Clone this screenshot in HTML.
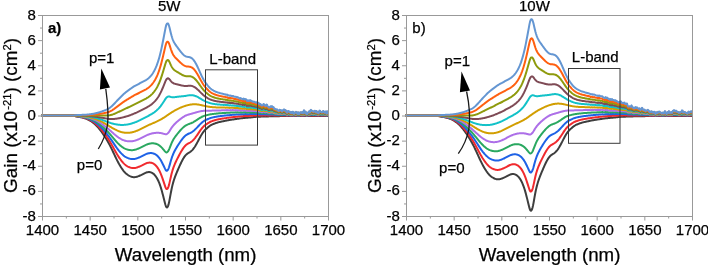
<!DOCTYPE html>
<html><head><meta charset="utf-8"><style>
html,body{margin:0;padding:0;background:#fff;overflow:hidden;}
svg{display:block;will-change:transform;}
text{font-family:"Liberation Sans",sans-serif;fill:#000;stroke:#000;stroke-width:0.25px;}
.tl{font-size:15px;}
.lb{font-size:15px;font-weight:bold;}
.at{font-size:18.7px;}
.sup{font-size:11.3px;}
</style></head><body>
<svg width="708" height="265" viewBox="0 0 708 265">
<g fill="none" stroke-width="2" stroke-linejoin="round" stroke-linecap="round">
<polyline points="42.0,115.60 42.5,115.60 43.0,115.60 43.5,115.60 44.0,115.60 44.5,115.60 45.0,115.60 45.5,115.60 46.0,115.60 46.5,115.60 47.0,115.60 47.5,115.60 48.0,115.60 48.5,115.60 49.0,115.60 49.5,115.60 50.0,115.60 50.5,115.60 51.0,115.60 51.5,115.60 52.0,115.60 52.5,115.60 53.0,115.60 53.5,115.60 54.0,115.60 54.5,115.60 55.0,115.60 55.5,115.60 56.0,115.60 56.5,115.60 57.0,115.60 57.5,115.60 58.0,115.60 58.5,115.60 59.0,115.60 59.5,115.60 60.0,115.60 60.5,115.60 61.0,115.60 61.5,115.60 62.0,115.60 62.5,115.60 63.0,115.60 63.5,115.60 64.0,115.60 64.5,115.60 65.0,115.60 65.5,115.60 66.0,115.60 66.5,115.60 67.0,115.60 67.5,115.60 68.0,115.60 68.5,115.60 69.0,115.60 69.5,115.60 70.0,115.61 70.5,115.62 71.0,115.63 71.5,115.66 72.0,115.70 72.5,115.75 73.0,115.81 73.5,115.89 74.0,115.97 74.5,116.05 75.0,116.14 75.5,116.24 76.0,116.33 76.5,116.43 77.0,116.52 77.5,116.62 78.0,116.71 78.5,116.80 79.0,116.89 79.5,116.99 80.0,117.08 80.5,117.18 81.0,117.28 81.5,117.39 82.0,117.50 82.5,117.62 83.0,117.75 83.5,117.88 84.0,118.02 84.5,118.17 85.0,118.33 85.5,118.50 86.0,118.68 86.5,118.87 87.0,119.08 87.5,119.30 88.0,119.53 88.5,119.77 89.0,120.02 89.5,120.29 90.0,120.58 90.5,120.87 91.0,121.18 91.5,121.51 92.0,121.85 92.5,122.20 93.0,122.58 93.5,122.97 94.0,123.39 94.5,123.82 95.0,124.28 95.5,124.75 96.0,125.24 96.5,125.75 97.0,126.28 97.5,126.81 98.0,127.37 98.5,127.95 99.0,128.54 99.5,129.16 100.0,129.79 100.5,130.43 101.0,131.10 101.5,131.78 102.0,132.47 102.5,133.18 103.0,133.91 103.5,134.65 104.0,135.39 104.5,136.15 105.0,136.93 105.5,137.71 106.0,138.52 106.5,139.34 107.0,140.17 107.5,141.02 108.0,141.88 108.5,142.77 109.0,143.69 109.5,144.63 110.0,145.60 110.5,146.58 111.0,147.59 111.5,148.60 112.0,149.63 112.5,150.68 113.0,151.73 113.5,152.79 114.0,153.86 114.5,154.92 115.0,155.98 115.5,157.03 116.0,158.07 116.5,159.10 117.0,160.10 117.5,161.08 118.0,162.04 118.5,162.97 119.0,163.87 119.5,164.74 120.0,165.58 120.5,166.40 121.0,167.20 121.5,167.97 122.0,168.72 122.5,169.44 123.0,170.13 123.5,170.78 124.0,171.40 124.5,171.98 125.0,172.52 125.5,173.03 126.0,173.48 126.5,173.91 127.0,174.30 127.5,174.66 128.0,175.00 128.5,175.32 129.0,175.62 129.5,175.89 130.0,176.14 130.5,176.37 131.0,176.58 131.5,176.75 132.0,176.91 132.5,177.03 133.0,177.11 133.5,177.17 134.0,177.18 134.5,177.17 135.0,177.12 135.5,177.04 136.0,176.94 136.5,176.82 137.0,176.67 137.5,176.51 138.0,176.33 138.5,176.15 139.0,175.95 139.5,175.75 140.0,175.54 140.5,175.32 141.0,175.09 141.5,174.86 142.0,174.61 142.5,174.36 143.0,174.09 143.5,173.83 144.0,173.57 144.5,173.32 145.0,173.08 145.5,172.86 146.0,172.65 146.5,172.48 147.0,172.33 147.5,172.21 148.0,172.13 148.5,172.08 149.0,172.07 149.5,172.09 150.0,172.15 150.5,172.24 151.0,172.38 151.5,172.58 152.0,172.82 152.5,173.11 153.0,173.46 153.5,173.86 154.0,174.32 154.5,174.82 155.0,175.39 155.5,176.01 156.0,176.69 156.5,177.44 157.0,178.27 157.5,179.19 158.0,180.19 158.5,181.27 159.0,182.45 159.5,183.71 160.0,185.07 160.5,186.54 161.0,188.11 161.5,189.78 162.0,191.55 162.5,193.41 163.0,195.34 163.5,197.27 164.0,199.21 164.5,201.16 165.0,203.14 165.5,205.02 166.0,206.50 166.5,207.35 167.0,207.46 167.5,207.02 168.0,206.17 168.5,204.66 169.0,202.59 169.5,200.12 170.0,197.44 170.5,194.66 171.0,191.99 171.5,189.47 172.0,187.14 172.5,185.04 173.0,183.13 173.5,181.40 174.0,179.82 174.5,178.34 175.0,176.95 175.5,175.63 176.0,174.35 176.5,173.12 177.0,171.92 177.5,170.74 178.0,169.58 178.5,168.43 179.0,167.29 179.5,166.17 180.0,165.07 180.5,163.99 181.0,162.95 181.5,161.93 182.0,160.94 182.5,159.99 183.0,159.09 183.5,158.23 184.0,157.42 184.5,156.68 185.0,156.00 185.5,155.39 186.0,154.85 186.5,154.37 187.0,153.96 187.5,153.59 188.0,153.26 188.5,152.96 189.0,152.66 189.5,152.35 190.0,152.02 190.5,151.67 191.0,151.28 191.5,150.85 192.0,150.37 192.5,149.84 193.0,149.26 193.5,148.63 194.0,147.95 194.5,147.23 195.0,146.47 195.5,145.66 196.0,144.82 196.5,143.95 197.0,143.06 197.5,142.14 198.0,141.21 198.5,140.26 199.0,139.30 199.5,138.35 200.0,137.42 200.5,136.51 201.0,135.63 201.5,134.78 202.0,133.97 202.5,133.19 203.0,132.46 203.5,131.78 204.0,131.14 204.5,130.56 205.0,130.03 205.5,129.54 206.0,129.07 206.5,128.63 207.0,128.18 207.5,127.74 208.0,127.30 208.5,126.88 209.0,126.48 209.5,126.11 210.0,125.77 210.5,125.46 211.0,125.16 211.5,124.89 212.0,124.64 212.5,124.40 213.0,124.18 213.5,123.97 214.0,123.76 214.5,123.57 215.0,123.38 215.5,123.20 216.0,123.02 216.5,122.85 217.0,122.69 217.5,122.54 218.0,122.39 218.5,122.26 219.0,122.13 219.5,122.01 220.0,121.90 220.5,121.79 221.0,121.69 221.5,121.58 222.0,121.48 222.5,121.37 223.0,121.26 223.5,121.16 224.0,121.06 224.5,120.96 225.0,120.86 225.5,120.76 226.0,120.66 226.5,120.56 227.0,120.46 227.5,120.36 228.0,120.27 228.5,120.18 229.0,120.10 229.5,120.02 230.0,119.93 230.5,119.85 231.0,119.76 231.5,119.68 232.0,119.60 232.5,119.53 233.0,119.45 233.5,119.39 234.0,119.32 234.5,119.24 235.0,119.17 235.5,119.09 236.0,119.02 236.5,118.94 237.0,118.87 237.5,118.81 238.0,118.74 238.5,118.67 239.0,118.59 239.5,118.52 240.0,118.45 240.5,118.38 241.0,118.32 241.5,118.26 242.0,118.20 242.5,118.15 243.0,118.09 243.5,118.04 244.0,117.99 244.5,117.94 245.0,117.89 245.5,117.84 246.0,117.80 246.5,117.76 247.0,117.72 247.5,117.68 248.0,117.65 248.5,117.61 249.0,117.57 249.5,117.53 250.0,117.48 250.5,117.44 251.0,117.39 251.5,117.34 252.0,117.29 252.5,117.23 253.0,117.17 253.5,117.12 254.0,117.06 254.5,117.01 255.0,116.95 255.5,116.91 256.0,116.87 256.5,116.83 257.0,116.80 257.5,116.77 258.0,116.74 258.5,116.71 259.0,116.69 259.5,116.67 260.0,116.65 260.5,116.63 261.0,116.61 261.5,116.60 262.0,116.59 262.5,116.57 263.0,116.56 263.5,116.55 264.0,116.53 264.5,116.52 265.0,116.50 265.5,116.48 266.0,116.46 266.5,116.45 267.0,116.43 267.5,116.41 268.0,116.39 268.5,116.38 269.0,116.36 269.5,116.34 270.0,116.32 270.5,116.30 271.0,116.29 271.5,116.27 272.0,116.25 272.5,116.23 273.0,116.21 273.5,116.20 274.0,116.19 274.5,116.19 275.0,116.18 275.5,116.17 276.0,116.17 276.5,116.16 277.0,116.16 277.5,116.15 278.0,116.14 278.5,116.14 279.0,116.13 279.5,116.13 280.0,116.12 280.5,116.11 281.0,116.11 281.5,116.10 282.0,116.10 282.5,116.09 283.0,116.08 283.5,116.08 284.0,116.07 284.5,116.07 285.0,116.06 285.5,116.05 286.0,116.05 286.5,116.04 287.0,116.04 287.5,116.03 288.0,116.02 288.5,116.02 289.0,116.01 289.5,116.01 290.0,116.00 290.5,116.00 291.0,116.00 291.5,116.00 292.0,115.99 292.5,115.99 293.0,115.99 293.5,115.99 294.0,115.99 294.5,115.99 295.0,115.99 295.5,115.99 296.0,115.98 296.5,115.98 297.0,115.98 297.5,115.98 298.0,115.98 298.5,115.98 299.0,115.98 299.5,115.97 300.0,115.97 300.5,115.97 301.0,115.97 301.5,115.97 302.0,115.97 302.5,115.97 303.0,115.97 303.5,115.96 304.0,115.96 304.5,115.96 305.0,115.96 305.5,115.96 306.0,115.96 306.5,115.96 307.0,115.96 307.5,115.95 308.0,115.95 308.5,115.95 309.0,115.95 309.5,115.95 310.0,115.95 310.5,115.95 311.0,115.94 311.5,115.94 312.0,115.94 312.5,115.94 313.0,115.94 313.5,115.94 314.0,115.94 314.5,115.94 315.0,115.93 315.5,115.93 316.0,115.93 316.5,115.93 317.0,115.93 317.5,115.93 318.0,115.93 318.5,115.92 319.0,115.92 319.5,115.92 320.0,115.92 320.5,115.92 321.0,115.92 321.5,115.92 322.0,115.92 322.5,115.91 323.0,115.91 323.5,115.91 324.0,115.91 324.5,115.91 325.0,115.91 325.5,115.91 326.0,115.91 326.5,115.90 327.0,115.90 327.5,115.90 328.0,115.90" stroke="#3e3e3e"/>
<polyline points="42.0,115.60 42.5,115.60 43.0,115.60 43.5,115.60 44.0,115.60 44.5,115.60 45.0,115.60 45.5,115.60 46.0,115.60 46.5,115.60 47.0,115.60 47.5,115.60 48.0,115.60 48.5,115.60 49.0,115.60 49.5,115.60 50.0,115.60 50.5,115.60 51.0,115.60 51.5,115.60 52.0,115.60 52.5,115.60 53.0,115.60 53.5,115.60 54.0,115.60 54.5,115.60 55.0,115.60 55.5,115.60 56.0,115.60 56.5,115.60 57.0,115.60 57.5,115.60 58.0,115.60 58.5,115.60 59.0,115.60 59.5,115.60 60.0,115.60 60.5,115.60 61.0,115.60 61.5,115.60 62.0,115.60 62.5,115.60 63.0,115.60 63.5,115.60 64.0,115.60 64.5,115.60 65.0,115.60 65.5,115.60 66.0,115.60 66.5,115.60 67.0,115.60 67.5,115.60 68.0,115.60 68.5,115.60 69.0,115.60 69.5,115.60 70.0,115.61 70.5,115.62 71.0,115.63 71.5,115.65 72.0,115.69 72.5,115.73 73.0,115.78 73.5,115.84 74.0,115.91 74.5,115.98 75.0,116.06 75.5,116.14 76.0,116.22 76.5,116.30 77.0,116.38 77.5,116.46 78.0,116.54 78.5,116.62 79.0,116.70 79.5,116.78 80.0,116.87 80.5,116.96 81.0,117.05 81.5,117.14 82.0,117.24 82.5,117.34 83.0,117.45 83.5,117.57 84.0,117.70 84.5,117.83 85.0,117.97 85.5,118.12 86.0,118.28 86.5,118.45 87.0,118.63 87.5,118.82 88.0,119.02 88.5,119.24 89.0,119.46 89.5,119.70 90.0,119.95 90.5,120.21 91.0,120.48 91.5,120.76 92.0,121.06 92.5,121.37 93.0,121.70 93.5,122.05 94.0,122.41 94.5,122.79 95.0,123.19 95.5,123.61 96.0,124.04 96.5,124.48 97.0,124.94 97.5,125.41 98.0,125.90 98.5,126.41 99.0,126.93 99.5,127.46 100.0,128.02 100.5,128.58 101.0,129.16 101.5,129.76 102.0,130.37 102.5,130.99 103.0,131.62 103.5,132.27 104.0,132.92 104.5,133.59 105.0,134.26 105.5,134.95 106.0,135.65 106.5,136.37 107.0,137.09 107.5,137.83 108.0,138.58 108.5,139.36 109.0,140.15 109.5,140.96 110.0,141.80 110.5,142.65 111.0,143.51 111.5,144.38 112.0,145.27 112.5,146.16 113.0,147.06 113.5,147.97 114.0,148.87 114.5,149.78 115.0,150.68 115.5,151.57 116.0,152.45 116.5,153.32 117.0,154.17 117.5,155.00 118.0,155.81 118.5,156.60 119.0,157.36 119.5,158.09 120.0,158.79 120.5,159.48 121.0,160.15 121.5,160.79 122.0,161.42 122.5,162.02 123.0,162.59 123.5,163.13 124.0,163.64 124.5,164.12 125.0,164.57 125.5,164.98 126.0,165.35 126.5,165.69 127.0,166.01 127.5,166.30 128.0,166.57 128.5,166.82 129.0,167.05 129.5,167.25 130.0,167.44 130.5,167.61 131.0,167.76 131.5,167.89 132.0,167.99 132.5,168.06 133.0,168.11 133.5,168.12 134.0,168.11 134.5,168.06 135.0,167.99 135.5,167.90 136.0,167.78 136.5,167.64 137.0,167.48 137.5,167.31 138.0,167.13 138.5,166.94 139.0,166.74 139.5,166.53 140.0,166.31 140.5,166.09 141.0,165.85 141.5,165.61 142.0,165.37 142.5,165.11 143.0,164.85 143.5,164.59 144.0,164.33 144.5,164.08 145.0,163.84 145.5,163.61 146.0,163.39 146.5,163.20 147.0,163.03 147.5,162.89 148.0,162.78 148.5,162.70 149.0,162.64 149.5,162.61 150.0,162.61 150.5,162.65 151.0,162.72 151.5,162.83 152.0,162.98 152.5,163.17 153.0,163.41 153.5,163.69 154.0,164.01 154.5,164.37 155.0,164.78 155.5,165.23 156.0,165.73 156.5,166.29 157.0,166.91 157.5,167.59 158.0,168.34 158.5,169.16 159.0,170.05 159.5,171.01 160.0,172.04 160.5,173.16 161.0,174.36 161.5,175.64 162.0,177.00 162.5,178.43 163.0,179.91 163.5,181.39 164.0,182.88 164.5,184.37 165.0,185.89 165.5,187.32 166.0,188.44 166.5,189.05 167.0,189.08 167.5,188.65 168.0,187.90 168.5,186.63 169.0,184.90 169.5,182.87 170.0,180.65 170.5,178.37 171.0,176.16 171.5,174.08 172.0,172.16 172.5,170.41 173.0,168.83 173.5,167.38 174.0,166.06 174.5,164.82 175.0,163.65 175.5,162.53 176.0,161.46 176.5,160.42 177.0,159.41 177.5,158.41 178.0,157.43 178.5,156.46 179.0,155.51 179.5,154.56 180.0,153.64 180.5,152.74 181.0,151.86 181.5,151.00 182.0,150.17 182.5,149.37 183.0,148.61 183.5,147.88 184.0,147.20 184.5,146.57 185.0,145.99 185.5,145.47 186.0,145.01 186.5,144.60 187.0,144.24 187.5,143.92 188.0,143.63 188.5,143.36 189.0,143.10 189.5,142.83 190.0,142.55 190.5,142.25 191.0,141.92 191.5,141.57 192.0,141.17 192.5,140.74 193.0,140.27 193.5,139.76 194.0,139.22 194.5,138.64 195.0,138.03 195.5,137.39 196.0,136.72 196.5,136.03 197.0,135.33 197.5,134.60 198.0,133.87 198.5,133.13 199.0,132.38 199.5,131.64 200.0,130.91 200.5,130.20 201.0,129.52 201.5,128.86 202.0,128.23 202.5,127.64 203.0,127.07 203.5,126.55 204.0,126.07 204.5,125.63 205.0,125.22 205.5,124.85 206.0,124.50 206.5,124.16 207.0,123.83 207.5,123.49 208.0,123.16 208.5,122.84 209.0,122.53 209.5,122.25 210.0,121.99 210.5,121.75 211.0,121.53 211.5,121.33 212.0,121.14 212.5,120.95 213.0,120.78 213.5,120.62 214.0,120.47 214.5,120.31 215.0,120.17 215.5,120.03 216.0,119.89 216.5,119.76 217.0,119.64 217.5,119.52 218.0,119.41 218.5,119.30 219.0,119.20 219.5,119.11 220.0,119.02 220.5,118.94 221.0,118.86 221.5,118.77 222.0,118.69 222.5,118.60 223.0,118.52 223.5,118.45 224.0,118.37 224.5,118.28 225.0,118.20 225.5,118.14 226.0,118.07 226.5,117.96 227.0,117.87 227.5,117.82 228.0,117.79 228.5,117.68 229.0,117.63 229.5,117.60 230.0,117.51 230.5,117.41 231.0,117.37 231.5,117.31 232.0,117.24 232.5,117.16 233.0,117.11 233.5,117.07 234.0,117.04 234.5,117.01 235.0,116.94 235.5,116.85 236.0,116.78 236.5,116.77 237.0,116.72 237.5,116.64 238.0,116.60 238.5,116.58 239.0,116.53 239.5,116.51 240.0,116.45 240.5,116.36 241.0,116.34 241.5,116.28 242.0,116.26 242.5,116.26 243.0,116.20 243.5,116.09 244.0,116.09 244.5,116.10 245.0,116.00 245.5,115.97 246.0,115.94 246.5,115.96 247.0,116.05 247.5,115.97 248.0,115.91 248.5,115.93 249.0,115.91 249.5,115.84 250.0,115.74 250.5,115.78 251.0,115.75 251.5,115.68 252.0,115.69 252.5,115.66 253.0,115.63 253.5,115.57 254.0,115.52 254.5,115.52 255.0,115.46 255.5,115.45 256.0,115.46 256.5,115.40 257.0,115.34 257.5,115.37 258.0,115.35 258.5,115.31 259.0,115.39 259.5,115.43 260.0,115.39 260.5,115.36 261.0,115.44 261.5,115.50 262.0,115.48 262.5,115.46 263.0,115.39 263.5,115.29 264.0,115.30 264.5,115.35 265.0,115.42 265.5,115.43 266.0,115.37 266.5,115.26 267.0,115.25 267.5,115.38 268.0,115.42 268.5,115.44 269.0,115.48 269.5,115.47 270.0,115.41 270.5,115.30 271.0,115.31 271.5,115.34 272.0,115.24 272.5,115.31 273.0,115.32 273.5,115.29 274.0,115.42 274.5,115.46 275.0,115.44 275.5,115.48 276.0,115.51 276.5,115.50 277.0,115.47 277.5,115.54 278.0,115.57 278.5,115.62 279.0,115.61 279.5,115.49 280.0,115.50 280.5,115.53 281.0,115.51 281.5,115.57 282.0,115.62 282.5,115.56 283.0,115.49 283.5,115.50 284.0,115.40 284.5,115.44 285.0,115.53 285.5,115.45 286.0,115.52 286.5,115.65 287.0,115.71 287.5,115.65 288.0,115.52 288.5,115.51 289.0,115.57 289.5,115.61 290.0,115.58 290.5,115.70 291.0,115.72 291.5,115.60 292.0,115.70 292.5,115.57 293.0,115.58 293.5,115.78 294.0,115.77 294.5,115.65 295.0,115.63 295.5,115.66 296.0,115.58 296.5,115.60 297.0,115.72 297.5,115.77 298.0,115.60 298.5,115.64 299.0,115.79 299.5,115.72 300.0,115.62 300.5,115.59 301.0,115.59 301.5,115.67 302.0,115.65 302.5,115.55 303.0,115.70 303.5,115.63 304.0,115.39 304.5,115.53 305.0,115.65 305.5,115.51 306.0,115.60 306.5,115.79 307.0,115.77 307.5,115.68 308.0,115.63 308.5,115.55 309.0,115.49 309.5,115.60 310.0,115.57 310.5,115.38 311.0,115.34 311.5,115.39 312.0,115.45 312.5,115.45 313.0,115.51 313.5,115.52 314.0,115.47 314.5,115.44 315.0,115.41 315.5,115.55 316.0,115.57 316.5,115.43 317.0,115.51 317.5,115.62 318.0,115.60 318.5,115.66 319.0,115.56 319.5,115.39 320.0,115.40 320.5,115.47 321.0,115.52 321.5,115.53 322.0,115.57 322.5,115.53 323.0,115.43 323.5,115.43 324.0,115.53 324.5,115.59 325.0,115.57 325.5,115.47 326.0,115.45 326.5,115.68 327.0,115.67 327.5,115.45 328.0,115.44" stroke="#f02a2e"/>
<polyline points="42.0,115.60 42.5,115.60 43.0,115.60 43.5,115.60 44.0,115.60 44.5,115.60 45.0,115.60 45.5,115.60 46.0,115.60 46.5,115.60 47.0,115.60 47.5,115.60 48.0,115.60 48.5,115.60 49.0,115.60 49.5,115.60 50.0,115.60 50.5,115.60 51.0,115.60 51.5,115.60 52.0,115.60 52.5,115.60 53.0,115.60 53.5,115.60 54.0,115.60 54.5,115.60 55.0,115.60 55.5,115.60 56.0,115.60 56.5,115.60 57.0,115.60 57.5,115.60 58.0,115.60 58.5,115.60 59.0,115.60 59.5,115.60 60.0,115.60 60.5,115.60 61.0,115.60 61.5,115.60 62.0,115.60 62.5,115.60 63.0,115.60 63.5,115.60 64.0,115.60 64.5,115.60 65.0,115.60 65.5,115.60 66.0,115.60 66.5,115.60 67.0,115.60 67.5,115.60 68.0,115.60 68.5,115.60 69.0,115.60 69.5,115.60 70.0,115.61 70.5,115.61 71.0,115.63 71.5,115.64 72.0,115.67 72.5,115.71 73.0,115.75 73.5,115.80 74.0,115.85 74.5,115.91 75.0,115.98 75.5,116.04 76.0,116.11 76.5,116.18 77.0,116.24 77.5,116.31 78.0,116.38 78.5,116.44 79.0,116.51 79.5,116.58 80.0,116.65 80.5,116.73 81.0,116.81 81.5,116.89 82.0,116.98 82.5,117.07 83.0,117.16 83.5,117.26 84.0,117.37 84.5,117.49 85.0,117.61 85.5,117.74 86.0,117.88 86.5,118.03 87.0,118.18 87.5,118.35 88.0,118.52 88.5,118.71 89.0,118.90 89.5,119.10 90.0,119.32 90.5,119.54 91.0,119.78 91.5,120.02 92.0,120.28 92.5,120.55 93.0,120.83 93.5,121.13 94.0,121.44 94.5,121.77 95.0,122.11 95.5,122.46 96.0,122.83 96.5,123.21 97.0,123.61 97.5,124.01 98.0,124.43 98.5,124.86 99.0,125.31 99.5,125.77 100.0,126.25 100.5,126.73 101.0,127.23 101.5,127.74 102.0,128.26 102.5,128.79 103.0,129.34 103.5,129.89 104.0,130.45 104.5,131.02 105.0,131.60 105.5,132.19 106.0,132.79 106.5,133.40 107.0,134.02 107.5,134.65 108.0,135.29 108.5,135.94 109.0,136.61 109.5,137.30 110.0,138.00 110.5,138.71 111.0,139.43 111.5,140.16 112.0,140.90 112.5,141.64 113.0,142.39 113.5,143.14 114.0,143.89 114.5,144.63 115.0,145.37 115.5,146.11 116.0,146.83 116.5,147.54 117.0,148.24 117.5,148.92 118.0,149.58 118.5,150.22 119.0,150.84 119.5,151.43 120.0,152.01 120.5,152.56 121.0,153.10 121.5,153.62 122.0,154.12 122.5,154.60 123.0,155.05 123.5,155.48 124.0,155.89 124.5,156.26 125.0,156.61 125.5,156.93 126.0,157.22 126.5,157.48 127.0,157.71 127.5,157.93 128.0,158.13 128.5,158.31 129.0,158.47 129.5,158.62 130.0,158.75 130.5,158.86 131.0,158.95 131.5,159.02 132.0,159.07 132.5,159.10 133.0,159.10 133.5,159.08 134.0,159.03 134.5,158.96 135.0,158.87 135.5,158.75 136.0,158.62 136.5,158.46 137.0,158.30 137.5,158.12 138.0,157.93 138.5,157.73 139.0,157.52 139.5,157.30 140.0,157.08 140.5,156.85 141.0,156.61 141.5,156.37 142.0,156.12 142.5,155.86 143.0,155.60 143.5,155.34 144.0,155.09 144.5,154.83 145.0,154.59 145.5,154.35 146.0,154.13 146.5,153.92 147.0,153.74 147.5,153.57 148.0,153.43 148.5,153.31 149.0,153.21 149.5,153.14 150.0,153.08 150.5,153.05 151.0,153.05 151.5,153.08 152.0,153.14 152.5,153.23 153.0,153.35 153.5,153.51 154.0,153.70 154.5,153.92 155.0,154.17 155.5,154.45 156.0,154.77 156.5,155.13 157.0,155.54 157.5,155.99 158.0,156.49 158.5,157.05 159.0,157.65 159.5,158.30 160.0,159.01 160.5,159.78 161.0,160.61 161.5,161.50 162.0,162.44 162.5,163.44 163.0,164.47 163.5,165.51 164.0,166.54 164.5,167.58 165.0,168.64 165.5,169.63 166.0,170.39 166.5,170.76 167.0,170.69 167.5,170.29 168.0,169.64 168.5,168.60 169.0,167.22 169.5,165.61 170.0,163.87 170.5,162.07 171.0,160.33 171.5,158.69 172.0,157.17 172.5,155.78 173.0,154.52 173.5,153.36 174.0,152.29 174.5,151.29 175.0,150.34 175.5,149.43 176.0,148.56 176.5,147.72 177.0,146.89 177.5,146.08 178.0,145.29 178.5,144.50 179.0,143.72 179.5,142.96 180.0,142.21 180.5,141.48 181.0,140.76 181.5,140.07 182.0,139.40 182.5,138.75 183.0,138.13 183.5,137.54 184.0,136.98 184.5,136.47 185.0,135.99 185.5,135.56 186.0,135.17 186.5,134.82 187.0,134.52 187.5,134.24 188.0,134.00 188.5,133.76 189.0,133.54 189.5,133.31 190.0,133.08 190.5,132.84 191.0,132.57 191.5,132.29 192.0,131.98 192.5,131.64 193.0,131.28 193.5,130.89 194.0,130.48 194.5,130.05 195.0,129.59 195.5,129.11 196.0,128.62 196.5,128.11 197.0,127.60 197.5,127.07 198.0,126.53 198.5,125.99 199.0,125.45 199.5,124.92 200.0,124.39 200.5,123.89 201.0,123.40 201.5,122.94 202.0,122.50 202.5,122.08 203.0,121.69 203.5,121.32 204.0,120.99 204.5,120.69 205.0,120.41 205.5,120.16 206.0,119.92 206.5,119.70 207.0,119.47 207.5,119.24 208.0,119.02 208.5,118.80 209.0,118.59 209.5,118.39 210.0,118.22 210.5,118.05 211.0,117.90 211.5,117.76 212.0,117.63 212.5,117.51 213.0,117.39 213.5,117.28 214.0,117.17 214.5,117.06 215.0,116.96 215.5,116.86 216.0,116.77 216.5,116.67 217.0,116.58 217.5,116.51 218.0,116.42 218.5,116.33 219.0,116.26 219.5,116.20 220.0,116.14 220.5,116.09 221.0,116.03 221.5,115.97 222.0,115.90 222.5,115.82 223.0,115.78 223.5,115.75 224.0,115.68 224.5,115.60 225.0,115.53 225.5,115.52 226.0,115.47 226.5,115.37 227.0,115.28 227.5,115.28 228.0,115.30 228.5,115.18 229.0,115.16 229.5,115.19 230.0,115.09 230.5,114.98 231.0,114.97 231.5,114.94 232.0,114.87 232.5,114.80 233.0,114.77 233.5,114.76 234.0,114.76 234.5,114.77 235.0,114.70 235.5,114.61 236.0,114.55 236.5,114.60 237.0,114.56 237.5,114.46 238.0,114.47 238.5,114.49 239.0,114.46 239.5,114.50 240.0,114.45 240.5,114.33 241.0,114.36 241.5,114.31 242.0,114.32 242.5,114.37 243.0,114.31 243.5,114.15 244.0,114.20 244.5,114.27 245.0,114.10 245.5,114.10 246.0,114.08 246.5,114.16 247.0,114.37 247.5,114.26 248.0,114.18 248.5,114.25 249.0,114.25 249.5,114.15 250.0,114.00 250.5,114.11 251.0,114.10 251.5,114.03 252.0,114.09 252.5,114.09 253.0,114.08 253.5,114.02 254.0,113.97 254.5,114.04 255.0,113.97 255.5,113.99 256.0,114.05 256.5,113.97 257.0,113.88 257.5,113.97 258.0,113.95 258.5,113.91 259.0,114.09 259.5,114.18 260.0,114.13 260.5,114.09 261.0,114.27 261.5,114.40 262.0,114.37 262.5,114.35 263.0,114.21 263.5,114.03 264.0,114.07 264.5,114.19 265.0,114.34 265.5,114.38 266.0,114.27 266.5,114.07 267.0,114.08 267.5,114.35 268.0,114.46 268.5,114.50 269.0,114.60 269.5,114.59 270.0,114.50 270.5,114.30 271.0,114.33 271.5,114.40 272.0,114.23 272.5,114.39 273.0,114.43 273.5,114.37 274.0,114.64 274.5,114.73 275.0,114.70 275.5,114.79 276.0,114.85 276.5,114.83 277.0,114.78 277.5,114.93 278.0,115.01 278.5,115.10 279.0,115.09 279.5,114.86 280.0,114.89 280.5,114.94 281.0,114.91 281.5,115.04 282.0,115.15 282.5,115.03 283.0,114.89 283.5,114.91 284.0,114.74 284.5,114.81 285.0,115.00 285.5,114.85 286.0,114.99 286.5,115.25 287.0,115.38 287.5,115.27 288.0,115.01 288.5,115.00 289.0,115.12 289.5,115.21 290.0,115.17 290.5,115.39 291.0,115.44 291.5,115.20 292.0,115.40 292.5,115.15 293.0,115.17 293.5,115.57 294.0,115.56 294.5,115.30 295.0,115.28 295.5,115.34 296.0,115.17 296.5,115.22 297.0,115.46 297.5,115.57 298.0,115.21 298.5,115.30 299.0,115.60 299.5,115.46 300.0,115.27 300.5,115.21 301.0,115.22 301.5,115.37 302.0,115.34 302.5,115.13 303.0,115.43 303.5,115.30 304.0,114.82 304.5,115.09 305.0,115.34 305.5,115.07 306.0,115.24 306.5,115.63 307.0,115.59 307.5,115.41 308.0,115.31 308.5,115.15 309.0,115.04 309.5,115.25 310.0,115.20 310.5,114.82 311.0,114.73 311.5,114.83 312.0,114.97 312.5,114.96 313.0,115.08 313.5,115.10 314.0,115.00 314.5,114.95 315.0,114.89 315.5,115.16 316.0,115.20 316.5,114.93 317.0,115.09 317.5,115.31 318.0,115.27 318.5,115.39 319.0,115.19 319.5,114.86 320.0,114.89 320.5,115.02 321.0,115.13 321.5,115.14 322.0,115.23 322.5,115.16 323.0,114.95 323.5,114.95 324.0,115.15 324.5,115.26 325.0,115.23 325.5,115.03 326.0,115.00 326.5,115.45 327.0,115.44 327.5,115.00 328.0,114.97" stroke="#1e62e6"/>
<polyline points="42.0,115.60 42.5,115.60 43.0,115.60 43.5,115.60 44.0,115.60 44.5,115.60 45.0,115.60 45.5,115.60 46.0,115.60 46.5,115.60 47.0,115.60 47.5,115.60 48.0,115.60 48.5,115.60 49.0,115.60 49.5,115.60 50.0,115.60 50.5,115.60 51.0,115.60 51.5,115.60 52.0,115.60 52.5,115.60 53.0,115.60 53.5,115.60 54.0,115.60 54.5,115.60 55.0,115.60 55.5,115.60 56.0,115.60 56.5,115.60 57.0,115.60 57.5,115.60 58.0,115.60 58.5,115.60 59.0,115.60 59.5,115.60 60.0,115.60 60.5,115.60 61.0,115.60 61.5,115.60 62.0,115.60 62.5,115.60 63.0,115.60 63.5,115.60 64.0,115.60 64.5,115.60 65.0,115.60 65.5,115.60 66.0,115.60 66.5,115.60 67.0,115.60 67.5,115.60 68.0,115.60 68.5,115.60 69.0,115.60 69.5,115.60 70.0,115.61 70.5,115.61 71.0,115.62 71.5,115.64 72.0,115.66 72.5,115.69 73.0,115.72 73.5,115.76 74.0,115.80 74.5,115.84 75.0,115.89 75.5,115.94 76.0,116.00 76.5,116.05 77.0,116.10 77.5,116.16 78.0,116.21 78.5,116.27 79.0,116.32 79.5,116.38 80.0,116.44 80.5,116.50 81.0,116.57 81.5,116.64 82.0,116.71 82.5,116.79 83.0,116.87 83.5,116.96 84.0,117.05 84.5,117.15 85.0,117.25 85.5,117.36 86.0,117.48 86.5,117.60 87.0,117.74 87.5,117.87 88.0,118.02 88.5,118.18 89.0,118.34 89.5,118.51 90.0,118.69 90.5,118.88 91.0,119.07 91.5,119.28 92.0,119.49 92.5,119.72 93.0,119.96 93.5,120.20 94.0,120.46 94.5,120.74 95.0,121.02 95.5,121.32 96.0,121.63 96.5,121.95 97.0,122.27 97.5,122.61 98.0,122.96 98.5,123.32 99.0,123.70 99.5,124.08 100.0,124.47 100.5,124.88 101.0,125.29 101.5,125.72 102.0,126.15 102.5,126.60 103.0,127.05 103.5,127.51 104.0,127.98 104.5,128.45 105.0,128.93 105.5,129.42 106.0,129.92 106.5,130.43 107.0,130.94 107.5,131.46 108.0,131.99 108.5,132.53 109.0,133.07 109.5,133.63 110.0,134.20 110.5,134.77 111.0,135.35 111.5,135.94 112.0,136.53 112.5,137.12 113.0,137.72 113.5,138.31 114.0,138.90 114.5,139.49 115.0,140.07 115.5,140.65 116.0,141.21 116.5,141.77 117.0,142.31 117.5,142.84 118.0,143.35 118.5,143.84 119.0,144.32 119.5,144.78 120.0,145.22 120.5,145.64 121.0,146.05 121.5,146.44 122.0,146.82 122.5,147.18 123.0,147.51 123.5,147.83 124.0,148.13 124.5,148.40 125.0,148.65 125.5,148.88 126.0,149.08 126.5,149.26 127.0,149.42 127.5,149.57 128.0,149.69 128.5,149.81 129.0,149.90 129.5,149.98 130.0,150.05 130.5,150.10 131.0,150.13 131.5,150.15 132.0,150.15 132.5,150.13 133.0,150.09 133.5,150.03 134.0,149.95 134.5,149.85 135.0,149.74 135.5,149.60 136.0,149.45 136.5,149.29 137.0,149.11 137.5,148.92 138.0,148.72 138.5,148.51 139.0,148.30 139.5,148.08 140.0,147.85 140.5,147.61 141.0,147.37 141.5,147.13 142.0,146.88 142.5,146.62 143.0,146.36 143.5,146.10 144.0,145.84 144.5,145.59 145.0,145.34 145.5,145.10 146.0,144.87 146.5,144.65 147.0,144.44 147.5,144.26 148.0,144.08 148.5,143.93 149.0,143.78 149.5,143.66 150.0,143.55 150.5,143.45 151.0,143.38 151.5,143.33 152.0,143.30 152.5,143.29 153.0,143.30 153.5,143.33 154.0,143.39 154.5,143.46 155.0,143.56 155.5,143.67 156.0,143.81 156.5,143.98 157.0,144.17 157.5,144.39 158.0,144.65 158.5,144.93 159.0,145.25 159.5,145.60 160.0,145.98 160.5,146.40 161.0,146.86 161.5,147.36 162.0,147.89 162.5,148.45 163.0,149.04 163.5,149.62 164.0,150.21 164.5,150.79 165.0,151.39 165.5,151.94 166.0,152.33 166.5,152.47 167.0,152.31 167.5,151.92 168.0,151.38 168.5,150.57 169.0,149.54 169.5,148.35 170.0,147.08 170.5,145.77 171.0,144.51 171.5,143.30 172.0,142.19 172.5,141.16 173.0,140.21 173.5,139.34 174.0,138.53 174.5,137.76 175.0,137.04 175.5,136.34 176.0,135.67 176.5,135.01 177.0,134.38 177.5,133.75 178.0,133.14 178.5,132.53 179.0,131.94 179.5,131.35 180.0,130.78 180.5,130.22 181.0,129.67 181.5,129.14 182.0,128.62 182.5,128.13 183.0,127.65 183.5,127.19 184.0,126.76 184.5,126.36 185.0,125.98 185.5,125.64 186.0,125.33 186.5,125.05 187.0,124.80 187.5,124.57 188.0,124.36 188.5,124.17 189.0,123.98 189.5,123.80 190.0,123.61 190.5,123.42 191.0,123.22 191.5,123.01 192.0,122.78 192.5,122.54 193.0,122.29 193.5,122.02 194.0,121.74 194.5,121.45 195.0,121.15 195.5,120.84 196.0,120.52 196.5,120.20 197.0,119.87 197.5,119.53 198.0,119.20 198.5,118.86 199.0,118.53 199.5,118.20 200.0,117.88 200.5,117.58 201.0,117.29 201.5,117.02 202.0,116.76 202.5,116.52 203.0,116.30 203.5,116.09 204.0,115.91 204.5,115.75 205.0,115.60 205.5,115.47 206.0,115.35 206.5,115.23 207.0,115.12 207.5,115.00 208.0,114.87 208.5,114.75 209.0,114.64 209.5,114.53 210.0,114.44 210.5,114.35 211.0,114.27 211.5,114.19 212.0,114.12 212.5,114.06 213.0,113.99 213.5,113.93 214.0,113.87 214.5,113.81 215.0,113.75 215.5,113.70 216.0,113.64 216.5,113.58 217.0,113.53 217.5,113.49 218.0,113.44 218.5,113.37 219.0,113.33 219.5,113.30 220.0,113.26 220.5,113.24 221.0,113.20 221.5,113.16 222.0,113.12 222.5,113.05 223.0,113.05 223.5,113.04 224.0,112.99 224.5,112.92 225.0,112.86 225.5,112.90 226.0,112.88 226.5,112.78 227.0,112.69 227.5,112.74 228.0,112.82 228.5,112.68 229.0,112.69 229.5,112.77 230.0,112.67 230.5,112.54 231.0,112.57 231.5,112.57 232.0,112.51 232.5,112.44 233.0,112.43 233.5,112.44 234.0,112.48 234.5,112.53 235.0,112.47 235.5,112.37 236.0,112.32 236.5,112.42 237.0,112.41 237.5,112.29 238.0,112.34 238.5,112.40 239.0,112.39 239.5,112.49 240.0,112.46 240.5,112.30 241.0,112.38 241.5,112.34 242.0,112.38 242.5,112.49 243.0,112.42 243.5,112.20 244.0,112.30 244.5,112.43 245.0,112.21 245.5,112.23 246.0,112.22 246.5,112.35 247.0,112.70 247.5,112.54 248.0,112.45 248.5,112.57 249.0,112.58 249.5,112.46 250.0,112.25 250.5,112.45 251.0,112.46 251.5,112.37 252.0,112.50 252.5,112.51 253.0,112.53 253.5,112.48 254.0,112.43 254.5,112.55 255.0,112.48 255.5,112.53 256.0,112.64 256.5,112.54 257.0,112.42 257.5,112.56 258.0,112.56 258.5,112.51 259.0,112.79 259.5,112.94 260.0,112.88 260.5,112.82 261.0,113.09 261.5,113.30 262.0,113.26 262.5,113.24 263.0,113.04 263.5,112.78 264.0,112.84 264.5,113.03 265.0,113.25 265.5,113.33 266.0,113.17 266.5,112.88 267.0,112.91 267.5,113.32 268.0,113.49 268.5,113.56 269.0,113.73 269.5,113.72 270.0,113.59 270.5,113.29 271.0,113.35 271.5,113.47 272.0,113.21 272.5,113.47 273.0,113.54 273.5,113.46 274.0,113.87 274.5,114.00 275.0,113.96 275.5,114.10 276.0,114.19 276.5,114.16 277.0,114.09 277.5,114.32 278.0,114.44 278.5,114.59 279.0,114.57 279.5,114.22 280.0,114.27 280.5,114.36 281.0,114.31 281.5,114.51 282.0,114.68 282.5,114.49 283.0,114.29 283.5,114.33 284.0,114.07 284.5,114.18 285.0,114.47 285.5,114.24 286.0,114.46 286.5,114.85 287.0,115.06 287.5,114.90 288.0,114.50 288.5,114.49 289.0,114.68 289.5,114.81 290.0,114.75 290.5,115.09 291.0,115.17 291.5,114.79 292.0,115.10 292.5,114.73 293.0,114.75 293.5,115.36 294.0,115.34 294.5,114.96 295.0,114.92 295.5,115.01 296.0,114.76 296.5,114.85 297.0,115.20 297.5,115.36 298.0,114.83 298.5,114.96 299.0,115.41 299.5,115.21 300.0,114.91 300.5,114.83 301.0,114.84 301.5,115.07 302.0,115.02 302.5,114.72 303.0,115.16 303.5,114.97 304.0,114.25 304.5,114.65 305.0,115.03 305.5,114.62 306.0,114.88 306.5,115.47 307.0,115.41 307.5,115.14 308.0,114.99 308.5,114.75 309.0,114.58 309.5,114.90 310.0,114.83 310.5,114.25 311.0,114.13 311.5,114.27 312.0,114.48 312.5,114.47 313.0,114.64 313.5,114.68 314.0,114.53 314.5,114.46 315.0,114.36 315.5,114.77 316.0,114.84 316.5,114.43 317.0,114.67 317.5,115.00 318.0,114.94 318.5,115.12 319.0,114.82 319.5,114.33 320.0,114.37 320.5,114.57 321.0,114.74 321.5,114.75 322.0,114.88 322.5,114.78 323.0,114.47 323.5,114.47 324.0,114.77 324.5,114.94 325.0,114.89 325.5,114.60 326.0,114.55 326.5,115.23 327.0,115.20 327.5,114.54 328.0,114.51" stroke="#2aa860"/>
<polyline points="42.0,115.60 42.5,115.60 43.0,115.60 43.5,115.60 44.0,115.60 44.5,115.60 45.0,115.60 45.5,115.60 46.0,115.60 46.5,115.60 47.0,115.60 47.5,115.60 48.0,115.60 48.5,115.60 49.0,115.60 49.5,115.60 50.0,115.60 50.5,115.60 51.0,115.60 51.5,115.60 52.0,115.60 52.5,115.60 53.0,115.60 53.5,115.60 54.0,115.60 54.5,115.60 55.0,115.60 55.5,115.60 56.0,115.60 56.5,115.60 57.0,115.60 57.5,115.60 58.0,115.60 58.5,115.60 59.0,115.60 59.5,115.60 60.0,115.60 60.5,115.60 61.0,115.60 61.5,115.60 62.0,115.60 62.5,115.60 63.0,115.60 63.5,115.60 64.0,115.60 64.5,115.60 65.0,115.60 65.5,115.60 66.0,115.60 66.5,115.60 67.0,115.60 67.5,115.60 68.0,115.60 68.5,115.60 69.0,115.60 69.5,115.60 70.0,115.60 70.5,115.61 71.0,115.62 71.5,115.63 72.0,115.64 72.5,115.66 73.0,115.69 73.5,115.71 74.0,115.74 74.5,115.77 75.0,115.81 75.5,115.85 76.0,115.88 76.5,115.92 77.0,115.96 77.5,116.00 78.0,116.04 78.5,116.09 79.0,116.13 79.5,116.18 80.0,116.23 80.5,116.28 81.0,116.33 81.5,116.39 82.0,116.45 82.5,116.51 83.0,116.58 83.5,116.65 84.0,116.73 84.5,116.81 85.0,116.89 85.5,116.98 86.0,117.08 86.5,117.18 87.0,117.29 87.5,117.40 88.0,117.52 88.5,117.65 89.0,117.78 89.5,117.92 90.0,118.06 90.5,118.21 91.0,118.37 91.5,118.54 92.0,118.71 92.5,118.89 93.0,119.08 93.5,119.28 94.0,119.49 94.5,119.71 95.0,119.94 95.5,120.18 96.0,120.42 96.5,120.68 97.0,120.94 97.5,121.21 98.0,121.49 98.5,121.78 99.0,122.08 99.5,122.39 100.0,122.70 100.5,123.03 101.0,123.36 101.5,123.70 102.0,124.05 102.5,124.40 103.0,124.76 103.5,125.13 104.0,125.50 104.5,125.88 105.0,126.27 105.5,126.66 106.0,127.06 106.5,127.46 107.0,127.86 107.5,128.27 108.0,128.69 108.5,129.11 109.0,129.54 109.5,129.97 110.0,130.40 110.5,130.84 111.0,131.28 111.5,131.72 112.0,132.16 112.5,132.60 113.0,133.04 113.5,133.48 114.0,133.92 114.5,134.34 115.0,134.77 115.5,135.18 116.0,135.59 116.5,135.99 117.0,136.38 117.5,136.75 118.0,137.12 118.5,137.47 119.0,137.80 119.5,138.12 120.0,138.43 120.5,138.72 121.0,139.00 121.5,139.27 122.0,139.52 122.5,139.76 123.0,139.98 123.5,140.18 124.0,140.37 124.5,140.54 125.0,140.70 125.5,140.83 126.0,140.95 126.5,141.05 127.0,141.13 127.5,141.20 128.0,141.26 128.5,141.30 129.0,141.33 129.5,141.35 130.0,141.35 130.5,141.34 131.0,141.32 131.5,141.28 132.0,141.23 132.5,141.16 133.0,141.08 133.5,140.99 134.0,140.88 134.5,140.75 135.0,140.61 135.5,140.46 136.0,140.29 136.5,140.11 137.0,139.92 137.5,139.73 138.0,139.52 138.5,139.30 139.0,139.08 139.5,138.85 140.0,138.62 140.5,138.38 141.0,138.13 141.5,137.88 142.0,137.63 142.5,137.37 143.0,137.11 143.5,136.85 144.0,136.60 144.5,136.34 145.0,136.09 145.5,135.85 146.0,135.61 146.5,135.37 147.0,135.15 147.5,134.94 148.0,134.73 148.5,134.54 149.0,134.35 149.5,134.18 150.0,134.01 150.5,133.86 151.0,133.71 151.5,133.58 152.0,133.46 152.5,133.35 153.0,133.25 153.5,133.16 154.0,133.08 154.5,133.01 155.0,132.95 155.5,132.89 156.0,132.85 156.5,132.82 157.0,132.80 157.5,132.80 158.0,132.80 158.5,132.82 159.0,132.85 159.5,132.90 160.0,132.95 160.5,133.03 161.0,133.11 161.5,133.22 162.0,133.34 162.5,133.47 163.0,133.61 163.5,133.74 164.0,133.87 164.5,134.00 165.0,134.14 165.5,134.25 166.0,134.27 166.5,134.17 167.0,133.92 167.5,133.56 168.0,133.12 168.5,132.54 169.0,131.86 169.5,131.10 170.0,130.29 170.5,129.47 171.0,128.68 171.5,127.92 172.0,127.20 172.5,126.53 173.0,125.90 173.5,125.32 174.0,124.76 174.5,124.24 175.0,123.73 175.5,123.24 176.0,122.77 176.5,122.31 177.0,121.86 177.5,121.42 178.0,120.99 178.5,120.57 179.0,120.15 179.5,119.75 180.0,119.35 180.5,118.96 181.0,118.58 181.5,118.21 182.0,117.85 182.5,117.50 183.0,117.17 183.5,116.85 184.0,116.54 184.5,116.25 185.0,115.98 185.5,115.73 186.0,115.49 186.5,115.28 187.0,115.08 187.5,114.90 188.0,114.73 188.5,114.57 189.0,114.42 189.5,114.28 190.0,114.14 190.5,114.00 191.0,113.86 191.5,113.73 192.0,113.58 192.5,113.44 193.0,113.30 193.5,113.15 194.0,113.01 194.5,112.86 195.0,112.71 195.5,112.57 196.0,112.42 196.5,112.28 197.0,112.14 197.5,112.00 198.0,111.86 198.5,111.73 199.0,111.61 199.5,111.49 200.0,111.37 200.5,111.27 201.0,111.18 201.5,111.10 202.0,111.03 202.5,110.96 203.0,110.91 203.5,110.87 204.0,110.83 204.5,110.81 205.0,110.79 205.5,110.78 206.0,110.78 206.5,110.77 207.0,110.76 207.5,110.75 208.0,110.73 208.5,110.71 209.0,110.69 209.5,110.68 210.0,110.66 210.5,110.65 211.0,110.64 211.5,110.63 212.0,110.62 212.5,110.61 213.0,110.60 213.5,110.58 214.0,110.57 214.5,110.56 215.0,110.54 215.5,110.53 216.0,110.52 216.5,110.49 217.0,110.47 217.5,110.48 218.0,110.46 218.5,110.41 219.0,110.39 219.5,110.39 220.0,110.38 220.5,110.38 221.0,110.38 221.5,110.35 222.0,110.33 222.5,110.28 223.0,110.31 223.5,110.33 224.0,110.29 224.5,110.24 225.0,110.20 225.5,110.29 226.0,110.29 226.5,110.19 227.0,110.10 227.5,110.21 228.0,110.34 228.5,110.17 229.0,110.21 229.5,110.36 230.0,110.24 230.5,110.10 231.0,110.17 231.5,110.20 232.0,110.15 232.5,110.08 233.0,110.09 233.5,110.13 234.0,110.20 234.5,110.29 235.0,110.24 235.5,110.14 236.0,110.08 236.5,110.25 237.0,110.25 237.5,110.12 238.0,110.20 238.5,110.31 239.0,110.33 239.5,110.48 240.0,110.46 240.5,110.28 241.0,110.40 241.5,110.36 242.0,110.44 242.5,110.60 243.0,110.52 243.5,110.26 244.0,110.40 244.5,110.59 245.0,110.32 245.5,110.36 246.0,110.35 246.5,110.55 247.0,111.02 247.5,110.83 248.0,110.72 248.5,110.89 249.0,110.92 249.5,110.77 250.0,110.51 250.5,110.79 251.0,110.81 251.5,110.72 252.0,110.90 252.5,110.94 253.0,110.98 253.5,110.93 254.0,110.88 254.5,111.06 255.0,110.99 255.5,111.07 256.0,111.23 256.5,111.11 257.0,110.96 257.5,111.16 258.0,111.17 258.5,111.10 259.0,111.50 259.5,111.70 260.0,111.62 260.5,111.55 261.0,111.92 261.5,112.20 262.0,112.15 262.5,112.13 263.0,111.87 263.5,111.52 264.0,111.61 264.5,111.86 265.0,112.17 265.5,112.28 266.0,112.07 266.5,111.69 267.0,111.73 267.5,112.28 268.0,112.52 268.5,112.62 269.0,112.85 269.5,112.84 270.0,112.68 270.5,112.29 271.0,112.38 271.5,112.54 272.0,112.20 272.5,112.55 273.0,112.64 273.5,112.55 274.0,113.09 274.5,113.26 275.0,113.23 275.5,113.41 276.0,113.53 276.5,113.50 277.0,113.40 277.5,113.71 278.0,113.87 278.5,114.07 279.0,114.05 279.5,113.59 280.0,113.65 280.5,113.78 281.0,113.71 281.5,113.98 282.0,114.21 282.5,113.96 283.0,113.69 283.5,113.75 284.0,113.40 284.5,113.54 285.0,113.94 285.5,113.64 286.0,113.93 286.5,114.46 287.0,114.73 287.5,114.52 288.0,113.99 288.5,113.98 289.0,114.23 289.5,114.41 290.0,114.34 290.5,114.78 291.0,114.89 291.5,114.39 292.0,114.80 292.5,114.31 293.0,114.34 293.5,115.15 294.0,115.12 294.5,114.62 295.0,114.57 295.5,114.69 296.0,114.35 296.5,114.47 297.0,114.94 297.5,115.16 298.0,114.45 298.5,114.62 299.0,115.22 299.5,114.95 300.0,114.56 300.5,114.45 301.0,114.46 301.5,114.77 302.0,114.71 302.5,114.30 303.0,114.89 303.5,114.64 304.0,113.69 304.5,114.21 305.0,114.73 305.5,114.18 306.0,114.52 306.5,115.30 307.0,115.23 307.5,114.86 308.0,114.66 308.5,114.36 309.0,114.13 309.5,114.55 310.0,114.46 310.5,113.69 311.0,113.52 311.5,113.72 312.0,113.99 312.5,113.98 313.0,114.21 313.5,114.27 314.0,114.06 314.5,113.97 315.0,113.84 315.5,114.38 316.0,114.47 316.5,113.93 317.0,114.25 317.5,114.69 318.0,114.61 318.5,114.85 319.0,114.45 319.5,113.80 320.0,113.85 320.5,114.12 321.0,114.34 321.5,114.36 322.0,114.54 322.5,114.40 323.0,113.99 323.5,114.00 324.0,114.39 324.5,114.62 325.0,114.55 325.5,114.16 326.0,114.10 326.5,115.00 327.0,114.97 327.5,114.09 328.0,114.04" stroke="#ad6fe8"/>
<polyline points="42.0,115.60 42.5,115.60 43.0,115.60 43.5,115.60 44.0,115.60 44.5,115.60 45.0,115.60 45.5,115.60 46.0,115.60 46.5,115.60 47.0,115.60 47.5,115.60 48.0,115.60 48.5,115.60 49.0,115.60 49.5,115.60 50.0,115.60 50.5,115.60 51.0,115.60 51.5,115.60 52.0,115.60 52.5,115.60 53.0,115.60 53.5,115.60 54.0,115.60 54.5,115.60 55.0,115.60 55.5,115.60 56.0,115.60 56.5,115.60 57.0,115.60 57.5,115.60 58.0,115.60 58.5,115.60 59.0,115.60 59.5,115.60 60.0,115.60 60.5,115.60 61.0,115.60 61.5,115.60 62.0,115.60 62.5,115.60 63.0,115.60 63.5,115.60 64.0,115.60 64.5,115.60 65.0,115.60 65.5,115.60 66.0,115.60 66.5,115.60 67.0,115.60 67.5,115.60 68.0,115.60 68.5,115.60 69.0,115.60 69.5,115.60 70.0,115.60 70.5,115.61 71.0,115.61 71.5,115.62 72.0,115.63 72.5,115.64 73.0,115.65 73.5,115.67 74.0,115.69 74.5,115.71 75.0,115.73 75.5,115.75 76.0,115.77 76.5,115.80 77.0,115.82 77.5,115.85 78.0,115.88 78.5,115.91 79.0,115.94 79.5,115.98 80.0,116.01 80.5,116.05 81.0,116.10 81.5,116.14 82.0,116.19 82.5,116.24 83.0,116.29 83.5,116.35 84.0,116.40 84.5,116.47 85.0,116.53 85.5,116.60 86.0,116.68 86.5,116.76 87.0,116.84 87.5,116.93 88.0,117.02 88.5,117.11 89.0,117.22 89.5,117.32 90.0,117.43 90.5,117.55 91.0,117.67 91.5,117.79 92.0,117.93 92.5,118.07 93.0,118.21 93.5,118.36 94.0,118.52 94.5,118.68 95.0,118.85 95.5,119.03 96.0,119.22 96.5,119.41 97.0,119.60 97.5,119.81 98.0,120.02 98.5,120.24 99.0,120.46 99.5,120.70 100.0,120.93 100.5,121.18 101.0,121.43 101.5,121.68 102.0,121.94 102.5,122.21 103.0,122.48 103.5,122.75 104.0,123.03 104.5,123.32 105.0,123.61 105.5,123.90 106.0,124.19 106.5,124.49 107.0,124.79 107.5,125.09 108.0,125.39 108.5,125.69 109.0,126.00 109.5,126.30 110.0,126.60 110.5,126.90 111.0,127.20 111.5,127.50 112.0,127.79 112.5,128.08 113.0,128.37 113.5,128.65 114.0,128.93 114.5,129.20 115.0,129.47 115.5,129.72 116.0,129.97 116.5,130.21 117.0,130.45 117.5,130.67 118.0,130.88 118.5,131.09 119.0,131.28 119.5,131.47 120.0,131.64 120.5,131.80 121.0,131.95 121.5,132.09 122.0,132.22 122.5,132.34 123.0,132.44 123.5,132.53 124.0,132.61 124.5,132.68 125.0,132.74 125.5,132.78 126.0,132.81 126.5,132.83 127.0,132.84 127.5,132.84 128.0,132.82 128.5,132.80 129.0,132.76 129.5,132.71 130.0,132.65 130.5,132.58 131.0,132.50 131.5,132.41 132.0,132.31 132.5,132.20 133.0,132.07 133.5,131.94 134.0,131.80 134.5,131.64 135.0,131.48 135.5,131.31 136.0,131.13 136.5,130.94 137.0,130.74 137.5,130.53 138.0,130.31 138.5,130.09 139.0,129.86 139.5,129.63 140.0,129.39 140.5,129.14 141.0,128.89 141.5,128.64 142.0,128.38 142.5,128.13 143.0,127.87 143.5,127.61 144.0,127.35 144.5,127.10 145.0,126.84 145.5,126.59 146.0,126.34 146.5,126.10 147.0,125.86 147.5,125.62 148.0,125.38 148.5,125.15 149.0,124.93 149.5,124.70 150.0,124.48 150.5,124.26 151.0,124.05 151.5,123.83 152.0,123.62 152.5,123.41 153.0,123.19 153.5,122.98 154.0,122.77 154.5,122.55 155.0,122.33 155.5,122.11 156.0,121.89 156.5,121.67 157.0,121.43 157.5,121.20 158.0,120.96 158.5,120.71 159.0,120.45 159.5,120.19 160.0,119.92 160.5,119.65 161.0,119.37 161.5,119.08 162.0,118.78 162.5,118.48 163.0,118.17 163.5,117.86 164.0,117.54 164.5,117.21 165.0,116.89 165.5,116.55 166.0,116.22 166.5,115.88 167.0,115.54 167.5,115.20 168.0,114.86 168.5,114.52 169.0,114.18 169.5,113.84 170.0,113.51 170.5,113.18 171.0,112.85 171.5,112.53 172.0,112.21 172.5,111.90 173.0,111.60 173.5,111.30 174.0,111.00 174.5,110.71 175.0,110.43 175.5,110.15 176.0,109.88 176.5,109.61 177.0,109.35 177.5,109.09 178.0,108.85 178.5,108.61 179.0,108.37 179.5,108.14 180.0,107.92 180.5,107.70 181.0,107.49 181.5,107.28 182.0,107.08 182.5,106.88 183.0,106.69 183.5,106.50 184.0,106.32 184.5,106.14 185.0,105.97 185.5,105.81 186.0,105.65 186.5,105.50 187.0,105.36 187.5,105.22 188.0,105.10 188.5,104.98 189.0,104.87 189.5,104.76 190.0,104.67 190.5,104.59 191.0,104.51 191.5,104.45 192.0,104.39 192.5,104.34 193.0,104.31 193.5,104.28 194.0,104.27 194.5,104.27 195.0,104.27 195.5,104.29 196.0,104.32 196.5,104.36 197.0,104.41 197.5,104.46 198.0,104.53 198.5,104.60 199.0,104.68 199.5,104.77 200.0,104.86 200.5,104.96 201.0,105.07 201.5,105.18 202.0,105.29 202.5,105.41 203.0,105.52 203.5,105.64 204.0,105.76 204.5,105.87 205.0,105.98 205.5,106.09 206.0,106.20 206.5,106.30 207.0,106.40 207.5,106.50 208.0,106.59 208.5,106.67 209.0,106.75 209.5,106.82 210.0,106.89 210.5,106.95 211.0,107.01 211.5,107.06 212.0,107.11 212.5,107.16 213.0,107.20 213.5,107.24 214.0,107.27 214.5,107.31 215.0,107.33 215.5,107.36 216.0,107.39 216.5,107.40 217.0,107.42 217.5,107.46 218.0,107.47 218.5,107.45 219.0,107.46 219.5,107.49 220.0,107.50 220.5,107.53 221.0,107.55 221.5,107.54 222.0,107.55 222.5,107.50 223.0,107.57 223.5,107.62 224.0,107.60 224.5,107.56 225.0,107.53 225.5,107.67 226.0,107.70 226.5,107.60 227.0,107.51 227.5,107.67 228.0,107.86 228.5,107.67 229.0,107.74 229.5,107.94 230.0,107.82 230.5,107.67 231.0,107.78 231.5,107.83 232.0,107.79 232.5,107.72 233.0,107.75 233.5,107.81 234.0,107.92 234.5,108.06 235.0,108.01 235.5,107.90 236.0,107.85 236.5,108.08 237.0,108.09 237.5,107.95 238.0,108.07 238.5,108.22 239.0,108.26 239.5,108.47 240.0,108.46 240.5,108.25 241.0,108.42 241.5,108.39 242.0,108.49 242.5,108.71 243.0,108.63 243.5,108.31 244.0,108.51 244.5,108.76 245.0,108.42 245.5,108.49 246.0,108.49 246.5,108.75 247.0,109.35 247.5,109.11 248.0,108.98 248.5,109.22 249.0,109.26 249.5,109.08 250.0,108.77 250.5,109.13 251.0,109.17 251.5,109.06 252.0,109.31 252.5,109.37 253.0,109.43 253.5,109.38 254.0,109.33 254.5,109.58 255.0,109.50 255.5,109.61 256.0,109.82 256.5,109.68 257.0,109.50 257.5,109.76 258.0,109.78 258.5,109.70 259.0,110.20 259.5,110.46 260.0,110.37 260.5,110.28 261.0,110.74 261.5,111.09 262.0,111.05 262.5,111.02 263.0,110.69 263.5,110.27 264.0,110.39 264.5,110.70 265.0,111.09 265.5,111.24 266.0,110.97 266.5,110.50 267.0,110.56 267.5,111.25 268.0,111.55 268.5,111.68 269.0,111.97 269.5,111.97 270.0,111.77 270.5,111.29 271.0,111.40 271.5,111.61 272.0,111.19 272.5,111.63 273.0,111.75 273.5,111.64 274.0,112.32 274.5,112.53 275.0,112.49 275.5,112.72 276.0,112.87 276.5,112.83 277.0,112.71 277.5,113.10 278.0,113.30 278.5,113.55 279.0,113.53 279.5,112.95 280.0,113.04 280.5,113.19 281.0,113.11 281.5,113.45 282.0,113.74 282.5,113.43 283.0,113.09 283.5,113.17 284.0,112.74 284.5,112.91 285.0,113.41 285.5,113.04 286.0,113.41 286.5,114.06 287.0,114.40 287.5,114.14 288.0,113.48 288.5,113.48 289.0,113.79 289.5,114.01 290.0,113.92 290.5,114.48 291.0,114.61 291.5,113.99 292.0,114.51 292.5,113.89 293.0,113.93 293.5,114.93 294.0,114.91 294.5,114.28 295.0,114.21 295.5,114.37 296.0,113.95 296.5,114.09 297.0,114.67 297.5,114.95 298.0,114.07 298.5,114.28 299.0,115.03 299.5,114.70 300.0,114.20 300.5,114.08 301.0,114.09 301.5,114.47 302.0,114.40 302.5,113.89 303.0,114.63 303.5,114.31 304.0,113.12 304.5,113.78 305.0,114.42 305.5,113.73 306.0,114.16 306.5,115.14 307.0,115.05 307.5,114.59 308.0,114.34 308.5,113.96 309.0,113.67 309.5,114.20 310.0,114.08 310.5,113.12 311.0,112.92 311.5,113.16 312.0,113.50 312.5,113.49 313.0,113.78 313.5,113.85 314.0,113.59 314.5,113.48 315.0,113.32 315.5,113.99 316.0,114.11 316.5,113.43 317.0,113.83 317.5,114.38 318.0,114.29 318.5,114.59 319.0,114.09 319.5,113.26 320.0,113.33 320.5,113.67 321.0,113.95 321.5,113.97 322.0,114.19 322.5,114.02 323.0,113.51 323.5,113.52 324.0,114.01 324.5,114.29 325.0,114.21 325.5,113.72 326.0,113.65 326.5,114.78 327.0,114.74 327.5,113.64 328.0,113.58" stroke="#d29e00"/>
<polyline points="42.0,115.60 42.5,115.60 43.0,115.60 43.5,115.60 44.0,115.60 44.5,115.60 45.0,115.60 45.5,115.60 46.0,115.60 46.5,115.60 47.0,115.60 47.5,115.60 48.0,115.60 48.5,115.60 49.0,115.60 49.5,115.60 50.0,115.60 50.5,115.60 51.0,115.60 51.5,115.60 52.0,115.60 52.5,115.60 53.0,115.60 53.5,115.60 54.0,115.60 54.5,115.60 55.0,115.60 55.5,115.60 56.0,115.60 56.5,115.60 57.0,115.60 57.5,115.60 58.0,115.60 58.5,115.60 59.0,115.60 59.5,115.60 60.0,115.60 60.5,115.60 61.0,115.60 61.5,115.60 62.0,115.60 62.5,115.60 63.0,115.60 63.5,115.60 64.0,115.60 64.5,115.60 65.0,115.60 65.5,115.60 66.0,115.60 66.5,115.60 67.0,115.60 67.5,115.60 68.0,115.60 68.5,115.60 69.0,115.60 69.5,115.60 70.0,115.60 70.5,115.61 71.0,115.61 71.5,115.61 72.0,115.62 72.5,115.62 73.0,115.62 73.5,115.63 74.0,115.63 74.5,115.64 75.0,115.64 75.5,115.65 76.0,115.66 76.5,115.67 77.0,115.68 77.5,115.70 78.0,115.71 78.5,115.73 79.0,115.75 79.5,115.78 80.0,115.80 80.5,115.83 81.0,115.86 81.5,115.89 82.0,115.92 82.5,115.96 83.0,116.00 83.5,116.04 84.0,116.08 84.5,116.13 85.0,116.18 85.5,116.23 86.0,116.28 86.5,116.33 87.0,116.39 87.5,116.45 88.0,116.52 88.5,116.58 89.0,116.65 89.5,116.73 90.0,116.80 90.5,116.88 91.0,116.97 91.5,117.05 92.0,117.14 92.5,117.24 93.0,117.34 93.5,117.44 94.0,117.54 94.5,117.65 95.0,117.77 95.5,117.89 96.0,118.01 96.5,118.14 97.0,118.27 97.5,118.41 98.0,118.55 98.5,118.70 99.0,118.85 99.5,119.00 100.0,119.16 100.5,119.32 101.0,119.49 101.5,119.66 102.0,119.83 102.5,120.01 103.0,120.19 103.5,120.37 104.0,120.56 104.5,120.75 105.0,120.94 105.5,121.13 106.0,121.33 106.5,121.52 107.0,121.71 107.5,121.90 108.0,122.09 108.5,122.28 109.0,122.46 109.5,122.63 110.0,122.80 110.5,122.97 111.0,123.12 111.5,123.28 112.0,123.42 112.5,123.56 113.0,123.70 113.5,123.82 114.0,123.94 114.5,124.06 115.0,124.16 115.5,124.26 116.0,124.35 116.5,124.44 117.0,124.52 117.5,124.59 118.0,124.65 118.5,124.71 119.0,124.76 119.5,124.81 120.0,124.85 120.5,124.88 121.0,124.90 121.5,124.91 122.0,124.92 122.5,124.92 123.0,124.90 123.5,124.88 124.0,124.86 124.5,124.82 125.0,124.78 125.5,124.73 126.0,124.68 126.5,124.62 127.0,124.55 127.5,124.47 128.0,124.39 128.5,124.29 129.0,124.19 129.5,124.08 130.0,123.95 130.5,123.83 131.0,123.69 131.5,123.54 132.0,123.39 132.5,123.23 133.0,123.07 133.5,122.90 134.0,122.72 134.5,122.54 135.0,122.35 135.5,122.16 136.0,121.97 136.5,121.76 137.0,121.55 137.5,121.33 138.0,121.11 138.5,120.88 139.0,120.64 139.5,120.40 140.0,120.16 140.5,119.90 141.0,119.65 141.5,119.39 142.0,119.14 142.5,118.88 143.0,118.62 143.5,118.37 144.0,118.11 144.5,117.85 145.0,117.59 145.5,117.34 146.0,117.08 146.5,116.82 147.0,116.56 147.5,116.30 148.0,116.04 148.5,115.77 149.0,115.50 149.5,115.22 150.0,114.95 150.5,114.67 151.0,114.38 151.5,114.08 152.0,113.78 152.5,113.46 153.0,113.14 153.5,112.80 154.0,112.46 154.5,112.10 155.0,111.72 155.5,111.34 156.0,110.93 156.5,110.51 157.0,110.07 157.5,109.60 158.0,109.11 158.5,108.60 159.0,108.05 159.5,107.49 160.0,106.89 160.5,106.27 161.0,105.62 161.5,104.94 162.0,104.23 162.5,103.50 163.0,102.74 163.5,101.98 164.0,101.20 164.5,100.42 165.0,99.63 165.5,98.86 166.0,98.16 166.5,97.58 167.0,97.15 167.5,96.83 168.0,96.59 168.5,96.49 169.0,96.50 169.5,96.58 170.0,96.72 170.5,96.88 171.0,97.02 171.5,97.14 172.0,97.23 172.5,97.28 173.0,97.29 173.5,97.27 174.0,97.24 174.5,97.19 175.0,97.12 175.5,97.05 176.0,96.98 176.5,96.91 177.0,96.83 177.5,96.76 178.0,96.70 178.5,96.64 179.0,96.59 179.5,96.54 180.0,96.49 180.5,96.44 181.0,96.40 181.5,96.35 182.0,96.31 182.5,96.26 183.0,96.21 183.5,96.16 184.0,96.10 184.5,96.04 185.0,95.97 185.5,95.89 186.0,95.81 186.5,95.73 187.0,95.64 187.5,95.55 188.0,95.46 188.5,95.38 189.0,95.31 189.5,95.25 190.0,95.20 190.5,95.17 191.0,95.16 191.5,95.16 192.0,95.19 192.5,95.25 193.0,95.32 193.5,95.42 194.0,95.53 194.5,95.67 195.0,95.84 195.5,96.02 196.0,96.22 196.5,96.44 197.0,96.68 197.5,96.93 198.0,97.19 198.5,97.47 199.0,97.76 199.5,98.05 200.0,98.35 200.5,98.66 201.0,98.96 201.5,99.26 202.0,99.56 202.5,99.85 203.0,100.14 203.5,100.41 204.0,100.68 204.5,100.93 205.0,101.17 205.5,101.40 206.0,101.63 206.5,101.84 207.0,102.05 207.5,102.25 208.0,102.44 208.5,102.63 209.0,102.80 209.5,102.96 210.0,103.11 210.5,103.25 211.0,103.38 211.5,103.49 212.0,103.61 212.5,103.71 213.0,103.80 213.5,103.89 214.0,103.98 214.5,104.05 215.0,104.13 215.5,104.20 216.0,104.27 216.5,104.31 217.0,104.36 217.5,104.45 218.0,104.49 218.5,104.49 219.0,104.53 219.5,104.58 220.0,104.62 220.5,104.68 221.0,104.72 221.5,104.73 222.0,104.76 222.5,104.73 223.0,104.83 223.5,104.92 224.0,104.91 224.5,104.87 225.0,104.87 225.5,105.05 226.0,105.10 226.5,105.01 227.0,104.92 227.5,105.13 228.0,105.37 228.5,105.17 229.0,105.27 229.5,105.53 230.0,105.40 230.5,105.23 231.0,105.38 231.5,105.46 232.0,105.42 232.5,105.36 233.0,105.40 233.5,105.50 234.0,105.64 234.5,105.82 235.0,105.77 235.5,105.66 236.0,105.62 236.5,105.90 237.0,105.94 237.5,105.78 238.0,105.94 238.5,106.13 239.0,106.19 239.5,106.46 240.0,106.46 240.5,106.22 241.0,106.44 241.5,106.42 242.0,106.55 242.5,106.82 243.0,106.74 243.5,106.36 244.0,106.61 244.5,106.92 245.0,106.53 245.5,106.62 246.0,106.63 246.5,106.95 247.0,107.67 247.5,107.40 248.0,107.25 248.5,107.54 249.0,107.60 249.5,107.39 250.0,107.02 250.5,107.46 251.0,107.52 251.5,107.41 252.0,107.71 252.5,107.80 253.0,107.89 253.5,107.83 254.0,107.79 254.5,108.09 255.0,108.01 255.5,108.15 256.0,108.41 256.5,108.25 257.0,108.04 257.5,108.36 258.0,108.38 258.5,108.30 259.0,108.90 259.5,109.22 260.0,109.11 260.5,109.01 261.0,109.57 261.5,109.99 262.0,109.94 262.5,109.90 263.0,109.52 263.5,109.01 264.0,109.16 264.5,109.54 265.0,110.01 265.5,110.19 266.0,109.87 266.5,109.31 267.0,109.38 267.5,110.22 268.0,110.58 268.5,110.74 269.0,111.10 269.5,111.09 270.0,110.87 270.5,110.29 271.0,110.42 271.5,110.67 272.0,110.18 272.5,110.71 273.0,110.86 273.5,110.73 274.0,111.54 274.5,111.80 275.0,111.75 275.5,112.03 276.0,112.20 276.5,112.16 277.0,112.03 277.5,112.48 278.0,112.73 278.5,113.04 279.0,113.02 279.5,112.32 280.0,112.42 280.5,112.61 281.0,112.51 281.5,112.91 282.0,113.27 282.5,112.89 283.0,112.50 283.5,112.58 284.0,112.07 284.5,112.28 285.0,112.88 285.5,112.43 286.0,112.88 286.5,113.66 287.0,114.08 287.5,113.76 288.0,112.97 288.5,112.97 289.0,113.34 289.5,113.61 290.0,113.51 290.5,114.18 291.0,114.33 291.5,113.59 292.0,114.21 292.5,113.47 293.0,113.52 293.5,114.72 294.0,114.69 294.5,113.94 295.0,113.85 295.5,114.04 296.0,113.54 296.5,113.71 297.0,114.41 297.5,114.74 298.0,113.68 298.5,113.94 299.0,114.85 299.5,114.44 300.0,113.85 300.5,113.70 301.0,113.71 301.5,114.17 302.0,114.08 302.5,113.47 303.0,114.36 303.5,113.98 304.0,112.55 304.5,113.34 305.0,114.11 305.5,113.29 306.0,113.80 306.5,114.98 307.0,114.87 307.5,114.32 308.0,114.02 308.5,113.56 309.0,113.22 309.5,113.85 310.0,113.71 310.5,112.56 311.0,112.31 311.5,112.61 312.0,113.01 312.5,113.00 313.0,113.35 313.5,113.43 314.0,113.11 314.5,112.98 315.0,112.79 315.5,113.61 316.0,113.74 316.5,112.93 317.0,113.40 317.5,114.07 318.0,113.96 318.5,114.32 319.0,113.72 319.5,112.73 320.0,112.81 320.5,113.22 321.0,113.55 321.5,113.58 322.0,113.85 322.5,113.64 323.0,113.02 323.5,113.04 324.0,113.63 324.5,113.97 325.0,113.87 325.5,113.29 326.0,113.20 326.5,114.55 327.0,114.51 327.5,113.18 328.0,113.12" stroke="#12c2c8"/>
<polyline points="42.0,115.60 42.5,115.60 43.0,115.60 43.5,115.60 44.0,115.60 44.5,115.60 45.0,115.60 45.5,115.60 46.0,115.60 46.5,115.60 47.0,115.60 47.5,115.60 48.0,115.60 48.5,115.60 49.0,115.60 49.5,115.60 50.0,115.60 50.5,115.60 51.0,115.60 51.5,115.60 52.0,115.60 52.5,115.60 53.0,115.60 53.5,115.60 54.0,115.60 54.5,115.60 55.0,115.60 55.5,115.60 56.0,115.60 56.5,115.60 57.0,115.60 57.5,115.60 58.0,115.60 58.5,115.60 59.0,115.60 59.5,115.60 60.0,115.60 60.5,115.60 61.0,115.60 61.5,115.60 62.0,115.60 62.5,115.60 63.0,115.60 63.5,115.60 64.0,115.60 64.5,115.60 65.0,115.60 65.5,115.60 66.0,115.60 66.5,115.60 67.0,115.60 67.5,115.60 68.0,115.60 68.5,115.60 69.0,115.60 69.5,115.60 70.0,115.60 70.5,115.60 71.0,115.60 71.5,115.60 72.0,115.60 72.5,115.60 73.0,115.59 73.5,115.58 74.0,115.58 74.5,115.57 75.0,115.56 75.5,115.55 76.0,115.55 76.5,115.54 77.0,115.54 77.5,115.54 78.0,115.55 78.5,115.55 79.0,115.56 79.5,115.57 80.0,115.59 80.5,115.60 81.0,115.62 81.5,115.64 82.0,115.66 82.5,115.68 83.0,115.71 83.5,115.73 84.0,115.76 84.5,115.79 85.0,115.82 85.5,115.85 86.0,115.88 86.5,115.91 87.0,115.94 87.5,115.98 88.0,116.02 88.5,116.05 89.0,116.09 89.5,116.13 90.0,116.17 90.5,116.22 91.0,116.26 91.5,116.31 92.0,116.36 92.5,116.41 93.0,116.46 93.5,116.52 94.0,116.57 94.5,116.63 95.0,116.68 95.5,116.74 96.0,116.80 96.5,116.87 97.0,116.94 97.5,117.01 98.0,117.08 98.5,117.16 99.0,117.23 99.5,117.31 100.0,117.39 100.5,117.47 101.0,117.56 101.5,117.64 102.0,117.73 102.5,117.81 103.0,117.90 103.5,118.00 104.0,118.09 104.5,118.18 105.0,118.28 105.5,118.37 106.0,118.46 106.5,118.55 107.0,118.64 107.5,118.72 108.0,118.80 108.5,118.86 109.0,118.92 109.5,118.97 110.0,119.00 110.5,119.03 111.0,119.05 111.5,119.06 112.0,119.06 112.5,119.05 113.0,119.03 113.5,119.00 114.0,118.96 114.5,118.91 115.0,118.86 115.5,118.80 116.0,118.73 116.5,118.66 117.0,118.59 117.5,118.51 118.0,118.42 118.5,118.34 119.0,118.25 119.5,118.16 120.0,118.06 120.5,117.96 121.0,117.85 121.5,117.74 122.0,117.62 122.5,117.50 123.0,117.37 123.5,117.23 124.0,117.10 124.5,116.96 125.0,116.82 125.5,116.68 126.0,116.54 126.5,116.40 127.0,116.26 127.5,116.11 128.0,115.95 128.5,115.79 129.0,115.62 129.5,115.44 130.0,115.26 130.5,115.07 131.0,114.87 131.5,114.67 132.0,114.47 132.5,114.27 133.0,114.06 133.5,113.85 134.0,113.64 134.5,113.43 135.0,113.23 135.5,113.02 136.0,112.80 136.5,112.59 137.0,112.36 137.5,112.14 138.0,111.91 138.5,111.67 139.0,111.43 139.5,111.18 140.0,110.92 140.5,110.67 141.0,110.41 141.5,110.15 142.0,109.89 142.5,109.63 143.0,109.38 143.5,109.12 144.0,108.87 144.5,108.61 145.0,108.35 145.5,108.08 146.0,107.82 146.5,107.55 147.0,107.27 147.5,106.98 148.0,106.69 148.5,106.38 149.0,106.07 149.5,105.75 150.0,105.41 150.5,105.07 151.0,104.71 151.5,104.33 152.0,103.94 152.5,103.52 153.0,103.09 153.5,102.63 154.0,102.15 154.5,101.64 155.0,101.11 155.5,100.56 156.0,99.97 156.5,99.35 157.0,98.70 157.5,98.00 158.0,97.26 158.5,96.48 159.0,95.66 159.5,94.78 160.0,93.86 160.5,92.89 161.0,91.87 161.5,90.80 162.0,89.68 162.5,88.51 163.0,87.31 163.5,86.09 164.0,84.87 164.5,83.64 165.0,82.38 165.5,81.17 166.0,80.10 166.5,79.29 167.0,78.77 167.5,78.47 168.0,78.33 168.5,78.46 169.0,78.81 169.5,79.33 170.0,79.93 170.5,80.58 171.0,81.20 171.5,81.76 172.0,82.24 172.5,82.65 173.0,82.98 173.5,83.25 174.0,83.47 174.5,83.66 175.0,83.82 175.5,83.96 176.0,84.09 176.5,84.20 177.0,84.32 177.5,84.43 178.0,84.55 178.5,84.68 179.0,84.80 179.5,84.93 180.0,85.06 180.5,85.18 181.0,85.31 181.5,85.42 182.0,85.53 182.5,85.64 183.0,85.73 183.5,85.81 184.0,85.88 184.5,85.93 185.0,85.96 185.5,85.98 186.0,85.97 186.5,85.95 187.0,85.92 187.5,85.88 188.0,85.83 188.5,85.79 189.0,85.75 189.5,85.73 190.0,85.73 190.5,85.75 191.0,85.80 191.5,85.88 192.0,86.00 192.5,86.15 193.0,86.33 193.5,86.55 194.0,86.80 194.5,87.08 195.0,87.40 195.5,87.75 196.0,88.12 196.5,88.52 197.0,88.94 197.5,89.39 198.0,89.86 198.5,90.34 199.0,90.83 199.5,91.34 200.0,91.84 200.5,92.35 201.0,92.85 201.5,93.34 202.0,93.82 202.5,94.29 203.0,94.75 203.5,95.18 204.0,95.60 204.5,95.99 205.0,96.36 205.5,96.71 206.0,97.05 206.5,97.38 207.0,97.69 207.5,98.00 208.0,98.30 208.5,98.58 209.0,98.85 209.5,99.10 210.0,99.33 210.5,99.55 211.0,99.74 211.5,99.93 212.0,100.10 212.5,100.26 213.0,100.41 213.5,100.55 214.0,100.68 214.5,100.80 215.0,100.92 215.5,101.03 216.0,101.14 216.5,101.22 217.0,101.31 217.5,101.43 218.0,101.50 218.5,101.53 219.0,101.59 219.5,101.68 220.0,101.74 220.5,101.82 221.0,101.89 221.5,101.93 222.0,101.98 222.5,101.96 223.0,102.09 223.5,102.21 224.0,102.22 224.5,102.19 225.0,102.20 225.5,102.43 226.0,102.51 226.5,102.42 227.0,102.33 227.5,102.59 228.0,102.89 228.5,102.67 229.0,102.80 229.5,103.11 230.0,102.98 230.5,102.80 231.0,102.98 231.5,103.09 232.0,103.06 232.5,102.99 233.0,103.06 233.5,103.18 234.0,103.36 234.5,103.58 235.0,103.54 235.5,103.42 236.0,103.38 236.5,103.73 237.0,103.78 237.5,103.61 238.0,103.80 238.5,104.04 239.0,104.13 239.5,104.45 240.0,104.46 240.5,104.20 241.0,104.46 241.5,104.44 242.0,104.61 242.5,104.94 243.0,104.84 243.5,104.42 244.0,104.72 244.5,105.09 245.0,104.64 245.5,104.75 246.0,104.77 246.5,105.15 247.0,106.00 247.5,105.69 248.0,105.52 248.5,105.86 249.0,105.94 249.5,105.70 250.0,105.28 250.5,105.80 251.0,105.88 251.5,105.75 252.0,106.11 252.5,106.22 253.0,106.34 253.5,106.29 254.0,106.24 254.5,106.61 255.0,106.51 255.5,106.69 256.0,107.00 256.5,106.82 257.0,106.57 257.5,106.96 258.0,106.99 258.5,106.90 259.0,107.60 259.5,107.98 260.0,107.86 260.5,107.74 261.0,108.40 261.5,108.89 262.0,108.83 262.5,108.79 263.0,108.35 263.5,107.76 264.0,107.93 264.5,108.37 265.0,108.93 265.5,109.14 266.0,108.77 266.5,108.12 267.0,108.21 267.5,109.19 268.0,109.62 268.5,109.80 269.0,110.22 269.5,110.22 270.0,109.96 270.5,109.28 271.0,109.44 271.5,109.74 272.0,109.17 272.5,109.79 273.0,109.96 273.5,109.82 274.0,110.77 274.5,111.07 275.0,111.01 275.5,111.34 276.0,111.54 276.5,111.50 277.0,111.34 277.5,111.87 278.0,112.16 278.5,112.52 279.0,112.50 279.5,111.68 280.0,111.80 280.5,112.02 281.0,111.92 281.5,112.38 282.0,112.80 282.5,112.36 283.0,111.90 283.5,112.00 284.0,111.40 284.5,111.65 285.0,112.35 285.5,111.83 286.0,112.35 286.5,113.27 287.0,113.75 287.5,113.38 288.0,112.46 288.5,112.46 289.0,112.89 289.5,113.21 290.0,113.09 290.5,113.87 291.0,114.06 291.5,113.19 292.0,113.91 292.5,113.05 293.0,113.10 293.5,114.51 294.0,114.47 294.5,113.59 295.0,113.50 295.5,113.72 296.0,113.13 296.5,113.33 297.0,114.15 297.5,114.54 298.0,113.30 298.5,113.60 299.0,114.66 299.5,114.19 300.0,113.50 300.5,113.32 301.0,113.33 301.5,113.87 302.0,113.77 302.5,113.05 303.0,114.09 303.5,113.65 304.0,111.98 304.5,112.90 305.0,113.80 305.5,112.84 306.0,113.44 306.5,114.82 307.0,114.69 307.5,114.04 308.0,113.70 308.5,113.16 309.0,112.76 309.5,113.50 310.0,113.34 310.5,112.00 311.0,111.70 311.5,112.05 312.0,112.52 312.5,112.51 313.0,112.92 313.5,113.01 314.0,112.64 314.5,112.49 315.0,112.27 315.5,113.22 316.0,113.38 316.5,112.43 317.0,112.98 317.5,113.76 318.0,113.63 318.5,114.05 319.0,113.35 319.5,112.20 320.0,112.30 320.5,112.77 321.0,113.16 321.5,113.19 322.0,113.50 322.5,113.26 323.0,112.54 323.5,112.56 324.0,113.25 324.5,113.65 325.0,113.53 325.5,112.85 326.0,112.74 326.5,114.32 327.0,114.27 327.5,112.73 328.0,112.65" stroke="#7e4a55"/>
<polyline points="42.0,115.60 42.5,115.60 43.0,115.60 43.5,115.60 44.0,115.60 44.5,115.60 45.0,115.60 45.5,115.60 46.0,115.60 46.5,115.60 47.0,115.60 47.5,115.60 48.0,115.60 48.5,115.60 49.0,115.60 49.5,115.60 50.0,115.60 50.5,115.60 51.0,115.60 51.5,115.60 52.0,115.60 52.5,115.60 53.0,115.60 53.5,115.60 54.0,115.60 54.5,115.60 55.0,115.60 55.5,115.60 56.0,115.60 56.5,115.60 57.0,115.60 57.5,115.60 58.0,115.60 58.5,115.60 59.0,115.60 59.5,115.60 60.0,115.60 60.5,115.60 61.0,115.60 61.5,115.60 62.0,115.60 62.5,115.60 63.0,115.60 63.5,115.60 64.0,115.60 64.5,115.60 65.0,115.60 65.5,115.60 66.0,115.60 66.5,115.60 67.0,115.60 67.5,115.60 68.0,115.60 68.5,115.60 69.0,115.60 69.5,115.60 70.0,115.60 70.5,115.60 71.0,115.60 71.5,115.60 72.0,115.59 72.5,115.58 73.0,115.56 73.5,115.54 74.0,115.52 74.5,115.50 75.0,115.48 75.5,115.45 76.0,115.43 76.5,115.42 77.0,115.40 77.5,115.39 78.0,115.38 78.5,115.38 79.0,115.37 79.5,115.37 80.0,115.37 80.5,115.38 81.0,115.38 81.5,115.39 82.0,115.40 82.5,115.41 83.0,115.42 83.5,115.43 84.0,115.44 84.5,115.45 85.0,115.46 85.5,115.47 86.0,115.48 86.5,115.49 87.0,115.50 87.5,115.51 88.0,115.51 88.5,115.52 89.0,115.53 89.5,115.54 90.0,115.54 90.5,115.55 91.0,115.56 91.5,115.57 92.0,115.58 92.5,115.58 93.0,115.59 93.5,115.59 94.0,115.60 94.5,115.60 95.0,115.60 95.5,115.60 96.0,115.60 96.5,115.60 97.0,115.60 97.5,115.61 98.0,115.61 98.5,115.62 99.0,115.62 99.5,115.62 100.0,115.62 100.5,115.62 101.0,115.62 101.5,115.62 102.0,115.62 102.5,115.62 103.0,115.62 103.5,115.62 104.0,115.62 104.5,115.62 105.0,115.61 105.5,115.61 106.0,115.60 106.5,115.58 107.0,115.56 107.5,115.53 108.0,115.50 108.5,115.45 109.0,115.38 109.5,115.30 110.0,115.20 110.5,115.09 111.0,114.97 111.5,114.83 112.0,114.69 112.5,114.53 113.0,114.35 113.5,114.17 114.0,113.97 114.5,113.77 115.0,113.56 115.5,113.34 116.0,113.11 116.5,112.88 117.0,112.65 117.5,112.42 118.0,112.19 118.5,111.96 119.0,111.73 119.5,111.50 120.0,111.27 120.5,111.04 121.0,110.80 121.5,110.56 122.0,110.32 122.5,110.08 123.0,109.83 123.5,109.58 124.0,109.34 124.5,109.10 125.0,108.87 125.5,108.64 126.0,108.41 126.5,108.19 127.0,107.97 127.5,107.74 128.0,107.51 128.5,107.28 129.0,107.05 129.5,106.80 130.0,106.56 130.5,106.31 131.0,106.06 131.5,105.81 132.0,105.55 132.5,105.30 133.0,105.05 133.5,104.81 134.0,104.57 134.5,104.33 135.0,104.10 135.5,103.87 136.0,103.64 136.5,103.41 137.0,103.18 137.5,102.94 138.0,102.70 138.5,102.46 139.0,102.21 139.5,101.95 140.0,101.69 140.5,101.43 141.0,101.17 141.5,100.91 142.0,100.65 142.5,100.39 143.0,100.13 143.5,99.88 144.0,99.62 144.5,99.36 145.0,99.10 145.5,98.83 146.0,98.56 146.5,98.27 147.0,97.97 147.5,97.66 148.0,97.34 148.5,97.00 149.0,96.64 149.5,96.27 150.0,95.88 150.5,95.47 151.0,95.04 151.5,94.58 152.0,94.10 152.5,93.58 153.0,93.03 153.5,92.45 154.0,91.84 154.5,91.19 155.0,90.50 155.5,89.78 156.0,89.01 156.5,88.20 157.0,87.33 157.5,86.41 158.0,85.42 158.5,84.37 159.0,83.26 159.5,82.08 160.0,80.83 160.5,79.52 161.0,78.12 161.5,76.66 162.0,75.12 162.5,73.52 163.0,71.87 163.5,70.21 164.0,68.53 164.5,66.85 165.0,65.13 165.5,63.47 166.0,62.05 166.5,61.00 167.0,60.38 167.5,60.11 168.0,60.07 168.5,60.43 169.0,61.13 169.5,62.07 170.0,63.15 170.5,64.29 171.0,65.37 171.5,66.37 172.0,67.26 172.5,68.02 173.0,68.68 173.5,69.23 174.0,69.71 174.5,70.13 175.0,70.51 175.5,70.86 176.0,71.19 176.5,71.50 177.0,71.80 177.5,72.10 178.0,72.41 178.5,72.71 179.0,73.02 179.5,73.33 180.0,73.63 180.5,73.93 181.0,74.21 181.5,74.49 182.0,74.76 182.5,75.02 183.0,75.25 183.5,75.47 184.0,75.66 184.5,75.82 185.0,75.96 185.5,76.06 186.0,76.14 186.5,76.18 187.0,76.20 187.5,76.20 188.0,76.20 188.5,76.19 189.0,76.19 189.5,76.21 190.0,76.26 190.5,76.34 191.0,76.45 191.5,76.60 192.0,76.80 192.5,77.05 193.0,77.34 193.5,77.68 194.0,78.06 194.5,78.49 195.0,78.96 195.5,79.47 196.0,80.02 196.5,80.60 197.0,81.21 197.5,81.86 198.0,82.52 198.5,83.21 199.0,83.91 199.5,84.62 200.0,85.33 200.5,86.04 201.0,86.74 201.5,87.42 202.0,88.09 202.5,88.74 203.0,89.36 203.5,89.96 204.0,90.52 204.5,91.05 205.0,91.55 205.5,92.03 206.0,92.48 206.5,92.91 207.0,93.33 207.5,93.75 208.0,94.15 208.5,94.54 209.0,94.91 209.5,95.24 210.0,95.56 210.5,95.84 211.0,96.11 211.5,96.36 212.0,96.59 212.5,96.81 213.0,97.01 213.5,97.20 214.0,97.38 214.5,97.55 215.0,97.71 215.5,97.86 216.0,98.01 216.5,98.13 217.0,98.25 217.5,98.42 218.0,98.52 218.5,98.57 219.0,98.66 219.5,98.77 220.0,98.86 220.5,98.97 221.0,99.06 221.5,99.12 222.0,99.19 222.5,99.18 223.0,99.35 223.5,99.50 224.0,99.53 224.5,99.51 225.0,99.53 225.5,99.81 226.0,99.92 226.5,99.82 227.0,99.74 227.5,100.05 228.0,100.41 228.5,100.17 229.0,100.33 229.5,100.69 230.0,100.56 230.5,100.36 231.0,100.58 231.5,100.73 232.0,100.70 232.5,100.63 233.0,100.72 233.5,100.87 234.0,101.08 234.5,101.35 235.0,101.31 235.5,101.18 236.0,101.15 236.5,101.56 237.0,101.63 237.5,101.44 238.0,101.67 238.5,101.95 239.0,102.06 239.5,102.44 240.0,102.46 240.5,102.17 241.0,102.48 241.5,102.47 242.0,102.67 242.5,103.05 243.0,102.95 243.5,102.47 244.0,102.82 244.5,103.25 245.0,102.74 245.5,102.88 246.0,102.91 246.5,103.34 247.0,104.32 247.5,103.97 248.0,103.79 248.5,104.18 249.0,104.28 249.5,104.01 250.0,103.54 250.5,104.14 251.0,104.23 251.5,104.10 252.0,104.52 252.5,104.65 253.0,104.79 253.5,104.74 254.0,104.70 254.5,105.12 255.0,105.02 255.5,105.23 256.0,105.60 256.5,105.38 257.0,105.11 257.5,105.56 258.0,105.60 258.5,105.49 259.0,106.31 259.5,106.74 260.0,106.60 260.5,106.47 261.0,107.22 261.5,107.79 262.0,107.72 262.5,107.68 263.0,107.18 263.5,106.50 264.0,106.70 264.5,107.21 265.0,107.85 265.5,108.09 266.0,107.67 266.5,106.94 267.0,107.03 267.5,108.16 268.0,108.65 268.5,108.86 269.0,109.34 269.5,109.35 270.0,109.05 270.5,108.28 271.0,108.47 271.5,108.81 272.0,108.16 272.5,108.87 273.0,109.07 273.5,108.90 274.0,109.99 274.5,110.34 275.0,110.27 275.5,110.64 276.0,110.88 276.5,110.83 277.0,110.65 277.5,111.26 278.0,111.59 278.5,112.00 279.0,111.98 279.5,111.04 280.0,111.19 280.5,111.44 281.0,111.32 281.5,111.85 282.0,112.32 282.5,111.83 283.0,111.30 283.5,111.42 284.0,110.73 284.5,111.02 285.0,111.82 285.5,111.22 286.0,111.82 286.5,112.87 287.0,113.43 287.5,113.00 288.0,111.95 288.5,111.95 289.0,112.45 289.5,112.81 290.0,112.68 290.5,113.57 291.0,113.78 291.5,112.79 292.0,113.61 292.5,112.63 293.0,112.69 293.5,114.30 294.0,114.26 294.5,113.25 295.0,113.14 295.5,113.39 296.0,112.72 296.5,112.95 297.0,113.89 297.5,114.33 298.0,112.92 298.5,113.26 299.0,114.47 299.5,113.93 300.0,113.14 300.5,112.94 301.0,112.96 301.5,113.57 302.0,113.45 302.5,112.64 303.0,113.82 303.5,113.32 304.0,111.41 304.5,112.47 305.0,113.49 305.5,112.40 306.0,113.08 306.5,114.65 307.0,114.51 307.5,113.77 308.0,113.37 308.5,112.76 309.0,112.31 309.5,113.15 310.0,112.97 310.5,111.43 311.0,111.10 311.5,111.49 312.0,112.04 312.5,112.02 313.0,112.49 313.5,112.59 314.0,112.17 314.5,112.00 315.0,111.75 315.5,112.83 316.0,113.02 316.5,111.93 317.0,112.56 317.5,113.45 318.0,113.30 318.5,113.78 319.0,112.99 319.5,111.67 320.0,111.78 320.5,112.32 321.0,112.76 321.5,112.80 322.0,113.16 322.5,112.88 323.0,112.06 323.5,112.08 324.0,112.87 324.5,113.33 325.0,113.19 325.5,112.41 326.0,112.29 326.5,114.10 327.0,114.04 327.5,112.28 328.0,112.19" stroke="#8e9a0c"/>
<polyline points="42.0,115.60 42.5,115.60 43.0,115.60 43.5,115.60 44.0,115.60 44.5,115.60 45.0,115.60 45.5,115.60 46.0,115.60 46.5,115.60 47.0,115.60 47.5,115.60 48.0,115.60 48.5,115.60 49.0,115.60 49.5,115.60 50.0,115.60 50.5,115.60 51.0,115.60 51.5,115.60 52.0,115.60 52.5,115.60 53.0,115.60 53.5,115.60 54.0,115.60 54.5,115.60 55.0,115.60 55.5,115.60 56.0,115.60 56.5,115.60 57.0,115.60 57.5,115.60 58.0,115.60 58.5,115.60 59.0,115.60 59.5,115.60 60.0,115.60 60.5,115.60 61.0,115.60 61.5,115.60 62.0,115.60 62.5,115.60 63.0,115.60 63.5,115.60 64.0,115.60 64.5,115.60 65.0,115.60 65.5,115.60 66.0,115.60 66.5,115.60 67.0,115.60 67.5,115.60 68.0,115.60 68.5,115.60 69.0,115.60 69.5,115.60 70.0,115.60 70.5,115.60 71.0,115.60 71.5,115.59 72.0,115.57 72.5,115.55 73.0,115.53 73.5,115.50 74.0,115.46 74.5,115.43 75.0,115.39 75.5,115.36 76.0,115.32 76.5,115.29 77.0,115.26 77.5,115.24 78.0,115.22 78.5,115.20 79.0,115.18 79.5,115.17 80.0,115.16 80.5,115.15 81.0,115.15 81.5,115.14 82.0,115.13 82.5,115.13 83.0,115.12 83.5,115.12 84.0,115.11 84.5,115.11 85.0,115.10 85.5,115.09 86.0,115.08 86.5,115.07 87.0,115.05 87.5,115.03 88.0,115.01 88.5,114.99 89.0,114.97 89.5,114.94 90.0,114.92 90.5,114.89 91.0,114.86 91.5,114.83 92.0,114.79 92.5,114.76 93.0,114.72 93.5,114.67 94.0,114.62 94.5,114.57 95.0,114.51 95.5,114.45 96.0,114.39 96.5,114.33 97.0,114.27 97.5,114.21 98.0,114.14 98.5,114.07 99.0,114.00 99.5,113.93 100.0,113.85 100.5,113.77 101.0,113.69 101.5,113.60 102.0,113.51 102.5,113.42 103.0,113.33 103.5,113.24 104.0,113.14 104.5,113.05 105.0,112.95 105.5,112.84 106.0,112.73 106.5,112.61 107.0,112.48 107.5,112.35 108.0,112.20 108.5,112.03 109.0,111.84 109.5,111.63 110.0,111.40 110.5,111.16 111.0,110.89 111.5,110.61 112.0,110.32 112.5,110.01 113.0,109.68 113.5,109.34 114.0,108.99 114.5,108.62 115.0,108.25 115.5,107.87 116.0,107.49 116.5,107.11 117.0,106.72 117.5,106.34 118.0,105.96 118.5,105.58 119.0,105.21 119.5,104.84 120.0,104.48 120.5,104.12 121.0,103.75 121.5,103.39 122.0,103.02 122.5,102.66 123.0,102.29 123.5,101.93 124.0,101.58 124.5,101.24 125.0,100.91 125.5,100.59 126.0,100.28 126.5,99.97 127.0,99.68 127.5,99.38 128.0,99.08 128.5,98.78 129.0,98.47 129.5,98.17 130.0,97.86 130.5,97.55 131.0,97.24 131.5,96.94 132.0,96.63 132.5,96.33 133.0,96.04 133.5,95.76 134.0,95.49 134.5,95.23 135.0,94.97 135.5,94.72 136.0,94.48 136.5,94.23 137.0,93.99 137.5,93.75 138.0,93.50 138.5,93.25 139.0,92.99 139.5,92.73 140.0,92.46 140.5,92.20 141.0,91.93 141.5,91.66 142.0,91.40 142.5,91.14 143.0,90.89 143.5,90.63 144.0,90.38 144.5,90.12 145.0,89.85 145.5,89.58 146.0,89.30 146.5,89.00 147.0,88.68 147.5,88.34 148.0,87.99 148.5,87.61 149.0,87.21 149.5,86.79 150.0,86.35 150.5,85.88 151.0,85.37 151.5,84.84 152.0,84.26 152.5,83.64 153.0,82.98 153.5,82.28 154.0,81.53 154.5,80.73 155.0,79.89 155.5,79.00 156.0,78.05 156.5,77.04 157.0,75.96 157.5,74.81 158.0,73.57 158.5,72.26 159.0,70.86 159.5,69.38 160.0,67.80 160.5,66.14 161.0,64.38 161.5,62.52 162.0,60.57 162.5,58.54 163.0,56.44 163.5,54.33 164.0,52.20 164.5,50.06 165.0,47.88 165.5,45.78 166.0,43.99 166.5,42.70 167.0,42.00 167.5,41.74 168.0,41.81 168.5,42.40 169.0,43.45 169.5,44.81 170.0,46.36 170.5,47.99 171.0,49.54 171.5,50.98 172.0,52.27 172.5,53.40 173.0,54.37 173.5,55.21 174.0,55.95 174.5,56.61 175.0,57.21 175.5,57.77 176.0,58.29 176.5,58.80 177.0,59.29 177.5,59.77 178.0,60.26 178.5,60.75 179.0,61.24 179.5,61.72 180.0,62.20 180.5,62.67 181.0,63.12 181.5,63.56 182.0,63.99 182.5,64.39 183.0,64.77 183.5,65.12 184.0,65.44 184.5,65.72 185.0,65.96 185.5,66.15 186.0,66.30 186.5,66.41 187.0,66.48 187.5,66.53 188.0,66.56 188.5,66.59 189.0,66.63 189.5,66.70 190.0,66.79 190.5,66.92 191.0,67.10 191.5,67.32 192.0,67.61 192.5,67.95 193.0,68.35 193.5,68.81 194.0,69.32 194.5,69.90 195.0,70.52 195.5,71.20 196.0,71.92 196.5,72.68 197.0,73.48 197.5,74.32 198.0,75.19 198.5,76.08 199.0,76.98 199.5,77.90 200.0,78.82 200.5,79.73 201.0,80.62 201.5,81.50 202.0,82.35 202.5,83.18 203.0,83.97 203.5,84.73 204.0,85.44 204.5,86.11 205.0,86.74 205.5,87.34 206.0,87.90 206.5,88.45 207.0,88.98 207.5,89.50 208.0,90.01 208.5,90.50 209.0,90.96 209.5,91.39 210.0,91.78 210.5,92.14 211.0,92.48 211.5,92.79 212.0,93.09 212.5,93.36 213.0,93.61 213.5,93.85 214.0,94.08 214.5,94.30 215.0,94.50 215.5,94.70 216.0,94.89 216.5,95.04 217.0,95.20 217.5,95.40 218.0,95.53 218.5,95.61 219.0,95.72 219.5,95.87 220.0,95.98 220.5,96.12 221.0,96.24 221.5,96.31 222.0,96.41 222.5,96.41 223.0,96.61 223.5,96.79 224.0,96.84 224.5,96.83 225.0,96.87 225.5,97.19 226.0,97.33 226.5,97.23 227.0,97.15 227.5,97.52 228.0,97.92 228.5,97.66 229.0,97.86 229.5,98.28 230.0,98.13 230.5,97.92 231.0,98.19 231.5,98.36 232.0,98.33 232.5,98.27 233.0,98.38 233.5,98.55 234.0,98.80 234.5,99.11 235.0,99.08 235.5,98.94 236.0,98.92 236.5,99.38 237.0,99.47 237.5,99.27 238.0,99.54 238.5,99.86 239.0,100.00 239.5,100.43 240.0,100.47 240.5,100.14 241.0,100.50 241.5,100.49 242.0,100.73 242.5,101.16 243.0,101.06 243.5,100.52 244.0,100.92 244.5,101.41 245.0,100.85 245.5,101.01 246.0,101.05 246.5,101.54 247.0,102.65 247.5,102.26 248.0,102.06 248.5,102.50 249.0,102.62 249.5,102.32 250.0,101.79 250.5,102.48 251.0,102.59 251.5,102.44 252.0,102.92 252.5,103.08 253.0,103.24 253.5,103.19 254.0,103.15 254.5,103.64 255.0,103.53 255.5,103.77 256.0,104.19 256.5,103.95 257.0,103.65 257.5,104.16 258.0,104.21 258.5,104.09 259.0,105.01 259.5,105.50 260.0,105.35 260.5,105.20 261.0,106.05 261.5,106.69 262.0,106.61 262.5,106.57 263.0,106.00 263.5,105.24 264.0,105.47 264.5,106.05 265.0,106.76 265.5,107.04 266.0,106.57 266.5,105.75 267.0,105.86 267.5,107.12 268.0,107.68 268.5,107.92 269.0,108.47 269.5,108.47 270.0,108.14 270.5,107.28 271.0,107.49 271.5,107.88 272.0,107.14 272.5,107.95 273.0,108.18 273.5,107.99 274.0,109.22 274.5,109.61 275.0,109.53 275.5,109.95 276.0,110.22 276.5,110.16 277.0,109.96 277.5,110.65 278.0,111.02 278.5,111.49 279.0,111.46 279.5,110.41 280.0,110.57 280.5,110.85 281.0,110.72 281.5,111.32 282.0,111.85 282.5,111.30 283.0,110.70 283.5,110.84 284.0,110.07 284.5,110.39 285.0,111.29 285.5,110.62 286.0,111.29 286.5,112.48 287.0,113.10 287.5,112.62 288.0,111.44 288.5,111.44 289.0,112.00 289.5,112.41 290.0,112.26 290.5,113.27 291.0,113.50 291.5,112.39 292.0,113.31 292.5,112.21 293.0,112.28 293.5,114.09 294.0,114.04 294.5,112.91 295.0,112.79 295.5,113.07 296.0,112.31 296.5,112.57 297.0,113.63 297.5,114.12 298.0,112.54 298.5,112.92 299.0,114.28 299.5,113.68 300.0,112.79 300.5,112.56 301.0,112.58 301.5,113.27 302.0,113.14 302.5,112.22 303.0,113.55 303.5,112.99 304.0,110.84 304.5,112.03 305.0,113.18 305.5,111.95 306.0,112.72 306.5,114.49 307.0,114.33 307.5,113.50 308.0,113.05 308.5,112.36 309.0,111.85 309.5,112.80 310.0,112.59 310.5,110.87 311.0,110.49 311.5,110.94 312.0,111.55 312.5,111.53 313.0,112.05 313.5,112.18 314.0,111.70 314.5,111.51 315.0,111.22 315.5,112.44 316.0,112.65 316.5,111.43 317.0,112.14 317.5,113.14 318.0,112.98 318.5,113.52 319.0,112.62 319.5,111.14 320.0,111.26 320.5,111.87 321.0,112.37 321.5,112.41 322.0,112.81 322.5,112.50 323.0,111.58 323.5,111.60 324.0,112.50 324.5,113.00 325.0,112.85 325.5,111.98 326.0,111.84 326.5,113.87 327.0,113.81 327.5,111.83 328.0,111.72" stroke="#ff6010"/>
<polyline points="42.0,115.60 42.5,115.60 43.0,115.60 43.5,115.60 44.0,115.60 44.5,115.60 45.0,115.60 45.5,115.60 46.0,115.60 46.5,115.60 47.0,115.60 47.5,115.60 48.0,115.60 48.5,115.60 49.0,115.60 49.5,115.60 50.0,115.60 50.5,115.60 51.0,115.60 51.5,115.60 52.0,115.60 52.5,115.60 53.0,115.60 53.5,115.60 54.0,115.60 54.5,115.60 55.0,115.60 55.5,115.60 56.0,115.60 56.5,115.60 57.0,115.60 57.5,115.60 58.0,115.60 58.5,115.60 59.0,115.60 59.5,115.60 60.0,115.60 60.5,115.60 61.0,115.60 61.5,115.60 62.0,115.60 62.5,115.60 63.0,115.60 63.5,115.60 64.0,115.60 64.5,115.60 65.0,115.60 65.5,115.60 66.0,115.60 66.5,115.60 67.0,115.60 67.5,115.60 68.0,115.60 68.5,115.60 69.0,115.60 69.5,115.60 70.0,115.60 70.5,115.60 71.0,115.59 71.5,115.58 72.0,115.56 72.5,115.53 73.0,115.50 73.5,115.45 74.0,115.41 74.5,115.36 75.0,115.31 75.5,115.26 76.0,115.21 76.5,115.16 77.0,115.12 77.5,115.08 78.0,115.05 78.5,115.02 79.0,114.99 79.5,114.97 80.0,114.95 80.5,114.93 81.0,114.91 81.5,114.89 82.0,114.87 82.5,114.85 83.0,114.83 83.5,114.81 84.0,114.79 84.5,114.77 85.0,114.74 85.5,114.71 86.0,114.68 86.5,114.64 87.0,114.60 87.5,114.56 88.0,114.51 88.5,114.46 89.0,114.41 89.5,114.35 90.0,114.29 90.5,114.22 91.0,114.16 91.5,114.08 92.0,114.01 92.5,113.93 93.0,113.84 93.5,113.75 94.0,113.65 94.5,113.54 95.0,113.43 95.5,113.31 96.0,113.19 96.5,113.06 97.0,112.93 97.5,112.80 98.0,112.67 98.5,112.53 99.0,112.39 99.5,112.24 100.0,112.08 100.5,111.92 101.0,111.75 101.5,111.58 102.0,111.41 102.5,111.23 103.0,111.04 103.5,110.86 104.0,110.67 104.5,110.48 105.0,110.29 105.5,110.08 106.0,109.87 106.5,109.64 107.0,109.41 107.5,109.16 108.0,108.90 108.5,108.61 109.0,108.30 109.5,107.97 110.0,107.60 110.5,107.22 111.0,106.82 111.5,106.39 112.0,105.95 112.5,105.49 113.0,105.01 113.5,104.51 114.0,104.00 114.5,103.48 115.0,102.95 115.5,102.41 116.0,101.87 116.5,101.33 117.0,100.79 117.5,100.26 118.0,99.73 118.5,99.20 119.0,98.69 119.5,98.19 120.0,97.69 120.5,97.20 121.0,96.70 121.5,96.21 122.0,95.72 122.5,95.24 123.0,94.75 123.5,94.28 124.0,93.83 124.5,93.38 125.0,92.95 125.5,92.54 126.0,92.14 126.5,91.76 127.0,91.38 127.5,91.01 128.0,90.64 128.5,90.27 129.0,89.90 129.5,89.53 130.0,89.16 130.5,88.80 131.0,88.43 131.5,88.07 132.0,87.71 132.5,87.37 133.0,87.03 133.5,86.72 134.0,86.41 134.5,86.12 135.0,85.84 135.5,85.57 136.0,85.31 136.5,85.06 137.0,84.80 137.5,84.55 138.0,84.29 138.5,84.03 139.0,83.77 139.5,83.50 140.0,83.23 140.5,82.96 141.0,82.69 141.5,82.42 142.0,82.15 142.5,81.90 143.0,81.64 143.5,81.39 144.0,81.13 144.5,80.87 145.0,80.60 145.5,80.32 146.0,80.03 146.5,79.72 147.0,79.39 147.5,79.03 148.0,78.64 148.5,78.22 149.0,77.78 149.5,77.31 150.0,76.81 150.5,76.28 151.0,75.71 151.5,75.09 152.0,74.42 152.5,73.70 153.0,72.93 153.5,72.10 154.0,71.22 154.5,70.28 155.0,69.28 155.5,68.22 156.0,67.09 156.5,65.89 157.0,64.59 157.5,63.21 158.0,61.73 158.5,60.14 159.0,58.46 159.5,56.67 160.0,54.77 160.5,52.76 161.0,50.63 161.5,48.38 162.0,46.01 162.5,43.55 163.0,41.01 163.5,38.44 164.0,35.86 164.5,33.27 165.0,30.63 165.5,28.09 166.0,25.93 166.5,24.41 167.0,23.61 167.5,23.38 168.0,23.55 168.5,24.37 169.0,25.77 169.5,27.56 170.0,29.58 170.5,31.69 171.0,33.72 171.5,35.59 172.0,37.28 172.5,38.77 173.0,40.06 173.5,41.19 174.0,42.18 174.5,43.08 175.0,43.90 175.5,44.67 176.0,45.40 176.5,46.10 177.0,46.77 177.5,47.44 178.0,48.11 178.5,48.78 179.0,49.45 179.5,50.12 180.0,50.77 180.5,51.41 181.0,52.03 181.5,52.63 182.0,53.22 182.5,53.77 183.0,54.29 183.5,54.78 184.0,55.22 184.5,55.61 185.0,55.95 185.5,56.23 186.0,56.46 186.5,56.63 187.0,56.76 187.5,56.86 188.0,56.93 188.5,57.00 189.0,57.08 189.5,57.18 190.0,57.32 190.5,57.50 191.0,57.74 191.5,58.04 192.0,58.41 192.5,58.85 193.0,59.36 193.5,59.94 194.0,60.59 194.5,61.30 195.0,62.08 195.5,62.93 196.0,63.82 196.5,64.77 197.0,65.75 197.5,66.78 198.0,67.85 198.5,68.94 199.0,70.06 199.5,71.19 200.0,72.31 200.5,73.42 201.0,74.51 201.5,75.58 202.0,76.62 202.5,77.62 203.0,78.58 203.5,79.50 204.0,80.37 204.5,81.18 205.0,81.93 205.5,82.65 206.0,83.33 206.5,83.98 207.0,84.62 207.5,85.25 208.0,85.87 208.5,86.46 209.0,87.01 209.5,87.53 210.0,88.00 210.5,88.44 211.0,88.85 211.5,89.23 212.0,89.58 212.5,89.91 213.0,90.22 213.5,90.51 214.0,90.78 214.5,91.04 215.0,91.29 215.5,91.53 216.0,91.76 216.5,91.95 217.0,92.14 217.5,92.39 218.0,92.55 218.5,92.64 219.0,92.79 219.5,92.96 220.0,93.10 220.5,93.26 221.0,93.41 221.5,93.50 222.0,93.62 222.5,93.64 223.0,93.87 223.5,94.09 224.0,94.14 224.5,94.15 225.0,94.20 225.5,94.57 226.0,94.73 226.5,94.64 227.0,94.56 227.5,94.98 228.0,95.44 228.5,95.16 229.0,95.38 229.5,95.86 230.0,95.71 230.5,95.49 231.0,95.79 231.5,95.99 232.0,95.97 232.5,95.91 233.0,96.04 233.5,96.24 234.0,96.52 234.5,96.87 235.0,96.84 235.5,96.70 236.0,96.68 236.5,97.21 237.0,97.32 237.5,97.10 238.0,97.40 238.5,97.77 239.0,97.93 239.5,98.42 240.0,98.47 240.5,98.12 241.0,98.52 241.5,98.52 242.0,98.79 242.5,99.27 243.0,99.16 243.5,98.58 244.0,99.03 244.5,99.58 245.0,98.95 245.5,99.14 246.0,99.18 246.5,99.74 247.0,100.97 247.5,100.54 248.0,100.32 248.5,100.82 249.0,100.96 249.5,100.63 250.0,100.05 250.5,100.81 251.0,100.95 251.5,100.79 252.0,101.32 252.5,101.51 253.0,101.69 253.5,101.64 254.0,101.61 254.5,102.15 255.0,102.04 255.5,102.31 256.0,102.78 256.5,102.52 257.0,102.19 257.5,102.75 258.0,102.81 258.5,102.69 259.0,103.71 259.5,104.26 260.0,104.09 260.5,103.93 261.0,104.87 261.5,105.59 262.0,105.51 262.5,105.46 263.0,104.83 263.5,103.99 264.0,104.24 264.5,104.89 265.0,105.68 265.5,105.99 266.0,105.48 266.5,104.56 267.0,104.68 267.5,106.09 268.0,106.71 268.5,106.98 269.0,107.59 269.5,107.60 270.0,107.23 270.5,106.27 271.0,106.51 271.5,106.94 272.0,106.13 272.5,107.03 273.0,107.28 273.5,107.08 274.0,108.44 274.5,108.88 275.0,108.79 275.5,109.26 276.0,109.56 276.5,109.50 277.0,109.27 277.5,110.04 278.0,110.45 278.5,110.97 279.0,110.94 279.5,109.77 280.0,109.95 280.5,110.27 281.0,110.12 281.5,110.79 282.0,111.38 282.5,110.76 283.0,110.10 283.5,110.25 284.0,109.40 284.5,109.76 285.0,110.76 285.5,110.02 286.0,110.76 286.5,112.08 287.0,112.77 287.5,112.25 288.0,110.93 288.5,110.93 289.0,111.56 289.5,112.01 290.0,111.84 290.5,112.96 291.0,113.23 291.5,111.99 292.0,113.02 292.5,111.79 293.0,111.86 293.5,113.88 294.0,113.82 294.5,112.57 295.0,112.43 295.5,112.75 296.0,111.91 296.5,112.19 297.0,113.37 297.5,113.92 298.0,112.15 298.5,112.58 299.0,114.09 299.5,113.42 300.0,112.43 300.5,112.18 301.0,112.20 301.5,112.97 302.0,112.82 302.5,111.81 303.0,113.29 303.5,112.66 304.0,110.27 304.5,111.59 305.0,112.87 305.5,111.51 306.0,112.36 306.5,114.33 307.0,114.15 307.5,113.23 308.0,112.73 308.5,111.96 309.0,111.39 309.5,112.45 310.0,112.22 310.5,110.30 311.0,109.89 311.5,110.38 312.0,111.06 312.5,111.04 313.0,111.62 313.5,111.76 314.0,111.23 314.5,111.02 315.0,110.70 315.5,112.06 316.0,112.29 316.5,110.93 317.0,111.72 317.5,112.83 318.0,112.65 318.5,113.25 319.0,112.25 319.5,110.61 320.0,110.74 320.5,111.42 321.0,111.97 321.5,112.02 322.0,112.47 322.5,112.12 323.0,111.10 323.5,111.12 324.0,112.12 324.5,112.68 325.0,112.51 325.5,111.54 326.0,111.39 326.5,113.65 327.0,113.57 327.5,111.37 328.0,111.26" stroke="#6496d2"/>
</g>
<rect x="42.5" y="15.5" width="286" height="201" fill="none" stroke="#999999" stroke-width="1"/>
<path d="M38.0 216.50H42.0M40.0 203.94H42.0M38.0 191.38H42.0M40.0 178.81H42.0M38.0 166.25H42.0M40.0 153.69H42.0M38.0 141.12H42.0M40.0 128.56H42.0M38.0 116.00H42.0M40.0 103.44H42.0M38.0 90.88H42.0M40.0 78.31H42.0M38.0 65.75H42.0M40.0 53.19H42.0M38.0 40.62H42.0M40.0 28.06H42.0M38.0 15.50H42.0M42.50 216.5V220.5M66.33 216.5V218.5M90.17 216.5V220.5M114.00 216.5V218.5M137.83 216.5V220.5M161.67 216.5V218.5M185.50 216.5V220.5M209.33 216.5V218.5M233.17 216.5V220.5M257.00 216.5V218.5M280.83 216.5V220.5M304.67 216.5V218.5M328.50 216.5V220.5" stroke="#999999" stroke-width="1" fill="none"/>
<text x="35.8" y="220.60" text-anchor="end" class="tl">-8</text>
<text x="35.8" y="195.47" text-anchor="end" class="tl">-6</text>
<text x="35.8" y="170.35" text-anchor="end" class="tl">-4</text>
<text x="35.8" y="145.22" text-anchor="end" class="tl">-2</text>
<text x="35.8" y="120.10" text-anchor="end" class="tl">0</text>
<text x="35.8" y="94.97" text-anchor="end" class="tl">2</text>
<text x="35.8" y="69.85" text-anchor="end" class="tl">4</text>
<text x="35.8" y="44.73" text-anchor="end" class="tl">6</text>
<text x="35.8" y="19.60" text-anchor="end" class="tl">8</text>
<text x="42.50" y="234.8" text-anchor="middle" class="tl">1400</text>
<text x="90.17" y="234.8" text-anchor="middle" class="tl">1450</text>
<text x="137.83" y="234.8" text-anchor="middle" class="tl">1500</text>
<text x="185.50" y="234.8" text-anchor="middle" class="tl">1550</text>
<text x="233.17" y="234.8" text-anchor="middle" class="tl">1600</text>
<text x="280.83" y="234.8" text-anchor="middle" class="tl">1650</text>
<text x="328.50" y="234.8" text-anchor="middle" class="tl">1700</text>
<text x="158.0" y="10.5" class="tl">5W</text>
<text x="48.0" y="32.6" class="lb">a)</text>
<text x="89.0" y="62.7" class="tl">p=1</text>
<text x="76.8" y="169.7" class="tl">p=0</text>
<text x="209.3" y="63.7" class="tl">L-band</text>
<rect x="205.5" y="69.8" width="52.0" height="75.3" fill="none" stroke="#3a3a3a" stroke-width="1"/>
<path d="M98.3 149 C102 143 106 134 107.5 125 C108.5 117 108 105 105.8 89" fill="none" stroke="#1a1a1a" stroke-width="1.3"/><path d="M101.3 68.4 L99.9 89.4 L110 87.5 Z" fill="#000"/>
<text x="185.6" y="261.2" text-anchor="middle" class="at">Wavelength (nm)</text>
<text transform="translate(17.3,193.0) rotate(-90)" class="at" style="font-size:18.9px">Gain (x10<tspan class="sup" dx="1.3" dy="-6.3">-21</tspan><tspan dy="6.3">) (cm</tspan><tspan class="sup" dy="-6.5">2</tspan><tspan dy="6.5">)</tspan></text>
<g fill="none" stroke-width="2" stroke-linejoin="round" stroke-linecap="round">
<polyline points="406.0,115.60 406.5,115.60 407.0,115.60 407.5,115.60 408.0,115.60 408.5,115.60 409.0,115.60 409.5,115.60 410.0,115.60 410.5,115.60 411.0,115.60 411.5,115.60 412.0,115.60 412.5,115.60 413.0,115.60 413.5,115.60 414.0,115.60 414.5,115.60 415.0,115.60 415.5,115.60 416.0,115.60 416.5,115.60 417.0,115.60 417.5,115.60 418.0,115.60 418.5,115.60 419.0,115.60 419.5,115.60 420.0,115.60 420.5,115.60 421.0,115.60 421.5,115.60 422.0,115.60 422.5,115.60 423.0,115.60 423.5,115.60 424.0,115.60 424.5,115.60 425.0,115.60 425.5,115.60 426.0,115.60 426.5,115.60 427.0,115.60 427.5,115.60 428.0,115.60 428.5,115.60 429.0,115.60 429.5,115.60 430.0,115.60 430.5,115.60 431.0,115.60 431.5,115.60 432.0,115.60 432.5,115.60 433.0,115.60 433.5,115.60 434.0,115.61 434.5,115.62 435.0,115.63 435.5,115.66 436.0,115.70 436.5,115.76 437.0,115.82 437.5,115.90 438.0,115.98 438.5,116.07 439.0,116.16 439.5,116.26 440.0,116.36 440.5,116.46 441.0,116.55 441.5,116.65 442.0,116.75 442.5,116.84 443.0,116.94 443.5,117.03 444.0,117.13 444.5,117.24 445.0,117.34 445.5,117.45 446.0,117.57 446.5,117.69 447.0,117.82 447.5,117.96 448.0,118.10 448.5,118.26 449.0,118.42 449.5,118.60 450.0,118.79 450.5,118.99 451.0,119.20 451.5,119.42 452.0,119.66 452.5,119.91 453.0,120.18 453.5,120.46 454.0,120.75 454.5,121.06 455.0,121.38 455.5,121.71 456.0,122.06 456.5,122.43 457.0,122.82 457.5,123.23 458.0,123.66 458.5,124.11 459.0,124.58 459.5,125.07 460.0,125.58 460.5,126.11 461.0,126.65 461.5,127.21 462.0,127.78 462.5,128.38 463.0,128.99 463.5,129.63 464.0,130.28 464.5,130.95 465.0,131.64 465.5,132.34 466.0,133.06 466.5,133.80 467.0,134.55 467.5,135.31 468.0,136.09 468.5,136.87 469.0,137.67 469.5,138.49 470.0,139.32 470.5,140.17 471.0,141.03 471.5,141.91 472.0,142.80 472.5,143.72 473.0,144.67 473.5,145.65 474.0,146.65 474.5,147.67 475.0,148.70 475.5,149.76 476.0,150.83 476.5,151.91 477.0,153.00 477.5,154.10 478.0,155.20 478.5,156.30 479.0,157.39 479.5,158.48 480.0,159.56 480.5,160.62 481.0,161.66 481.5,162.68 482.0,163.67 482.5,164.63 483.0,165.56 483.5,166.46 484.0,167.33 484.5,168.18 485.0,169.00 485.5,169.80 486.0,170.57 486.5,171.32 487.0,172.03 487.5,172.71 488.0,173.36 488.5,173.95 489.0,174.52 489.5,175.04 490.0,175.51 490.5,175.95 491.0,176.35 491.5,176.73 492.0,177.08 492.5,177.41 493.0,177.72 493.5,178.00 494.0,178.26 494.5,178.50 495.0,178.71 495.5,178.90 496.0,179.05 496.5,179.18 497.0,179.27 497.5,179.32 498.0,179.34 498.5,179.32 499.0,179.28 499.5,179.20 500.0,179.09 500.5,178.96 501.0,178.81 501.5,178.64 502.0,178.46 502.5,178.27 503.0,178.07 503.5,177.86 504.0,177.64 504.5,177.41 505.0,177.18 505.5,176.93 506.0,176.68 506.5,176.41 507.0,176.14 507.5,175.87 508.0,175.60 508.5,175.34 509.0,175.10 509.5,174.86 510.0,174.65 510.5,174.47 511.0,174.31 511.5,174.19 512.0,174.11 512.5,174.06 513.0,174.05 513.5,174.07 514.0,174.13 514.5,174.22 515.0,174.37 515.5,174.57 516.0,174.82 516.5,175.13 517.0,175.49 517.5,175.90 518.0,176.37 518.5,176.90 519.0,177.48 519.5,178.12 520.0,178.83 520.5,179.61 521.0,180.47 521.5,181.41 522.0,182.45 522.5,183.57 523.0,184.79 523.5,186.10 524.0,187.50 524.5,189.02 525.0,190.64 525.5,192.38 526.0,194.21 526.5,196.14 527.0,198.13 527.5,200.13 528.0,202.14 528.5,204.16 529.0,206.20 529.5,208.15 530.0,209.68 530.5,210.56 531.0,210.68 531.5,210.22 532.0,209.34 532.5,207.78 533.0,205.63 533.5,203.08 534.0,200.30 534.5,197.43 535.0,194.66 535.5,192.05 536.0,189.65 536.5,187.47 537.0,185.50 537.5,183.71 538.0,182.07 538.5,180.54 539.0,179.10 539.5,177.73 540.0,176.41 540.5,175.14 541.0,173.89 541.5,172.67 542.0,171.47 542.5,170.28 543.0,169.10 543.5,167.94 544.0,166.80 544.5,165.69 545.0,164.61 545.5,163.55 546.0,162.53 546.5,161.55 547.0,160.61 547.5,159.72 548.0,158.89 548.5,158.12 549.0,157.41 549.5,156.78 550.0,156.22 550.5,155.73 551.0,155.30 551.5,154.92 552.0,154.58 552.5,154.26 553.0,153.95 553.5,153.64 554.0,153.30 554.5,152.93 555.0,152.53 555.5,152.08 556.0,151.58 556.5,151.03 557.0,150.44 557.5,149.79 558.0,149.09 558.5,148.34 559.0,147.55 559.5,146.71 560.0,145.84 560.5,144.94 561.0,144.02 561.5,143.07 562.0,142.10 562.5,141.12 563.0,140.13 563.5,139.15 564.0,138.18 564.5,137.24 565.0,136.33 565.5,135.45 566.0,134.61 566.5,133.81 567.0,133.05 567.5,132.34 568.0,131.69 568.5,131.09 569.0,130.54 569.5,130.03 570.0,129.55 570.5,129.08 571.0,128.62 571.5,128.17 572.0,127.71 572.5,127.27 573.0,126.86 573.5,126.48 574.0,126.13 574.5,125.80 575.0,125.50 575.5,125.22 576.0,124.96 576.5,124.71 577.0,124.48 577.5,124.26 578.0,124.05 578.5,123.85 579.0,123.65 579.5,123.46 580.0,123.28 580.5,123.11 581.0,122.94 581.5,122.78 582.0,122.63 582.5,122.49 583.0,122.36 583.5,122.24 584.0,122.12 584.5,122.01 585.0,121.90 585.5,121.79 586.0,121.68 586.5,121.57 587.0,121.46 587.5,121.36 588.0,121.25 588.5,121.15 589.0,121.05 589.5,120.94 590.0,120.84 590.5,120.73 591.0,120.63 591.5,120.53 592.0,120.43 592.5,120.34 593.0,120.26 593.5,120.17 594.0,120.09 594.5,120.00 595.0,119.91 595.5,119.82 596.0,119.74 596.5,119.66 597.0,119.59 597.5,119.52 598.0,119.45 598.5,119.37 599.0,119.29 599.5,119.21 600.0,119.14 600.5,119.06 601.0,118.99 601.5,118.92 602.0,118.85 602.5,118.77 603.0,118.70 603.5,118.62 604.0,118.55 604.5,118.48 605.0,118.41 605.5,118.35 606.0,118.29 606.5,118.24 607.0,118.18 607.5,118.13 608.0,118.07 608.5,118.02 609.0,117.97 609.5,117.92 610.0,117.88 610.5,117.84 611.0,117.80 611.5,117.76 612.0,117.72 612.5,117.68 613.0,117.64 613.5,117.59 614.0,117.55 614.5,117.50 615.0,117.45 615.5,117.40 616.0,117.34 616.5,117.29 617.0,117.23 617.5,117.17 618.0,117.11 618.5,117.06 619.0,117.00 619.5,116.95 620.0,116.91 620.5,116.88 621.0,116.84 621.5,116.81 622.0,116.78 622.5,116.75 623.0,116.73 623.5,116.70 624.0,116.68 624.5,116.66 625.0,116.65 625.5,116.63 626.0,116.62 626.5,116.61 627.0,116.59 627.5,116.58 628.0,116.56 628.5,116.55 629.0,116.53 629.5,116.51 630.0,116.49 630.5,116.48 631.0,116.46 631.5,116.44 632.0,116.42 632.5,116.40 633.0,116.38 633.5,116.37 634.0,116.35 634.5,116.33 635.0,116.31 635.5,116.29 636.0,116.27 636.5,116.25 637.0,116.24 637.5,116.22 638.0,116.21 638.5,116.21 639.0,116.20 639.5,116.19 640.0,116.19 640.5,116.18 641.0,116.18 641.5,116.17 642.0,116.16 642.5,116.16 643.0,116.15 643.5,116.14 644.0,116.14 644.5,116.13 645.0,116.13 645.5,116.12 646.0,116.11 646.5,116.11 647.0,116.10 647.5,116.10 648.0,116.09 648.5,116.08 649.0,116.08 649.5,116.07 650.0,116.06 650.5,116.06 651.0,116.05 651.5,116.05 652.0,116.04 652.5,116.03 653.0,116.03 653.5,116.02 654.0,116.01 654.5,116.01 655.0,116.01 655.5,116.01 656.0,116.01 656.5,116.01 657.0,116.01 657.5,116.00 658.0,116.00 658.5,116.00 659.0,116.00 659.5,116.00 660.0,116.00 660.5,116.00 661.0,115.99 661.5,115.99 662.0,115.99 662.5,115.99 663.0,115.99 663.5,115.99 664.0,115.99 664.5,115.99 665.0,115.98 665.5,115.98 666.0,115.98 666.5,115.98 667.0,115.98 667.5,115.98 668.0,115.98 668.5,115.97 669.0,115.97 669.5,115.97 670.0,115.97 670.5,115.97 671.0,115.97 671.5,115.97 672.0,115.96 672.5,115.96 673.0,115.96 673.5,115.96 674.0,115.96 674.5,115.96 675.0,115.96 675.5,115.96 676.0,115.95 676.5,115.95 677.0,115.95 677.5,115.95 678.0,115.95 678.5,115.95 679.0,115.95 679.5,115.94 680.0,115.94 680.5,115.94 681.0,115.94 681.5,115.94 682.0,115.94 682.5,115.94 683.0,115.94 683.5,115.93 684.0,115.93 684.5,115.93 685.0,115.93 685.5,115.93 686.0,115.93 686.5,115.93 687.0,115.92 687.5,115.92 688.0,115.92 688.5,115.92 689.0,115.92 689.5,115.92 690.0,115.92 690.5,115.91 691.0,115.91 691.5,115.91 692.0,115.91" stroke="#3e3e3e"/>
<polyline points="406.0,115.60 406.5,115.60 407.0,115.60 407.5,115.60 408.0,115.60 408.5,115.60 409.0,115.60 409.5,115.60 410.0,115.60 410.5,115.60 411.0,115.60 411.5,115.60 412.0,115.60 412.5,115.60 413.0,115.60 413.5,115.60 414.0,115.60 414.5,115.60 415.0,115.60 415.5,115.60 416.0,115.60 416.5,115.60 417.0,115.60 417.5,115.60 418.0,115.60 418.5,115.60 419.0,115.60 419.5,115.60 420.0,115.60 420.5,115.60 421.0,115.60 421.5,115.60 422.0,115.60 422.5,115.60 423.0,115.60 423.5,115.60 424.0,115.60 424.5,115.60 425.0,115.60 425.5,115.60 426.0,115.60 426.5,115.60 427.0,115.60 427.5,115.60 428.0,115.60 428.5,115.60 429.0,115.60 429.5,115.60 430.0,115.60 430.5,115.60 431.0,115.60 431.5,115.60 432.0,115.60 432.5,115.60 433.0,115.60 433.5,115.60 434.0,115.61 434.5,115.62 435.0,115.63 435.5,115.65 436.0,115.69 436.5,115.73 437.0,115.79 437.5,115.85 438.0,115.92 438.5,116.00 439.0,116.07 439.5,116.16 440.0,116.24 440.5,116.33 441.0,116.41 441.5,116.49 442.0,116.57 442.5,116.66 443.0,116.74 443.5,116.82 444.0,116.91 444.5,117.00 445.0,117.10 445.5,117.19 446.0,117.30 446.5,117.40 447.0,117.52 447.5,117.64 448.0,117.77 448.5,117.91 449.0,118.05 449.5,118.21 450.0,118.37 450.5,118.55 451.0,118.74 451.5,118.93 452.0,119.14 452.5,119.36 453.0,119.60 453.5,119.84 454.0,120.10 454.5,120.37 455.0,120.65 455.5,120.94 456.0,121.25 456.5,121.57 457.0,121.91 457.5,122.27 458.0,122.65 458.5,123.04 459.0,123.46 459.5,123.89 460.0,124.33 460.5,124.79 461.0,125.27 461.5,125.75 462.0,126.26 462.5,126.78 463.0,127.32 463.5,127.88 464.0,128.45 464.5,129.03 465.0,129.64 465.5,130.25 466.0,130.88 466.5,131.52 467.0,132.18 467.5,132.85 468.0,133.52 468.5,134.21 469.0,134.91 469.5,135.62 470.0,136.35 470.5,137.09 471.0,137.84 471.5,138.60 472.0,139.38 472.5,140.18 473.0,141.00 473.5,141.84 474.0,142.71 474.5,143.58 475.0,144.48 475.5,145.38 476.0,146.30 476.5,147.22 477.0,148.15 477.5,149.09 478.0,150.03 478.5,150.96 479.0,151.89 479.5,152.82 480.0,153.73 480.5,154.63 481.0,155.50 481.5,156.36 482.0,157.20 482.5,158.02 483.0,158.80 483.5,159.56 484.0,160.29 484.5,161.00 485.0,161.69 485.5,162.36 486.0,163.00 486.5,163.62 487.0,164.21 487.5,164.78 488.0,165.30 488.5,165.80 489.0,166.26 489.5,166.68 490.0,167.07 490.5,167.42 491.0,167.75 491.5,168.05 492.0,168.33 492.5,168.58 493.0,168.82 493.5,169.04 494.0,169.23 494.5,169.41 495.0,169.56 495.5,169.69 496.0,169.79 496.5,169.87 497.0,169.91 497.5,169.93 498.0,169.92 498.5,169.87 499.0,169.80 499.5,169.70 500.0,169.57 500.5,169.43 501.0,169.27 501.5,169.09 502.0,168.90 502.5,168.70 503.0,168.49 503.5,168.28 504.0,168.05 504.5,167.82 505.0,167.58 505.5,167.33 506.0,167.08 506.5,166.81 507.0,166.54 507.5,166.27 508.0,166.00 508.5,165.74 509.0,165.49 509.5,165.25 510.0,165.03 510.5,164.83 511.0,164.66 511.5,164.51 512.0,164.39 512.5,164.31 513.0,164.25 513.5,164.22 514.0,164.22 514.5,164.25 515.0,164.33 515.5,164.44 516.0,164.60 516.5,164.79 517.0,165.04 517.5,165.32 518.0,165.66 518.5,166.03 519.0,166.45 519.5,166.92 520.0,167.44 520.5,168.01 521.0,168.65 521.5,169.36 522.0,170.13 522.5,170.98 523.0,171.90 523.5,172.89 524.0,173.96 524.5,175.11 525.0,176.35 525.5,177.67 526.0,179.08 526.5,180.55 527.0,182.08 527.5,183.62 528.0,185.15 528.5,186.70 529.0,188.26 529.5,189.75 530.0,190.90 530.5,191.53 531.0,191.56 531.5,191.12 532.0,190.34 532.5,189.03 533.0,187.24 533.5,185.13 534.0,182.84 534.5,180.48 535.0,178.20 535.5,176.05 536.0,174.06 536.5,172.25 537.0,170.61 537.5,169.12 538.0,167.75 538.5,166.47 539.0,165.26 539.5,164.10 540.0,162.99 540.5,161.92 541.0,160.87 541.5,159.84 542.0,158.83 542.5,157.83 543.0,156.84 543.5,155.86 544.0,154.91 544.5,153.97 545.0,153.06 545.5,152.18 546.0,151.32 546.5,150.49 547.0,149.70 547.5,148.95 548.0,148.25 548.5,147.60 549.0,147.00 549.5,146.46 550.0,145.98 550.5,145.55 551.0,145.18 551.5,144.85 552.0,144.55 552.5,144.27 553.0,144.00 553.5,143.73 554.0,143.44 554.5,143.13 555.0,142.79 555.5,142.42 556.0,142.01 556.5,141.56 557.0,141.08 557.5,140.55 558.0,139.99 558.5,139.39 559.0,138.76 559.5,138.10 560.0,137.41 560.5,136.70 561.0,135.97 561.5,135.22 562.0,134.46 562.5,133.69 563.0,132.92 563.5,132.15 564.0,131.40 564.5,130.67 565.0,129.96 565.5,129.28 566.0,128.63 566.5,128.02 567.0,127.44 567.5,126.90 568.0,126.40 568.5,125.94 569.0,125.53 569.5,125.14 570.0,124.78 570.5,124.43 571.0,124.09 571.5,123.74 572.0,123.40 572.5,123.06 573.0,122.75 573.5,122.46 574.0,122.19 574.5,121.94 575.0,121.71 575.5,121.50 576.0,121.30 576.5,121.12 577.0,120.94 577.5,120.77 578.0,120.61 578.5,120.46 579.0,120.30 579.5,120.16 580.0,120.02 580.5,119.88 581.0,119.75 581.5,119.63 582.0,119.51 582.5,119.41 583.0,119.30 583.5,119.20 584.0,119.11 584.5,119.03 585.0,118.95 585.5,118.87 586.0,118.78 586.5,118.70 587.0,118.61 587.5,118.53 588.0,118.45 588.5,118.35 589.0,118.29 589.5,118.21 590.0,118.13 590.5,118.09 591.0,117.99 591.5,117.89 592.0,117.81 592.5,117.76 593.0,117.70 593.5,117.61 594.0,117.53 594.5,117.46 595.0,117.41 595.5,117.36 596.0,117.31 596.5,117.24 597.0,117.17 597.5,117.13 598.0,117.10 598.5,117.02 599.0,116.91 599.5,116.86 600.0,116.83 600.5,116.79 601.0,116.72 601.5,116.65 602.0,116.58 602.5,116.54 603.0,116.55 603.5,116.51 604.0,116.46 604.5,116.43 605.0,116.33 605.5,116.23 606.0,116.26 606.5,116.20 607.0,116.12 607.5,116.16 608.0,116.12 608.5,116.06 609.0,116.07 609.5,116.09 610.0,116.04 610.5,115.95 611.0,116.01 611.5,115.98 612.0,115.86 612.5,115.87 613.0,115.86 613.5,115.83 614.0,115.84 614.5,115.81 615.0,115.71 615.5,115.71 616.0,115.72 616.5,115.63 617.0,115.63 617.5,115.62 618.0,115.61 618.5,115.59 619.0,115.50 619.5,115.43 620.0,115.45 620.5,115.32 621.0,115.30 621.5,115.41 622.0,115.38 622.5,115.40 623.0,115.33 623.5,115.33 624.0,115.33 624.5,115.26 625.0,115.37 625.5,115.38 626.0,115.36 626.5,115.29 627.0,115.28 627.5,115.46 628.0,115.54 628.5,115.56 629.0,115.49 629.5,115.48 630.0,115.51 630.5,115.50 631.0,115.44 631.5,115.33 632.0,115.41 632.5,115.52 633.0,115.48 633.5,115.53 634.0,115.55 634.5,115.52 635.0,115.41 635.5,115.37 636.0,115.44 636.5,115.40 637.0,115.35 637.5,115.41 638.0,115.41 638.5,115.46 639.0,115.46 639.5,115.39 640.0,115.47 640.5,115.58 641.0,115.48 641.5,115.41 642.0,115.32 642.5,115.38 643.0,115.52 643.5,115.51 644.0,115.55 644.5,115.48 645.0,115.55 645.5,115.61 646.0,115.56 646.5,115.55 647.0,115.53 647.5,115.48 648.0,115.47 648.5,115.51 649.0,115.59 649.5,115.67 650.0,115.69 650.5,115.66 651.0,115.58 651.5,115.57 652.0,115.68 652.5,115.63 653.0,115.60 653.5,115.68 654.0,115.65 654.5,115.58 655.0,115.72 655.5,115.82 656.0,115.67 656.5,115.63 657.0,115.70 657.5,115.71 658.0,115.58 658.5,115.58 659.0,115.63 659.5,115.56 660.0,115.63 660.5,115.65 661.0,115.66 661.5,115.72 662.0,115.76 662.5,115.68 663.0,115.63 663.5,115.72 664.0,115.76 664.5,115.61 665.0,115.50 665.5,115.61 666.0,115.69 666.5,115.77 667.0,115.71 667.5,115.59 668.0,115.69 668.5,115.63 669.0,115.49 669.5,115.61 670.0,115.68 670.5,115.64 671.0,115.59 671.5,115.56 672.0,115.66 672.5,115.56 673.0,115.43 673.5,115.44 674.0,115.38 674.5,115.46 675.0,115.51 675.5,115.45 676.0,115.42 676.5,115.47 677.0,115.55 677.5,115.53 678.0,115.55 678.5,115.58 679.0,115.65 679.5,115.62 680.0,115.56 680.5,115.60 681.0,115.54 681.5,115.49 682.0,115.38 682.5,115.39 683.0,115.59 683.5,115.60 684.0,115.55 684.5,115.54 685.0,115.55 685.5,115.62 686.0,115.61 686.5,115.61 687.0,115.69 687.5,115.70 688.0,115.59 688.5,115.48 689.0,115.50 689.5,115.60 690.0,115.56 690.5,115.51 691.0,115.45 691.5,115.45 692.0,115.55" stroke="#f02a2e"/>
<polyline points="406.0,115.60 406.5,115.60 407.0,115.60 407.5,115.60 408.0,115.60 408.5,115.60 409.0,115.60 409.5,115.60 410.0,115.60 410.5,115.60 411.0,115.60 411.5,115.60 412.0,115.60 412.5,115.60 413.0,115.60 413.5,115.60 414.0,115.60 414.5,115.60 415.0,115.60 415.5,115.60 416.0,115.60 416.5,115.60 417.0,115.60 417.5,115.60 418.0,115.60 418.5,115.60 419.0,115.60 419.5,115.60 420.0,115.60 420.5,115.60 421.0,115.60 421.5,115.60 422.0,115.60 422.5,115.60 423.0,115.60 423.5,115.60 424.0,115.60 424.5,115.60 425.0,115.60 425.5,115.60 426.0,115.60 426.5,115.60 427.0,115.60 427.5,115.60 428.0,115.60 428.5,115.60 429.0,115.60 429.5,115.60 430.0,115.60 430.5,115.60 431.0,115.60 431.5,115.60 432.0,115.60 432.5,115.60 433.0,115.60 433.5,115.60 434.0,115.61 434.5,115.61 435.0,115.63 435.5,115.65 436.0,115.67 436.5,115.71 437.0,115.76 437.5,115.81 438.0,115.86 438.5,115.92 439.0,115.99 439.5,116.06 440.0,116.12 440.5,116.19 441.0,116.26 441.5,116.33 442.0,116.40 442.5,116.47 443.0,116.54 443.5,116.62 444.0,116.69 444.5,116.77 445.0,116.85 445.5,116.93 446.0,117.02 446.5,117.12 447.0,117.22 447.5,117.32 448.0,117.43 448.5,117.55 449.0,117.68 449.5,117.81 450.0,117.96 450.5,118.11 451.0,118.27 451.5,118.44 452.0,118.62 452.5,118.81 453.0,119.01 453.5,119.22 454.0,119.45 454.5,119.68 455.0,119.92 455.5,120.17 456.0,120.44 456.5,120.72 457.0,121.01 457.5,121.32 458.0,121.64 458.5,121.98 459.0,122.33 459.5,122.70 460.0,123.08 460.5,123.48 461.0,123.88 461.5,124.30 462.0,124.73 462.5,125.18 463.0,125.64 463.5,126.12 464.0,126.61 464.5,127.11 465.0,127.63 465.5,128.16 466.0,128.70 466.5,129.25 467.0,129.81 467.5,130.38 468.0,130.96 468.5,131.55 469.0,132.15 469.5,132.76 470.0,133.38 470.5,134.01 471.0,134.65 471.5,135.30 472.0,135.96 472.5,136.64 473.0,137.33 473.5,138.04 474.0,138.77 474.5,139.50 475.0,140.25 475.5,141.00 476.0,141.76 476.5,142.53 477.0,143.30 477.5,144.08 478.0,144.85 478.5,145.62 479.0,146.39 479.5,147.15 480.0,147.90 480.5,148.63 481.0,149.35 481.5,150.05 482.0,150.74 482.5,151.40 483.0,152.04 483.5,152.65 484.0,153.24 484.5,153.82 485.0,154.37 485.5,154.91 486.0,155.43 486.5,155.92 487.0,156.39 487.5,156.84 488.0,157.25 488.5,157.64 489.0,158.00 489.5,158.33 490.0,158.63 490.5,158.90 491.0,159.14 491.5,159.37 492.0,159.57 492.5,159.76 493.0,159.92 493.5,160.07 494.0,160.20 494.5,160.32 495.0,160.41 495.5,160.48 496.0,160.53 496.5,160.56 497.0,160.56 497.5,160.54 498.0,160.49 498.5,160.42 499.0,160.32 499.5,160.20 500.0,160.06 500.5,159.90 501.0,159.73 501.5,159.54 502.0,159.34 502.5,159.14 503.0,158.92 503.5,158.70 504.0,158.47 504.5,158.23 505.0,157.98 505.5,157.73 506.0,157.47 506.5,157.21 507.0,156.94 507.5,156.67 508.0,156.40 508.5,156.14 509.0,155.88 509.5,155.64 510.0,155.41 510.5,155.19 511.0,155.00 511.5,154.83 512.0,154.68 512.5,154.56 513.0,154.45 513.5,154.37 514.0,154.31 514.5,154.28 515.0,154.28 515.5,154.31 516.0,154.37 516.5,154.46 517.0,154.59 517.5,154.75 518.0,154.94 518.5,155.17 519.0,155.42 519.5,155.71 520.0,156.04 520.5,156.42 521.0,156.83 521.5,157.30 522.0,157.82 522.5,158.39 523.0,159.01 523.5,159.68 524.0,160.41 524.5,161.20 525.0,162.06 525.5,162.97 526.0,163.94 526.5,164.97 527.0,166.03 527.5,167.10 528.0,168.17 528.5,169.24 529.0,170.32 529.5,171.35 530.0,172.12 530.5,172.51 531.0,172.44 531.5,172.02 532.0,171.35 532.5,170.28 533.0,168.85 533.5,167.19 534.0,165.38 534.5,163.53 535.0,161.73 535.5,160.04 536.0,158.47 536.5,157.04 537.0,155.73 537.5,154.53 538.0,153.43 538.5,152.39 539.0,151.42 539.5,150.48 540.0,149.58 540.5,148.70 541.0,147.85 541.5,147.01 542.0,146.19 542.5,145.38 543.0,144.57 543.5,143.78 544.0,143.01 544.5,142.25 545.0,141.52 545.5,140.80 546.0,140.11 546.5,139.44 547.0,138.79 547.5,138.18 548.0,137.61 548.5,137.08 549.0,136.58 549.5,136.14 550.0,135.74 550.5,135.38 551.0,135.06 551.5,134.78 552.0,134.52 552.5,134.28 553.0,134.05 553.5,133.82 554.0,133.58 554.5,133.32 555.0,133.05 555.5,132.75 556.0,132.43 556.5,132.09 557.0,131.71 557.5,131.32 558.0,130.89 558.5,130.44 559.0,129.97 559.5,129.48 560.0,128.97 560.5,128.45 561.0,127.92 561.5,127.37 562.0,126.82 562.5,126.27 563.0,125.71 563.5,125.16 564.0,124.62 564.5,124.10 565.0,123.59 565.5,123.12 566.0,122.66 566.5,122.23 567.0,121.83 567.5,121.45 568.0,121.11 568.5,120.80 569.0,120.51 569.5,120.25 570.0,120.01 570.5,119.78 571.0,119.55 571.5,119.31 572.0,119.08 572.5,118.85 573.0,118.63 573.5,118.43 574.0,118.25 574.5,118.08 575.0,117.93 575.5,117.78 576.0,117.65 576.5,117.52 577.0,117.40 577.5,117.28 578.0,117.17 578.5,117.06 579.0,116.96 579.5,116.86 580.0,116.75 580.5,116.66 581.0,116.57 581.5,116.49 582.0,116.39 582.5,116.33 583.0,116.25 583.5,116.16 584.0,116.10 584.5,116.05 585.0,116.00 585.5,115.95 586.0,115.89 586.5,115.82 587.0,115.76 587.5,115.70 588.0,115.64 588.5,115.55 589.0,115.53 589.5,115.48 590.0,115.43 590.5,115.45 591.0,115.35 591.5,115.24 592.0,115.18 592.5,115.18 593.0,115.15 593.5,115.05 594.0,114.97 594.5,114.93 595.0,114.90 595.5,114.89 596.0,114.87 596.5,114.82 597.0,114.75 597.5,114.74 598.0,114.76 598.5,114.67 599.0,114.53 599.5,114.50 600.0,114.52 600.5,114.52 601.0,114.45 601.5,114.38 602.0,114.32 602.5,114.30 603.0,114.39 603.5,114.41 604.0,114.38 604.5,114.39 605.0,114.25 605.5,114.12 606.0,114.23 606.5,114.16 607.0,114.06 607.5,114.19 608.0,114.17 608.5,114.10 609.0,114.16 609.5,114.27 610.0,114.21 610.5,114.07 611.0,114.23 611.5,114.21 612.0,113.99 612.5,114.06 613.0,114.09 613.5,114.07 614.0,114.13 614.5,114.13 615.0,113.96 615.5,114.03 616.0,114.10 616.5,113.97 617.0,114.03 617.5,114.06 618.0,114.11 618.5,114.13 619.0,114.01 619.5,113.91 620.0,113.99 620.5,113.77 621.0,113.75 621.5,114.01 622.0,113.99 622.5,114.05 623.0,113.93 623.5,113.96 624.0,113.98 624.5,113.85 625.0,114.09 625.5,114.12 626.0,114.10 626.5,113.97 627.0,113.96 627.5,114.33 628.0,114.51 628.5,114.56 629.0,114.45 629.5,114.44 630.0,114.53 630.5,114.52 631.0,114.43 631.5,114.22 632.0,114.40 632.5,114.63 633.0,114.57 633.5,114.70 634.0,114.75 634.5,114.71 635.0,114.51 635.5,114.45 636.0,114.62 636.5,114.54 637.0,114.47 637.5,114.59 638.0,114.61 638.5,114.72 639.0,114.72 639.5,114.59 640.0,114.75 640.5,114.98 641.0,114.77 641.5,114.64 642.0,114.48 642.5,114.60 643.0,114.88 643.5,114.88 644.0,114.97 644.5,114.84 645.0,114.98 645.5,115.11 646.0,115.01 646.5,115.00 647.0,114.96 647.5,114.86 648.0,114.84 648.5,114.94 649.0,115.09 649.5,115.27 650.0,115.33 650.5,115.26 651.0,115.10 651.5,115.09 652.0,115.33 652.5,115.22 653.0,115.17 653.5,115.35 654.0,115.29 654.5,115.15 655.0,115.43 655.5,115.63 656.0,115.33 656.5,115.25 657.0,115.39 657.5,115.42 658.0,115.16 658.5,115.16 659.0,115.26 659.5,115.11 660.0,115.26 660.5,115.31 661.0,115.32 661.5,115.45 662.0,115.53 662.5,115.36 663.0,115.27 663.5,115.44 664.0,115.53 664.5,115.24 665.0,115.02 665.5,115.24 666.0,115.41 666.5,115.57 667.0,115.44 667.5,115.21 668.0,115.40 668.5,115.28 669.0,115.01 669.5,115.25 670.0,115.39 670.5,115.31 671.0,115.21 671.5,115.16 672.0,115.36 672.5,115.15 673.0,114.91 673.5,114.92 674.0,114.79 674.5,114.96 675.0,115.06 675.5,114.94 676.0,114.88 676.5,114.98 677.0,115.15 677.5,115.12 678.0,115.14 678.5,115.21 679.0,115.36 679.5,115.29 680.0,115.17 680.5,115.26 681.0,115.15 681.5,115.05 682.0,114.82 682.5,114.84 683.0,115.25 683.5,115.26 684.0,115.17 684.5,115.15 685.0,115.16 685.5,115.30 686.0,115.29 686.5,115.29 687.0,115.46 687.5,115.47 688.0,115.26 688.5,115.05 689.0,115.09 689.5,115.29 690.0,115.19 690.5,115.10 691.0,114.98 691.5,114.99 692.0,115.20" stroke="#1e62e6"/>
<polyline points="406.0,115.60 406.5,115.60 407.0,115.60 407.5,115.60 408.0,115.60 408.5,115.60 409.0,115.60 409.5,115.60 410.0,115.60 410.5,115.60 411.0,115.60 411.5,115.60 412.0,115.60 412.5,115.60 413.0,115.60 413.5,115.60 414.0,115.60 414.5,115.60 415.0,115.60 415.5,115.60 416.0,115.60 416.5,115.60 417.0,115.60 417.5,115.60 418.0,115.60 418.5,115.60 419.0,115.60 419.5,115.60 420.0,115.60 420.5,115.60 421.0,115.60 421.5,115.60 422.0,115.60 422.5,115.60 423.0,115.60 423.5,115.60 424.0,115.60 424.5,115.60 425.0,115.60 425.5,115.60 426.0,115.60 426.5,115.60 427.0,115.60 427.5,115.60 428.0,115.60 428.5,115.60 429.0,115.60 429.5,115.60 430.0,115.60 430.5,115.60 431.0,115.60 431.5,115.60 432.0,115.60 432.5,115.60 433.0,115.60 433.5,115.60 434.0,115.61 434.5,115.61 435.0,115.62 435.5,115.64 436.0,115.66 436.5,115.69 437.0,115.72 437.5,115.76 438.0,115.80 438.5,115.85 439.0,115.90 439.5,115.95 440.0,116.01 440.5,116.06 441.0,116.12 441.5,116.17 442.0,116.23 442.5,116.29 443.0,116.35 443.5,116.41 444.0,116.47 444.5,116.53 445.0,116.60 445.5,116.67 446.0,116.75 446.5,116.83 447.0,116.91 447.5,117.00 448.0,117.10 448.5,117.20 449.0,117.31 449.5,117.42 450.0,117.54 450.5,117.67 451.0,117.81 451.5,117.95 452.0,118.10 452.5,118.26 453.0,118.43 453.5,118.61 454.0,118.79 454.5,118.99 455.0,119.19 455.5,119.40 456.0,119.63 456.5,119.86 457.0,120.10 457.5,120.36 458.0,120.63 458.5,120.91 459.0,121.21 459.5,121.51 460.0,121.83 460.5,122.16 461.0,122.50 461.5,122.85 462.0,123.21 462.5,123.58 463.0,123.97 463.5,124.37 464.0,124.77 464.5,125.19 465.0,125.62 465.5,126.06 466.0,126.51 466.5,126.97 467.0,127.44 467.5,127.91 468.0,128.40 468.5,128.89 469.0,129.38 469.5,129.89 470.0,130.41 470.5,130.93 471.0,131.46 471.5,132.00 472.0,132.54 472.5,133.10 473.0,133.66 473.5,134.24 474.0,134.83 474.5,135.42 475.0,136.02 475.5,136.62 476.0,137.23 476.5,137.84 477.0,138.46 477.5,139.07 478.0,139.68 478.5,140.29 479.0,140.89 479.5,141.48 480.0,142.07 480.5,142.64 481.0,143.20 481.5,143.74 482.0,144.27 482.5,144.78 483.0,145.27 483.5,145.75 484.0,146.20 484.5,146.64 485.0,147.06 485.5,147.46 486.0,147.85 486.5,148.22 487.0,148.57 487.5,148.90 488.0,149.20 488.5,149.48 489.0,149.74 489.5,149.97 490.0,150.18 490.5,150.37 491.0,150.53 491.5,150.68 492.0,150.81 492.5,150.93 493.0,151.03 493.5,151.11 494.0,151.17 494.5,151.23 495.0,151.26 495.5,151.28 496.0,151.27 496.5,151.25 497.0,151.21 497.5,151.15 498.0,151.07 498.5,150.97 499.0,150.84 499.5,150.70 500.0,150.55 500.5,150.38 501.0,150.19 501.5,149.99 502.0,149.79 502.5,149.57 503.0,149.35 503.5,149.12 504.0,148.88 504.5,148.64 505.0,148.39 505.5,148.13 506.0,147.87 506.5,147.60 507.0,147.33 507.5,147.06 508.0,146.80 508.5,146.53 509.0,146.28 509.5,146.02 510.0,145.78 510.5,145.56 511.0,145.35 511.5,145.15 512.0,144.97 512.5,144.80 513.0,144.66 513.5,144.52 514.0,144.41 514.5,144.31 515.0,144.23 515.5,144.18 516.0,144.14 516.5,144.13 517.0,144.14 517.5,144.17 518.0,144.23 518.5,144.30 519.0,144.39 519.5,144.51 520.0,144.65 520.5,144.82 521.0,145.02 521.5,145.24 522.0,145.50 522.5,145.79 523.0,146.12 523.5,146.47 524.0,146.86 524.5,147.29 525.0,147.76 525.5,148.27 526.0,148.81 526.5,149.39 527.0,149.99 527.5,150.58 528.0,151.18 528.5,151.78 529.0,152.39 529.5,152.95 530.0,153.35 530.5,153.48 531.0,153.32 531.5,152.92 532.0,152.36 532.5,151.52 533.0,150.46 533.5,149.24 534.0,147.92 534.5,146.58 535.0,145.27 535.5,144.03 536.0,142.88 536.5,141.82 537.0,140.85 537.5,139.95 538.0,139.11 538.5,138.32 539.0,137.57 539.5,136.85 540.0,136.16 540.5,135.49 541.0,134.83 541.5,134.19 542.0,133.55 542.5,132.93 543.0,132.31 543.5,131.71 544.0,131.12 544.5,130.54 545.0,129.97 545.5,129.43 546.0,128.89 546.5,128.38 547.0,127.89 547.5,127.42 548.0,126.97 548.5,126.55 549.0,126.17 549.5,125.81 550.0,125.49 550.5,125.20 551.0,124.94 551.5,124.71 552.0,124.49 552.5,124.29 553.0,124.10 553.5,123.91 554.0,123.72 554.5,123.52 555.0,123.31 555.5,123.09 556.0,122.86 556.5,122.61 557.0,122.35 557.5,122.08 558.0,121.79 558.5,121.49 559.0,121.18 559.5,120.86 560.0,120.54 560.5,120.20 561.0,119.87 561.5,119.52 562.0,119.18 562.5,118.84 563.0,118.50 563.5,118.16 564.0,117.83 564.5,117.52 565.0,117.23 565.5,116.95 566.0,116.69 566.5,116.44 567.0,116.21 567.5,116.00 568.0,115.82 568.5,115.65 569.0,115.50 569.5,115.37 570.0,115.24 570.5,115.12 571.0,115.01 571.5,114.88 572.0,114.76 572.5,114.64 573.0,114.52 573.5,114.41 574.0,114.32 574.5,114.23 575.0,114.14 575.5,114.07 576.0,113.99 576.5,113.92 577.0,113.86 577.5,113.80 578.0,113.73 578.5,113.67 579.0,113.61 579.5,113.55 580.0,113.49 580.5,113.43 581.0,113.38 581.5,113.34 582.0,113.28 582.5,113.24 583.0,113.19 583.5,113.12 584.0,113.09 584.5,113.07 585.0,113.04 585.5,113.02 586.0,112.99 586.5,112.95 587.0,112.91 587.5,112.87 588.0,112.83 588.5,112.75 589.0,112.77 589.5,112.74 590.0,112.73 590.5,112.81 591.0,112.71 591.5,112.60 592.0,112.55 592.5,112.60 593.0,112.59 593.5,112.49 594.0,112.41 594.5,112.39 595.0,112.40 595.5,112.42 596.0,112.44 596.5,112.39 597.0,112.33 597.5,112.35 598.0,112.42 598.5,112.32 599.0,112.14 599.5,112.14 600.0,112.22 600.5,112.25 601.0,112.19 601.5,112.12 602.0,112.06 602.5,112.06 603.0,112.24 603.5,112.30 604.0,112.29 604.5,112.34 605.0,112.16 605.5,112.00 606.0,112.20 606.5,112.12 607.0,111.99 607.5,112.23 608.0,112.22 608.5,112.15 609.0,112.26 609.5,112.44 610.0,112.38 610.5,112.18 611.0,112.44 611.5,112.43 612.0,112.13 612.5,112.25 613.0,112.31 613.5,112.30 614.0,112.42 614.5,112.44 615.0,112.22 615.5,112.34 616.0,112.48 616.5,112.31 617.0,112.42 617.5,112.51 618.0,112.60 618.5,112.66 619.0,112.51 619.5,112.39 620.0,112.53 620.5,112.22 621.0,112.20 621.5,112.61 622.0,112.60 622.5,112.70 623.0,112.54 623.5,112.59 624.0,112.62 624.5,112.44 625.0,112.81 625.5,112.86 626.0,112.85 626.5,112.64 627.0,112.64 627.5,113.21 628.0,113.48 628.5,113.57 629.0,113.41 629.5,113.41 630.0,113.54 630.5,113.54 631.0,113.42 631.5,113.12 632.0,113.39 632.5,113.75 633.0,113.67 633.5,113.87 634.0,113.96 634.5,113.90 635.0,113.61 635.5,113.53 636.0,113.79 636.5,113.69 637.0,113.59 637.5,113.78 638.0,113.81 638.5,113.97 639.0,113.98 639.5,113.79 640.0,114.03 640.5,114.38 641.0,114.07 641.5,113.88 642.0,113.65 642.5,113.82 643.0,114.25 643.5,114.25 644.0,114.39 644.5,114.19 645.0,114.41 645.5,114.60 646.0,114.46 646.5,114.44 647.0,114.38 647.5,114.24 648.0,114.22 648.5,114.37 649.0,114.60 649.5,114.87 650.0,114.96 650.5,114.86 651.0,114.63 651.5,114.61 652.0,114.97 652.5,114.81 653.0,114.75 653.5,115.01 654.0,114.93 654.5,114.72 655.0,115.13 655.5,115.44 656.0,114.99 656.5,114.88 657.0,115.08 657.5,115.13 658.0,114.75 658.5,114.75 659.0,114.88 659.5,114.67 660.0,114.90 660.5,114.97 661.0,114.98 661.5,115.18 662.0,115.31 662.5,115.04 663.0,114.92 663.5,115.17 664.0,115.30 664.5,114.87 665.0,114.53 665.5,114.87 666.0,115.12 666.5,115.36 667.0,115.17 667.5,114.83 668.0,115.11 668.5,114.94 669.0,114.52 669.5,114.88 670.0,115.10 670.5,114.98 671.0,114.83 671.5,114.76 672.0,115.06 672.5,114.75 673.0,114.38 673.5,114.40 674.0,114.21 674.5,114.46 675.0,114.61 675.5,114.43 676.0,114.34 676.5,114.50 677.0,114.74 677.5,114.70 678.0,114.74 678.5,114.85 679.0,115.07 679.5,114.96 680.0,114.79 680.5,114.91 681.0,114.75 681.5,114.60 682.0,114.26 682.5,114.30 683.0,114.90 683.5,114.93 684.0,114.79 684.5,114.75 685.0,114.78 685.5,114.99 686.0,114.97 686.5,114.97 687.0,115.22 687.5,115.24 688.0,114.93 688.5,114.61 689.0,114.68 689.5,114.97 690.0,114.83 690.5,114.69 691.0,114.52 691.5,114.53 692.0,114.84" stroke="#2aa860"/>
<polyline points="406.0,115.60 406.5,115.60 407.0,115.60 407.5,115.60 408.0,115.60 408.5,115.60 409.0,115.60 409.5,115.60 410.0,115.60 410.5,115.60 411.0,115.60 411.5,115.60 412.0,115.60 412.5,115.60 413.0,115.60 413.5,115.60 414.0,115.60 414.5,115.60 415.0,115.60 415.5,115.60 416.0,115.60 416.5,115.60 417.0,115.60 417.5,115.60 418.0,115.60 418.5,115.60 419.0,115.60 419.5,115.60 420.0,115.60 420.5,115.60 421.0,115.60 421.5,115.60 422.0,115.60 422.5,115.60 423.0,115.60 423.5,115.60 424.0,115.60 424.5,115.60 425.0,115.60 425.5,115.60 426.0,115.60 426.5,115.60 427.0,115.60 427.5,115.60 428.0,115.60 428.5,115.60 429.0,115.60 429.5,115.60 430.0,115.60 430.5,115.60 431.0,115.60 431.5,115.60 432.0,115.60 432.5,115.60 433.0,115.60 433.5,115.60 434.0,115.60 434.5,115.61 435.0,115.62 435.5,115.63 436.0,115.65 436.5,115.67 437.0,115.69 437.5,115.72 438.0,115.75 438.5,115.78 439.0,115.82 439.5,115.85 440.0,115.89 440.5,115.93 441.0,115.97 441.5,116.02 442.0,116.06 442.5,116.10 443.0,116.15 443.5,116.20 444.0,116.25 444.5,116.30 445.0,116.36 445.5,116.41 446.0,116.48 446.5,116.54 447.0,116.61 447.5,116.69 448.0,116.76 448.5,116.85 449.0,116.93 449.5,117.03 450.0,117.13 450.5,117.23 451.0,117.34 451.5,117.46 452.0,117.58 452.5,117.71 453.0,117.85 453.5,117.99 454.0,118.14 454.5,118.30 455.0,118.46 455.5,118.63 456.0,118.81 456.5,119.00 457.0,119.20 457.5,119.40 458.0,119.62 458.5,119.85 459.0,120.08 459.5,120.33 460.0,120.58 460.5,120.84 461.0,121.12 461.5,121.40 462.0,121.69 462.5,121.99 463.0,122.29 463.5,122.61 464.0,122.94 464.5,123.27 465.0,123.62 465.5,123.97 466.0,124.33 466.5,124.69 467.0,125.07 467.5,125.45 468.0,125.83 468.5,126.22 469.0,126.62 469.5,127.03 470.0,127.43 470.5,127.85 471.0,128.27 471.5,128.69 472.0,129.12 472.5,129.55 473.0,129.99 473.5,130.44 474.0,130.89 474.5,131.34 475.0,131.79 475.5,132.25 476.0,132.70 476.5,133.16 477.0,133.61 477.5,134.06 478.0,134.51 478.5,134.95 479.0,135.39 479.5,135.82 480.0,136.24 480.5,136.65 481.0,137.05 481.5,137.43 482.0,137.81 482.5,138.17 483.0,138.51 483.5,138.84 484.0,139.15 484.5,139.46 485.0,139.74 485.5,140.02 486.0,140.28 486.5,140.52 487.0,140.75 487.5,140.96 488.0,141.15 488.5,141.33 489.0,141.48 489.5,141.62 490.0,141.74 490.5,141.84 491.0,141.93 491.5,142.00 492.0,142.06 492.5,142.10 493.0,142.13 493.5,142.14 494.0,142.15 494.5,142.13 495.0,142.11 495.5,142.07 496.0,142.01 496.5,141.94 497.0,141.86 497.5,141.76 498.0,141.64 498.5,141.51 499.0,141.37 499.5,141.21 500.0,141.03 500.5,140.85 501.0,140.65 501.5,140.45 502.0,140.23 502.5,140.01 503.0,139.77 503.5,139.54 504.0,139.29 504.5,139.04 505.0,138.79 505.5,138.53 506.0,138.27 506.5,138.00 507.0,137.73 507.5,137.46 508.0,137.19 508.5,136.93 509.0,136.67 509.5,136.41 510.0,136.16 510.5,135.92 511.0,135.69 511.5,135.47 512.0,135.26 512.5,135.05 513.0,134.86 513.5,134.68 514.0,134.50 514.5,134.34 515.0,134.19 515.5,134.05 516.0,133.92 516.5,133.80 517.0,133.69 517.5,133.60 518.0,133.51 518.5,133.43 519.0,133.37 519.5,133.31 520.0,133.26 520.5,133.22 521.0,133.20 521.5,133.19 522.0,133.19 522.5,133.20 523.0,133.23 523.5,133.27 524.0,133.32 524.5,133.39 525.0,133.47 525.5,133.57 526.0,133.68 526.5,133.81 527.0,133.94 527.5,134.07 528.0,134.19 528.5,134.32 529.0,134.45 529.5,134.55 530.0,134.57 530.5,134.46 531.0,134.20 531.5,133.82 532.0,133.36 532.5,132.77 533.0,132.07 533.5,131.29 534.0,130.46 534.5,129.62 535.0,128.81 535.5,128.03 536.0,127.29 536.5,126.60 537.0,125.96 537.5,125.36 538.0,124.79 538.5,124.25 539.0,123.73 539.5,123.23 540.0,122.74 540.5,122.27 541.0,121.81 541.5,121.36 542.0,120.91 542.5,120.48 543.0,120.05 543.5,119.63 544.0,119.22 544.5,118.82 545.0,118.43 545.5,118.05 546.0,117.68 546.5,117.32 547.0,116.98 547.5,116.65 548.0,116.33 548.5,116.03 549.0,115.75 549.5,115.49 550.0,115.25 550.5,115.03 551.0,114.82 551.5,114.64 552.0,114.46 552.5,114.30 553.0,114.15 553.5,114.00 554.0,113.86 554.5,113.71 555.0,113.57 555.5,113.43 556.0,113.29 556.5,113.14 557.0,112.99 557.5,112.85 558.0,112.70 558.5,112.55 559.0,112.40 559.5,112.25 560.0,112.10 560.5,111.96 561.0,111.81 561.5,111.68 562.0,111.54 562.5,111.41 563.0,111.28 563.5,111.16 564.0,111.05 564.5,110.95 565.0,110.86 565.5,110.78 566.0,110.71 566.5,110.65 567.0,110.60 567.5,110.56 568.0,110.53 568.5,110.50 569.0,110.49 569.5,110.48 570.0,110.48 570.5,110.47 571.0,110.47 571.5,110.45 572.0,110.44 572.5,110.42 573.0,110.41 573.5,110.39 574.0,110.38 574.5,110.37 575.0,110.36 575.5,110.35 576.0,110.34 576.5,110.33 577.0,110.32 577.5,110.31 578.0,110.30 578.5,110.28 579.0,110.27 579.5,110.25 580.0,110.23 580.5,110.20 581.0,110.20 581.5,110.19 582.0,110.16 582.5,110.16 583.0,110.14 583.5,110.08 584.0,110.07 584.5,110.09 585.0,110.09 585.5,110.10 586.0,110.10 586.5,110.07 587.0,110.06 587.5,110.05 588.0,110.03 588.5,109.96 589.0,110.01 589.5,110.01 590.0,110.03 590.5,110.17 591.0,110.08 591.5,109.96 592.0,109.93 592.5,110.01 593.0,110.04 593.5,109.94 594.0,109.85 594.5,109.86 595.0,109.90 595.5,109.96 596.0,110.00 596.5,109.97 597.0,109.91 597.5,109.96 598.0,110.08 598.5,109.97 599.0,109.76 599.5,109.78 600.0,109.91 600.5,109.98 601.0,109.92 601.5,109.85 602.0,109.80 602.5,109.82 603.0,110.09 603.5,110.19 604.0,110.21 604.5,110.29 605.0,110.08 605.5,109.88 606.0,110.16 606.5,110.08 607.0,109.93 607.5,110.26 608.0,110.27 608.5,110.19 609.0,110.35 609.5,110.61 610.0,110.54 610.5,110.29 611.0,110.66 611.5,110.66 612.0,110.27 612.5,110.44 613.0,110.54 613.5,110.54 614.0,110.71 614.5,110.75 615.0,110.47 615.5,110.66 616.0,110.86 616.5,110.65 617.0,110.82 617.5,110.95 618.0,111.10 618.5,111.20 619.0,111.02 619.5,110.87 620.0,111.07 620.5,110.66 621.0,110.66 621.5,111.20 622.0,111.20 622.5,111.35 623.0,111.14 623.5,111.22 624.0,111.27 624.5,111.03 625.0,111.53 625.5,111.60 626.0,111.59 626.5,111.32 627.0,111.33 627.5,112.09 628.0,112.45 628.5,112.58 629.0,112.37 629.5,112.37 630.0,112.56 630.5,112.56 631.0,112.40 631.5,112.01 632.0,112.38 632.5,112.86 633.0,112.76 633.5,113.03 634.0,113.16 634.5,113.09 635.0,112.71 635.5,112.61 636.0,112.96 636.5,112.84 637.0,112.71 637.5,112.96 638.0,113.01 638.5,113.22 639.0,113.24 639.5,112.99 640.0,113.31 640.5,113.78 641.0,113.37 641.5,113.12 642.0,112.81 642.5,113.04 643.0,113.62 643.5,113.61 644.0,113.80 644.5,113.54 645.0,113.84 645.5,114.10 646.0,113.90 646.5,113.89 647.0,113.81 647.5,113.62 648.0,113.59 648.5,113.80 649.0,114.11 649.5,114.47 650.0,114.59 650.5,114.47 651.0,114.15 651.5,114.13 652.0,114.62 652.5,114.40 653.0,114.32 653.5,114.68 654.0,114.56 654.5,114.29 655.0,114.84 655.5,115.25 656.0,114.66 656.5,114.50 657.0,114.77 657.5,114.84 658.0,114.33 658.5,114.33 659.0,114.51 659.5,114.23 660.0,114.53 660.5,114.63 661.0,114.64 661.5,114.91 662.0,115.08 662.5,114.73 663.0,114.56 663.5,114.90 664.0,115.07 664.5,114.50 665.0,114.05 665.5,114.50 666.0,114.84 666.5,115.16 667.0,114.90 667.5,114.44 668.0,114.83 668.5,114.59 669.0,114.04 669.5,114.52 670.0,114.81 670.5,114.65 671.0,114.45 671.5,114.36 672.0,114.76 672.5,114.34 673.0,113.85 673.5,113.88 674.0,113.63 674.5,113.96 675.0,114.16 675.5,113.92 676.0,113.81 676.5,114.01 677.0,114.34 677.5,114.29 678.0,114.33 678.5,114.48 679.0,114.78 679.5,114.64 680.0,114.41 680.5,114.57 681.0,114.35 681.5,114.16 682.0,113.71 682.5,113.75 683.0,114.56 683.5,114.59 684.0,114.41 684.5,114.36 685.0,114.40 685.5,114.68 686.0,114.66 686.5,114.65 687.0,114.99 687.5,115.02 688.0,114.60 688.5,114.17 689.0,114.26 689.5,114.66 690.0,114.47 690.5,114.28 691.0,114.06 691.5,114.07 692.0,114.48" stroke="#ad6fe8"/>
<polyline points="406.0,115.60 406.5,115.60 407.0,115.60 407.5,115.60 408.0,115.60 408.5,115.60 409.0,115.60 409.5,115.60 410.0,115.60 410.5,115.60 411.0,115.60 411.5,115.60 412.0,115.60 412.5,115.60 413.0,115.60 413.5,115.60 414.0,115.60 414.5,115.60 415.0,115.60 415.5,115.60 416.0,115.60 416.5,115.60 417.0,115.60 417.5,115.60 418.0,115.60 418.5,115.60 419.0,115.60 419.5,115.60 420.0,115.60 420.5,115.60 421.0,115.60 421.5,115.60 422.0,115.60 422.5,115.60 423.0,115.60 423.5,115.60 424.0,115.60 424.5,115.60 425.0,115.60 425.5,115.60 426.0,115.60 426.5,115.60 427.0,115.60 427.5,115.60 428.0,115.60 428.5,115.60 429.0,115.60 429.5,115.60 430.0,115.60 430.5,115.60 431.0,115.60 431.5,115.60 432.0,115.60 432.5,115.60 433.0,115.60 433.5,115.60 434.0,115.60 434.5,115.61 435.0,115.61 435.5,115.62 436.0,115.63 436.5,115.64 437.0,115.66 437.5,115.67 438.0,115.69 438.5,115.71 439.0,115.73 439.5,115.75 440.0,115.78 440.5,115.80 441.0,115.83 441.5,115.86 442.0,115.89 442.5,115.92 443.0,115.95 443.5,115.99 444.0,116.03 444.5,116.07 445.0,116.11 445.5,116.15 446.0,116.20 446.5,116.25 447.0,116.31 447.5,116.37 448.0,116.43 448.5,116.49 449.0,116.56 449.5,116.64 450.0,116.71 450.5,116.79 451.0,116.88 451.5,116.97 452.0,117.06 452.5,117.16 453.0,117.27 453.5,117.38 454.0,117.49 454.5,117.61 455.0,117.73 455.5,117.86 456.0,118.00 456.5,118.14 457.0,118.29 457.5,118.45 458.0,118.61 458.5,118.78 459.0,118.96 459.5,119.14 460.0,119.33 460.5,119.53 461.0,119.73 461.5,119.94 462.0,120.16 462.5,120.39 463.0,120.62 463.5,120.86 464.0,121.10 464.5,121.35 465.0,121.61 465.5,121.87 466.0,122.14 466.5,122.42 467.0,122.69 467.5,122.98 468.0,123.27 468.5,123.56 469.0,123.86 469.5,124.16 470.0,124.46 470.5,124.77 471.0,125.08 471.5,125.39 472.0,125.70 472.5,126.01 473.0,126.32 473.5,126.64 474.0,126.95 474.5,127.26 475.0,127.56 475.5,127.87 476.0,128.17 476.5,128.47 477.0,128.76 477.5,129.05 478.0,129.34 478.5,129.62 479.0,129.89 479.5,130.15 480.0,130.41 480.5,130.65 481.0,130.89 481.5,131.12 482.0,131.34 482.5,131.55 483.0,131.75 483.5,131.93 484.0,132.11 484.5,132.28 485.0,132.43 485.5,132.57 486.0,132.70 486.5,132.82 487.0,132.93 487.5,133.02 488.0,133.10 488.5,133.17 489.0,133.22 489.5,133.27 490.0,133.30 490.5,133.32 491.0,133.32 491.5,133.32 492.0,133.30 492.5,133.27 493.0,133.23 493.5,133.18 494.0,133.12 494.5,133.04 495.0,132.96 495.5,132.86 496.0,132.75 496.5,132.64 497.0,132.51 497.5,132.37 498.0,132.22 498.5,132.06 499.0,131.89 499.5,131.71 500.0,131.52 500.5,131.32 501.0,131.11 501.5,130.90 502.0,130.67 502.5,130.44 503.0,130.20 503.5,129.96 504.0,129.71 504.5,129.45 505.0,129.19 505.5,128.93 506.0,128.66 506.5,128.40 507.0,128.13 507.5,127.86 508.0,127.59 508.5,127.33 509.0,127.06 509.5,126.80 510.0,126.54 510.5,126.29 511.0,126.03 511.5,125.79 512.0,125.54 512.5,125.30 513.0,125.06 513.5,124.83 514.0,124.60 514.5,124.37 515.0,124.14 515.5,123.92 516.0,123.69 516.5,123.47 517.0,123.25 517.5,123.02 518.0,122.80 518.5,122.57 519.0,122.34 519.5,122.11 520.0,121.87 520.5,121.63 521.0,121.38 521.5,121.13 522.0,120.87 522.5,120.61 523.0,120.34 523.5,120.06 524.0,119.77 524.5,119.48 525.0,119.17 525.5,118.86 526.0,118.55 526.5,118.22 527.0,117.89 527.5,117.55 528.0,117.21 528.5,116.86 529.0,116.51 529.5,116.15 530.0,115.79 530.5,115.43 531.0,115.08 531.5,114.72 532.0,114.37 532.5,114.02 533.0,113.68 533.5,113.34 534.0,113.00 534.5,112.67 535.0,112.35 535.5,112.02 536.0,111.70 536.5,111.39 537.0,111.08 537.5,110.77 538.0,110.47 538.5,110.18 539.0,109.89 539.5,109.60 540.0,109.32 540.5,109.05 541.0,108.79 541.5,108.53 542.0,108.27 542.5,108.03 543.0,107.79 543.5,107.55 544.0,107.33 544.5,107.10 545.0,106.89 545.5,106.68 546.0,106.47 546.5,106.27 547.0,106.07 547.5,105.88 548.0,105.69 548.5,105.51 549.0,105.34 549.5,105.17 550.0,105.01 550.5,104.85 551.0,104.71 551.5,104.57 552.0,104.43 552.5,104.31 553.0,104.20 553.5,104.09 554.0,104.00 554.5,103.91 555.0,103.83 555.5,103.77 556.0,103.71 556.5,103.67 557.0,103.63 557.5,103.61 558.0,103.60 558.5,103.60 559.0,103.61 559.5,103.63 560.0,103.67 560.5,103.71 561.0,103.76 561.5,103.83 562.0,103.90 562.5,103.98 563.0,104.07 563.5,104.17 564.0,104.27 564.5,104.38 565.0,104.50 565.5,104.61 566.0,104.74 566.5,104.86 567.0,104.99 567.5,105.11 568.0,105.23 568.5,105.36 569.0,105.48 569.5,105.60 570.0,105.71 570.5,105.82 571.0,105.93 571.5,106.03 572.0,106.12 572.5,106.21 573.0,106.29 573.5,106.37 574.0,106.44 574.5,106.51 575.0,106.57 575.5,106.63 576.0,106.68 576.5,106.73 577.0,106.78 577.5,106.82 578.0,106.86 578.5,106.89 579.0,106.92 579.5,106.95 580.0,106.97 580.5,106.98 581.0,107.01 581.5,107.04 582.0,107.04 582.5,107.08 583.0,107.08 583.5,107.04 584.0,107.06 584.5,107.11 585.0,107.14 585.5,107.18 586.0,107.20 586.5,107.20 587.0,107.21 587.5,107.22 588.0,107.22 588.5,107.16 589.0,107.25 589.5,107.28 590.0,107.33 590.5,107.52 591.0,107.44 591.5,107.32 592.0,107.30 592.5,107.43 593.0,107.48 593.5,107.38 594.0,107.29 594.5,107.33 595.0,107.40 595.5,107.49 596.0,107.57 596.5,107.55 597.0,107.49 597.5,107.57 598.0,107.74 598.5,107.61 599.0,107.38 599.5,107.42 600.0,107.60 600.5,107.71 601.0,107.65 601.5,107.58 602.0,107.53 602.5,107.58 603.0,107.93 603.5,108.08 604.0,108.12 604.5,108.25 605.0,108.00 605.5,107.76 606.0,108.13 606.5,108.04 607.0,107.87 607.5,108.29 608.0,108.32 608.5,108.23 609.0,108.45 609.5,108.78 610.0,108.71 610.5,108.41 611.0,108.87 611.5,108.88 612.0,108.41 612.5,108.63 613.0,108.76 613.5,108.78 614.0,109.00 614.5,109.06 615.0,108.73 615.5,108.97 616.0,109.23 616.5,108.99 617.0,109.22 617.5,109.40 618.0,109.59 618.5,109.74 619.0,109.52 619.5,109.35 620.0,109.60 620.5,109.11 621.0,109.11 621.5,109.80 622.0,109.81 622.5,110.00 623.0,109.75 623.5,109.84 624.0,109.91 624.5,109.62 625.0,110.24 625.5,110.35 626.0,110.33 626.5,110.00 627.0,110.01 627.5,110.97 628.0,111.42 628.5,111.59 629.0,111.33 629.5,111.33 630.0,111.58 630.5,111.58 631.0,111.39 631.5,110.90 632.0,111.37 632.5,111.98 633.0,111.86 633.5,112.20 634.0,112.37 634.5,112.28 635.0,111.81 635.5,111.69 636.0,112.13 636.5,111.98 637.0,111.83 637.5,112.15 638.0,112.21 638.5,112.48 639.0,112.49 639.5,112.19 640.0,112.59 640.5,113.17 641.0,112.67 641.5,112.35 642.0,111.97 642.5,112.26 643.0,112.98 643.5,112.98 644.0,113.22 644.5,112.89 645.0,113.26 645.5,113.59 646.0,113.35 646.5,113.33 647.0,113.24 647.5,113.01 648.0,112.97 648.5,113.23 649.0,113.62 649.5,114.07 650.0,114.22 650.5,114.07 651.0,113.67 651.5,113.65 652.0,114.26 652.5,114.00 653.0,113.89 653.5,114.34 654.0,114.20 654.5,113.86 655.0,114.55 655.5,115.06 656.0,114.32 656.5,114.12 657.0,114.47 657.5,114.55 658.0,113.91 658.5,113.91 659.0,114.14 659.5,113.79 660.0,114.16 660.5,114.29 661.0,114.30 661.5,114.63 662.0,114.85 662.5,114.41 663.0,114.20 663.5,114.63 664.0,114.85 664.5,114.13 665.0,113.56 665.5,114.13 666.0,114.55 666.5,114.95 667.0,114.63 667.5,114.06 668.0,114.54 668.5,114.25 669.0,113.56 669.5,114.16 670.0,114.52 670.5,114.33 671.0,114.07 671.5,113.95 672.0,114.46 672.5,113.94 673.0,113.32 673.5,113.36 674.0,113.05 674.5,113.46 675.0,113.72 675.5,113.41 676.0,113.27 676.5,113.53 677.0,113.94 677.5,113.87 678.0,113.93 678.5,114.11 679.0,114.49 679.5,114.31 680.0,114.02 680.5,114.23 681.0,113.95 681.5,113.71 682.0,113.15 682.5,113.20 683.0,114.21 683.5,114.25 684.0,114.03 684.5,113.97 685.0,114.02 685.5,114.37 686.0,114.34 686.5,114.34 687.0,114.75 687.5,114.79 688.0,114.27 688.5,113.74 689.0,113.85 689.5,114.35 690.0,114.11 690.5,113.87 691.0,113.59 691.5,113.61 692.0,114.12" stroke="#d29e00"/>
<polyline points="406.0,115.60 406.5,115.60 407.0,115.60 407.5,115.60 408.0,115.60 408.5,115.60 409.0,115.60 409.5,115.60 410.0,115.60 410.5,115.60 411.0,115.60 411.5,115.60 412.0,115.60 412.5,115.60 413.0,115.60 413.5,115.60 414.0,115.60 414.5,115.60 415.0,115.60 415.5,115.60 416.0,115.60 416.5,115.60 417.0,115.60 417.5,115.60 418.0,115.60 418.5,115.60 419.0,115.60 419.5,115.60 420.0,115.60 420.5,115.60 421.0,115.60 421.5,115.60 422.0,115.60 422.5,115.60 423.0,115.60 423.5,115.60 424.0,115.60 424.5,115.60 425.0,115.60 425.5,115.60 426.0,115.60 426.5,115.60 427.0,115.60 427.5,115.60 428.0,115.60 428.5,115.60 429.0,115.60 429.5,115.60 430.0,115.60 430.5,115.60 431.0,115.60 431.5,115.60 432.0,115.60 432.5,115.60 433.0,115.60 433.5,115.60 434.0,115.60 434.5,115.61 435.0,115.61 435.5,115.61 436.0,115.62 436.5,115.62 437.0,115.62 437.5,115.63 438.0,115.63 438.5,115.64 439.0,115.64 439.5,115.65 440.0,115.66 440.5,115.67 441.0,115.68 441.5,115.70 442.0,115.71 442.5,115.73 443.0,115.75 443.5,115.78 444.0,115.80 444.5,115.83 445.0,115.86 445.5,115.90 446.0,115.93 446.5,115.97 447.0,116.01 447.5,116.05 448.0,116.09 448.5,116.14 449.0,116.19 449.5,116.24 450.0,116.30 450.5,116.35 451.0,116.41 451.5,116.48 452.0,116.54 452.5,116.61 453.0,116.68 453.5,116.76 454.0,116.84 454.5,116.92 455.0,117.00 455.5,117.09 456.0,117.19 456.5,117.29 457.0,117.39 457.5,117.49 458.0,117.60 458.5,117.71 459.0,117.83 459.5,117.95 460.0,118.08 460.5,118.21 461.0,118.35 461.5,118.49 462.0,118.64 462.5,118.79 463.0,118.94 463.5,119.10 464.0,119.27 464.5,119.43 465.0,119.60 465.5,119.78 466.0,119.96 466.5,120.14 467.0,120.32 467.5,120.51 468.0,120.70 468.5,120.90 469.0,121.10 469.5,121.29 470.0,121.49 470.5,121.69 471.0,121.89 471.5,122.09 472.0,122.28 472.5,122.47 473.0,122.65 473.5,122.83 474.0,123.01 474.5,123.17 475.0,123.33 475.5,123.49 476.0,123.64 476.5,123.78 477.0,123.92 477.5,124.05 478.0,124.17 478.5,124.28 479.0,124.39 479.5,124.48 480.0,124.58 480.5,124.66 481.0,124.74 481.5,124.81 482.0,124.87 482.5,124.93 483.0,124.98 483.5,125.03 484.0,125.07 484.5,125.09 485.0,125.11 485.5,125.12 486.0,125.13 486.5,125.12 487.0,125.10 487.5,125.08 488.0,125.05 488.5,125.01 489.0,124.97 489.5,124.91 490.0,124.86 490.5,124.79 491.0,124.72 491.5,124.64 492.0,124.54 492.5,124.44 493.0,124.33 493.5,124.22 494.0,124.09 494.5,123.95 495.0,123.81 495.5,123.66 496.0,123.50 496.5,123.33 497.0,123.16 497.5,122.98 498.0,122.79 498.5,122.61 499.0,122.41 499.5,122.21 500.0,122.01 500.5,121.79 501.0,121.57 501.5,121.35 502.0,121.11 502.5,120.88 503.0,120.63 503.5,120.38 504.0,120.12 504.5,119.86 505.0,119.60 505.5,119.33 506.0,119.06 506.5,118.79 507.0,118.53 507.5,118.26 508.0,117.99 508.5,117.72 509.0,117.45 509.5,117.19 510.0,116.92 510.5,116.65 511.0,116.38 511.5,116.11 512.0,115.83 512.5,115.55 513.0,115.27 513.5,114.98 514.0,114.69 514.5,114.40 515.0,114.10 515.5,113.79 516.0,113.47 516.5,113.14 517.0,112.80 517.5,112.45 518.0,112.08 518.5,111.70 519.0,111.31 519.5,110.90 520.0,110.48 520.5,110.03 521.0,109.57 521.5,109.08 522.0,108.56 522.5,108.02 523.0,107.45 523.5,106.85 524.0,106.22 524.5,105.57 525.0,104.88 525.5,104.16 526.0,103.41 526.5,102.64 527.0,101.84 527.5,101.04 528.0,100.22 528.5,99.40 529.0,98.57 529.5,97.75 530.0,97.01 530.5,96.41 531.0,95.96 531.5,95.62 532.0,95.38 532.5,95.27 533.0,95.29 533.5,95.39 534.0,95.54 534.5,95.72 535.0,95.88 535.5,96.02 536.0,96.12 536.5,96.17 537.0,96.20 537.5,96.19 538.0,96.15 538.5,96.11 539.0,96.05 539.5,95.98 540.0,95.91 540.5,95.84 541.0,95.76 541.5,95.70 542.0,95.63 542.5,95.58 543.0,95.52 543.5,95.48 544.0,95.43 544.5,95.39 545.0,95.34 545.5,95.30 546.0,95.26 546.5,95.21 547.0,95.16 547.5,95.11 548.0,95.06 548.5,94.99 549.0,94.92 549.5,94.85 550.0,94.77 550.5,94.68 551.0,94.59 551.5,94.50 552.0,94.41 552.5,94.32 553.0,94.25 553.5,94.18 554.0,94.14 554.5,94.11 555.0,94.09 555.5,94.10 556.0,94.14 556.5,94.19 557.0,94.27 557.5,94.37 558.0,94.50 558.5,94.65 559.0,94.82 559.5,95.02 560.0,95.23 560.5,95.46 561.0,95.71 561.5,95.98 562.0,96.26 562.5,96.55 563.0,96.86 563.5,97.17 564.0,97.49 564.5,97.81 565.0,98.13 565.5,98.45 566.0,98.76 566.5,99.07 567.0,99.37 567.5,99.66 568.0,99.94 568.5,100.21 569.0,100.47 569.5,100.71 570.0,100.94 570.5,101.17 571.0,101.39 571.5,101.60 572.0,101.80 572.5,102.00 573.0,102.18 573.5,102.35 574.0,102.51 574.5,102.65 575.0,102.79 575.5,102.91 576.0,103.03 576.5,103.14 577.0,103.24 577.5,103.33 578.0,103.42 578.5,103.50 579.0,103.58 579.5,103.65 580.0,103.70 580.5,103.75 581.0,103.83 581.5,103.89 582.0,103.92 582.5,103.99 583.0,104.03 583.5,104.00 584.0,104.05 584.5,104.13 585.0,104.18 585.5,104.26 586.0,104.31 586.5,104.32 587.0,104.36 587.5,104.39 588.0,104.42 588.5,104.36 589.0,104.49 589.5,104.54 590.0,104.63 590.5,104.88 591.0,104.80 591.5,104.68 592.0,104.68 592.5,104.85 593.0,104.93 593.5,104.82 594.0,104.74 594.5,104.79 595.0,104.90 595.5,105.02 596.0,105.14 596.5,105.13 597.0,105.07 597.5,105.17 598.0,105.40 598.5,105.26 599.0,105.00 599.5,105.06 600.0,105.29 600.5,105.44 601.0,105.38 601.5,105.31 602.0,105.27 602.5,105.35 603.0,105.78 603.5,105.97 604.0,106.04 604.5,106.20 605.0,105.91 605.5,105.64 606.0,106.10 606.5,106.00 607.0,105.81 607.5,106.33 608.0,106.37 608.5,106.27 609.0,106.55 609.5,106.95 610.0,106.88 610.5,106.52 611.0,107.09 611.5,107.11 612.0,106.55 612.5,106.82 613.0,106.99 613.5,107.02 614.0,107.29 614.5,107.38 615.0,106.98 615.5,107.29 616.0,107.61 616.5,107.32 617.0,107.62 617.5,107.84 618.0,108.09 618.5,108.27 619.0,108.02 619.5,107.83 620.0,108.14 620.5,107.56 621.0,107.56 621.5,108.40 622.0,108.41 622.5,108.65 623.0,108.35 623.5,108.47 624.0,108.56 624.5,108.22 625.0,108.96 625.5,109.09 626.0,109.07 626.5,108.68 627.0,108.69 627.5,109.85 628.0,110.39 628.5,110.59 629.0,110.29 629.5,110.30 630.0,110.59 630.5,110.60 631.0,110.37 631.5,109.79 632.0,110.36 632.5,111.09 633.0,110.95 633.5,111.36 634.0,111.57 634.5,111.47 635.0,110.91 635.5,110.77 636.0,111.30 636.5,111.13 637.0,110.94 637.5,111.34 638.0,111.41 638.5,111.73 639.0,111.75 639.5,111.39 640.0,111.87 640.5,112.57 641.0,111.97 641.5,111.59 642.0,111.13 642.5,111.48 643.0,112.35 643.5,112.35 644.0,112.64 644.5,112.25 645.0,112.69 645.5,113.09 646.0,112.80 646.5,112.77 647.0,112.67 647.5,112.39 648.0,112.35 648.5,112.66 649.0,113.13 649.5,113.67 650.0,113.85 650.5,113.67 651.0,113.20 651.5,113.18 652.0,113.91 652.5,113.59 653.0,113.47 653.5,114.01 654.0,113.84 654.5,113.43 655.0,114.26 655.5,114.87 656.0,113.98 656.5,113.75 657.0,114.16 657.5,114.26 658.0,113.49 658.5,113.49 659.0,113.77 659.5,113.35 660.0,113.79 660.5,113.94 661.0,113.97 661.5,114.36 662.0,114.62 662.5,114.10 663.0,113.84 663.5,114.36 664.0,114.62 664.5,113.76 665.0,113.08 665.5,113.76 666.0,114.26 666.5,114.74 667.0,114.36 667.5,113.68 668.0,114.25 668.5,113.90 669.0,113.07 669.5,113.80 670.0,114.23 670.5,114.00 671.0,113.70 671.5,113.55 672.0,114.16 672.5,113.53 673.0,112.79 673.5,112.83 674.0,112.46 674.5,112.96 675.0,113.27 675.5,112.90 676.0,112.73 676.5,113.04 677.0,113.53 677.5,113.46 678.0,113.53 678.5,113.75 679.0,114.20 679.5,113.98 680.0,113.64 680.5,113.89 681.0,113.56 681.5,113.27 682.0,112.59 682.5,112.66 683.0,113.87 683.5,113.92 684.0,113.65 684.5,113.58 685.0,113.63 685.5,114.06 686.0,114.02 686.5,114.02 687.0,114.52 687.5,114.56 688.0,113.94 688.5,113.30 689.0,113.43 689.5,114.03 690.0,113.75 690.5,113.46 691.0,113.13 691.5,113.15 692.0,113.76" stroke="#12c2c8"/>
<polyline points="406.0,115.60 406.5,115.60 407.0,115.60 407.5,115.60 408.0,115.60 408.5,115.60 409.0,115.60 409.5,115.60 410.0,115.60 410.5,115.60 411.0,115.60 411.5,115.60 412.0,115.60 412.5,115.60 413.0,115.60 413.5,115.60 414.0,115.60 414.5,115.60 415.0,115.60 415.5,115.60 416.0,115.60 416.5,115.60 417.0,115.60 417.5,115.60 418.0,115.60 418.5,115.60 419.0,115.60 419.5,115.60 420.0,115.60 420.5,115.60 421.0,115.60 421.5,115.60 422.0,115.60 422.5,115.60 423.0,115.60 423.5,115.60 424.0,115.60 424.5,115.60 425.0,115.60 425.5,115.60 426.0,115.60 426.5,115.60 427.0,115.60 427.5,115.60 428.0,115.60 428.5,115.60 429.0,115.60 429.5,115.60 430.0,115.60 430.5,115.60 431.0,115.60 431.5,115.60 432.0,115.60 432.5,115.60 433.0,115.60 433.5,115.60 434.0,115.60 434.5,115.60 435.0,115.60 435.5,115.60 436.0,115.60 436.5,115.60 437.0,115.59 437.5,115.58 438.0,115.57 438.5,115.56 439.0,115.56 439.5,115.55 440.0,115.54 440.5,115.54 441.0,115.54 441.5,115.54 442.0,115.54 442.5,115.55 443.0,115.56 443.5,115.57 444.0,115.58 444.5,115.60 445.0,115.62 445.5,115.64 446.0,115.66 446.5,115.68 447.0,115.71 447.5,115.73 448.0,115.76 448.5,115.79 449.0,115.82 449.5,115.85 450.0,115.88 450.5,115.92 451.0,115.95 451.5,115.99 452.0,116.02 452.5,116.06 453.0,116.10 453.5,116.14 454.0,116.18 454.5,116.23 455.0,116.28 455.5,116.33 456.0,116.38 456.5,116.43 457.0,116.48 457.5,116.54 458.0,116.59 458.5,116.65 459.0,116.71 459.5,116.77 460.0,116.83 460.5,116.89 461.0,116.96 461.5,117.04 462.0,117.11 462.5,117.19 463.0,117.27 463.5,117.35 464.0,117.43 464.5,117.51 465.0,117.60 465.5,117.68 466.0,117.77 466.5,117.86 467.0,117.95 467.5,118.05 468.0,118.14 468.5,118.24 469.0,118.33 469.5,118.43 470.0,118.52 470.5,118.61 471.0,118.70 471.5,118.78 472.0,118.86 472.5,118.93 473.0,118.98 473.5,119.03 474.0,119.07 474.5,119.09 475.0,119.11 475.5,119.11 476.0,119.11 476.5,119.09 477.0,119.07 477.5,119.04 478.0,118.99 478.5,118.94 479.0,118.88 479.5,118.82 480.0,118.75 480.5,118.67 481.0,118.59 481.5,118.50 482.0,118.41 482.5,118.32 483.0,118.22 483.5,118.12 484.0,118.02 484.5,117.91 485.0,117.80 485.5,117.68 486.0,117.55 486.5,117.42 487.0,117.28 487.5,117.14 488.0,117.00 488.5,116.85 489.0,116.71 489.5,116.56 490.0,116.41 490.5,116.26 491.0,116.11 491.5,115.95 492.0,115.79 492.5,115.62 493.0,115.44 493.5,115.25 494.0,115.06 494.5,114.86 495.0,114.66 495.5,114.45 496.0,114.24 496.5,114.02 497.0,113.80 497.5,113.59 498.0,113.37 498.5,113.15 499.0,112.93 499.5,112.71 500.0,112.49 500.5,112.27 501.0,112.04 501.5,111.80 502.0,111.56 502.5,111.31 503.0,111.06 503.5,110.80 504.0,110.53 504.5,110.27 505.0,110.00 505.5,109.73 506.0,109.46 506.5,109.19 507.0,108.92 507.5,108.66 508.0,108.39 508.5,108.12 509.0,107.85 509.5,107.58 510.0,107.30 510.5,107.01 511.0,106.72 511.5,106.42 512.0,106.12 512.5,105.80 513.0,105.47 513.5,105.13 514.0,104.79 514.5,104.43 515.0,104.05 515.5,103.66 516.0,103.24 516.5,102.81 517.0,102.35 517.5,101.87 518.0,101.37 518.5,100.84 519.0,100.28 519.5,99.70 520.0,99.09 520.5,98.44 521.0,97.75 521.5,97.02 522.0,96.25 522.5,95.42 523.0,94.56 523.5,93.64 524.0,92.68 524.5,91.66 525.0,90.59 525.5,89.46 526.0,88.28 526.5,87.06 527.0,85.79 527.5,84.52 528.0,83.24 528.5,81.94 529.0,80.63 529.5,79.35 530.0,78.23 530.5,77.38 531.0,76.83 531.5,76.52 532.0,76.38 532.5,76.52 533.0,76.90 533.5,77.44 534.0,78.08 534.5,78.77 535.0,79.42 535.5,80.01 536.0,80.53 536.5,80.96 537.0,81.31 537.5,81.60 538.0,81.84 538.5,82.03 539.0,82.20 539.5,82.35 540.0,82.49 540.5,82.62 541.0,82.74 541.5,82.87 542.0,82.99 542.5,83.13 543.0,83.26 543.5,83.40 544.0,83.54 544.5,83.67 545.0,83.80 545.5,83.93 546.0,84.05 546.5,84.16 547.0,84.26 547.5,84.34 548.0,84.42 548.5,84.47 549.0,84.51 549.5,84.53 550.0,84.52 550.5,84.50 551.0,84.47 551.5,84.42 552.0,84.38 552.5,84.33 553.0,84.30 553.5,84.28 554.0,84.28 554.5,84.30 555.0,84.36 555.5,84.44 556.0,84.56 556.5,84.72 557.0,84.91 557.5,85.14 558.0,85.40 558.5,85.70 559.0,86.04 559.5,86.40 560.0,86.80 560.5,87.22 561.0,87.66 561.5,88.13 562.0,88.62 562.5,89.13 563.0,89.65 563.5,90.18 564.0,90.71 564.5,91.24 565.0,91.76 565.5,92.28 566.0,92.79 566.5,93.28 567.0,93.76 567.5,94.22 568.0,94.65 568.5,95.06 569.0,95.45 569.5,95.82 570.0,96.18 570.5,96.52 571.0,96.85 571.5,97.17 572.0,97.48 572.5,97.78 573.0,98.07 573.5,98.33 574.0,98.57 574.5,98.79 575.0,99.00 575.5,99.19 576.0,99.37 576.5,99.54 577.0,99.70 577.5,99.84 578.0,99.98 578.5,100.11 579.0,100.23 579.5,100.34 580.0,100.44 580.5,100.53 581.0,100.64 581.5,100.75 582.0,100.80 582.5,100.91 583.0,100.97 583.5,100.96 584.0,101.04 584.5,101.14 585.0,101.23 585.5,101.33 586.0,101.41 586.5,101.45 587.0,101.51 587.5,101.56 588.0,101.61 588.5,101.56 589.0,101.73 589.5,101.81 590.0,101.93 590.5,102.24 591.0,102.16 591.5,102.04 592.0,102.05 592.5,102.26 593.0,102.37 593.5,102.26 594.0,102.18 594.5,102.26 595.0,102.40 595.5,102.56 596.0,102.70 596.5,102.70 597.0,102.65 597.5,102.78 598.0,103.05 598.5,102.91 599.0,102.61 599.5,102.70 600.0,102.99 600.5,103.17 601.0,103.12 601.5,103.05 602.0,103.01 602.5,103.11 603.0,103.63 603.5,103.86 604.0,103.95 604.5,104.15 605.0,103.83 605.5,103.52 606.0,104.07 606.5,103.96 607.0,103.74 607.5,104.36 608.0,104.42 608.5,104.32 609.0,104.64 609.5,105.13 610.0,105.04 610.5,104.64 611.0,105.30 611.5,105.33 612.0,104.69 612.5,105.01 613.0,105.21 613.5,105.25 614.0,105.57 614.5,105.69 615.0,105.23 615.5,105.60 616.0,105.99 616.5,105.66 617.0,106.02 617.5,106.29 618.0,106.58 618.5,106.81 619.0,106.53 619.5,106.31 620.0,106.68 620.5,106.00 621.0,106.02 621.5,107.00 622.0,107.02 622.5,107.30 623.0,106.96 623.5,107.10 624.0,107.21 624.5,106.81 625.0,107.68 625.5,107.83 626.0,107.82 626.5,107.36 627.0,107.38 627.5,108.73 628.0,109.36 628.5,109.60 629.0,109.25 629.5,109.26 630.0,109.61 630.5,109.61 631.0,109.36 631.5,108.68 632.0,109.35 632.5,110.21 633.0,110.04 633.5,110.53 634.0,110.78 634.5,110.67 635.0,110.01 635.5,109.85 636.0,110.47 636.5,110.27 637.0,110.06 637.5,110.52 638.0,110.61 638.5,110.99 639.0,111.01 639.5,110.59 640.0,111.15 640.5,111.97 641.0,111.27 641.5,110.83 642.0,110.29 642.5,110.70 643.0,111.72 643.5,111.71 644.0,112.05 644.5,111.60 645.0,112.12 645.5,112.58 646.0,112.25 646.5,112.22 647.0,112.10 647.5,111.77 648.0,111.72 648.5,112.09 649.0,112.64 649.5,113.27 650.0,113.48 650.5,113.27 651.0,112.72 651.5,112.70 652.0,113.55 652.5,113.18 653.0,113.04 653.5,113.67 654.0,113.47 654.5,113.00 655.0,113.97 655.5,114.68 656.0,113.64 656.5,113.37 657.0,113.85 657.5,113.97 658.0,113.07 658.5,113.07 659.0,113.39 659.5,112.90 660.0,113.43 660.5,113.60 661.0,113.63 661.5,114.09 662.0,114.39 662.5,113.78 663.0,113.48 663.5,114.09 664.0,114.39 664.5,113.39 665.0,112.60 665.5,113.39 666.0,113.98 666.5,114.54 667.0,114.09 667.5,113.29 668.0,113.97 668.5,113.55 669.0,112.59 669.5,113.43 670.0,113.94 670.5,113.67 671.0,113.32 671.5,113.15 672.0,113.86 672.5,113.13 673.0,112.27 673.5,112.31 674.0,111.88 674.5,112.47 675.0,112.82 675.5,112.40 676.0,112.20 676.5,112.56 677.0,113.13 677.5,113.04 678.0,113.12 678.5,113.38 679.0,113.91 679.5,113.65 680.0,113.25 680.5,113.54 681.0,113.16 681.5,112.82 682.0,112.03 682.5,112.11 683.0,113.52 683.5,113.58 684.0,113.27 684.5,113.18 685.0,113.25 685.5,113.75 686.0,113.70 686.5,113.70 687.0,114.28 687.5,114.34 688.0,113.61 688.5,112.86 689.0,113.02 689.5,113.72 690.0,113.39 690.5,113.05 691.0,112.66 691.5,112.68 692.0,113.41" stroke="#7e4a55"/>
<polyline points="406.0,115.60 406.5,115.60 407.0,115.60 407.5,115.60 408.0,115.60 408.5,115.60 409.0,115.60 409.5,115.60 410.0,115.60 410.5,115.60 411.0,115.60 411.5,115.60 412.0,115.60 412.5,115.60 413.0,115.60 413.5,115.60 414.0,115.60 414.5,115.60 415.0,115.60 415.5,115.60 416.0,115.60 416.5,115.60 417.0,115.60 417.5,115.60 418.0,115.60 418.5,115.60 419.0,115.60 419.5,115.60 420.0,115.60 420.5,115.60 421.0,115.60 421.5,115.60 422.0,115.60 422.5,115.60 423.0,115.60 423.5,115.60 424.0,115.60 424.5,115.60 425.0,115.60 425.5,115.60 426.0,115.60 426.5,115.60 427.0,115.60 427.5,115.60 428.0,115.60 428.5,115.60 429.0,115.60 429.5,115.60 430.0,115.60 430.5,115.60 431.0,115.60 431.5,115.60 432.0,115.60 432.5,115.60 433.0,115.60 433.5,115.60 434.0,115.60 434.5,115.60 435.0,115.60 435.5,115.60 436.0,115.59 436.5,115.57 437.0,115.56 437.5,115.54 438.0,115.52 438.5,115.49 439.0,115.47 439.5,115.45 440.0,115.43 440.5,115.41 441.0,115.39 441.5,115.38 442.0,115.37 442.5,115.36 443.0,115.36 443.5,115.36 444.0,115.36 444.5,115.36 445.0,115.37 445.5,115.38 446.0,115.38 446.5,115.39 447.0,115.40 447.5,115.41 448.0,115.42 448.5,115.44 449.0,115.45 449.5,115.46 450.0,115.47 450.5,115.48 451.0,115.49 451.5,115.49 452.0,115.50 452.5,115.51 453.0,115.52 453.5,115.53 454.0,115.53 454.5,115.54 455.0,115.55 455.5,115.56 456.0,115.56 456.5,115.57 457.0,115.58 457.5,115.58 458.0,115.58 458.5,115.58 459.0,115.58 459.5,115.58 460.0,115.58 460.5,115.58 461.0,115.58 461.5,115.58 462.0,115.59 462.5,115.59 463.0,115.59 463.5,115.59 464.0,115.59 464.5,115.59 465.0,115.59 465.5,115.59 466.0,115.59 466.5,115.58 467.0,115.58 467.5,115.58 468.0,115.58 468.5,115.58 469.0,115.57 469.5,115.56 470.0,115.55 470.5,115.53 471.0,115.51 471.5,115.48 472.0,115.44 472.5,115.39 473.0,115.31 473.5,115.23 474.0,115.13 474.5,115.01 475.0,114.88 475.5,114.73 476.0,114.58 476.5,114.41 477.0,114.22 477.5,114.03 478.0,113.82 478.5,113.61 479.0,113.38 479.5,113.15 480.0,112.91 480.5,112.68 481.0,112.43 481.5,112.19 482.0,111.94 482.5,111.70 483.0,111.46 483.5,111.22 484.0,110.98 484.5,110.73 485.0,110.48 485.5,110.23 486.0,109.98 486.5,109.72 487.0,109.46 487.5,109.20 488.0,108.95 488.5,108.70 489.0,108.45 489.5,108.21 490.0,107.97 490.5,107.74 491.0,107.51 491.5,107.27 492.0,107.03 492.5,106.79 493.0,106.54 493.5,106.29 494.0,106.03 494.5,105.77 495.0,105.51 495.5,105.24 496.0,104.98 496.5,104.71 497.0,104.45 497.5,104.20 498.0,103.95 498.5,103.70 499.0,103.46 499.5,103.22 500.0,102.98 500.5,102.74 501.0,102.50 501.5,102.25 502.0,102.00 502.5,101.74 503.0,101.48 503.5,101.22 504.0,100.95 504.5,100.68 505.0,100.40 505.5,100.13 506.0,99.86 506.5,99.59 507.0,99.32 507.5,99.05 508.0,98.79 508.5,98.52 509.0,98.24 509.5,97.96 510.0,97.68 510.5,97.38 511.0,97.07 511.5,96.74 512.0,96.40 512.5,96.05 513.0,95.67 513.5,95.28 514.0,94.88 514.5,94.45 515.0,94.00 515.5,93.53 516.0,93.02 516.5,92.48 517.0,91.90 517.5,91.29 518.0,90.65 518.5,89.97 519.0,89.25 519.5,88.50 520.0,87.69 520.5,86.84 521.0,85.93 521.5,84.96 522.0,83.93 522.5,82.83 523.0,81.67 523.5,80.44 524.0,79.13 524.5,77.75 525.0,76.29 525.5,74.76 526.0,73.15 526.5,71.47 527.0,69.75 527.5,68.00 528.0,66.25 528.5,64.48 529.0,62.69 529.5,60.95 530.0,59.46 530.5,58.36 531.0,57.71 531.5,57.43 532.0,57.39 532.5,57.77 533.0,58.51 533.5,59.49 534.0,60.62 534.5,61.82 535.0,62.96 535.5,64.01 536.0,64.94 536.5,65.74 537.0,66.43 537.5,67.01 538.0,67.52 538.5,67.96 539.0,68.36 539.5,68.73 540.0,69.07 540.5,69.40 541.0,69.72 541.5,70.04 542.0,70.35 542.5,70.68 543.0,71.00 543.5,71.32 544.0,71.64 544.5,71.95 545.0,72.26 545.5,72.55 546.0,72.83 546.5,73.10 547.0,73.35 547.5,73.58 548.0,73.78 548.5,73.95 549.0,74.10 549.5,74.21 550.0,74.28 550.5,74.33 551.0,74.35 551.5,74.35 552.0,74.35 552.5,74.34 553.0,74.34 553.5,74.37 554.0,74.42 554.5,74.50 555.0,74.62 555.5,74.78 556.0,74.99 556.5,75.25 557.0,75.55 557.5,75.90 558.0,76.31 558.5,76.76 559.0,77.25 559.5,77.79 560.0,78.36 560.5,78.97 561.0,79.61 561.5,80.28 562.0,80.98 562.5,81.70 563.0,82.43 563.5,83.18 564.0,83.93 564.5,84.67 565.0,85.40 565.5,86.11 566.0,86.81 566.5,87.49 567.0,88.15 567.5,88.77 568.0,89.36 568.5,89.92 569.0,90.44 569.5,90.94 570.0,91.41 570.5,91.86 571.0,92.31 571.5,92.74 572.0,93.17 572.5,93.57 573.0,93.95 573.5,94.31 574.0,94.63 574.5,94.94 575.0,95.22 575.5,95.48 576.0,95.72 576.5,95.95 577.0,96.16 577.5,96.36 578.0,96.54 578.5,96.72 579.0,96.89 579.5,97.04 580.0,97.18 580.5,97.30 581.0,97.46 581.5,97.60 582.0,97.68 582.5,97.83 583.0,97.92 583.5,97.93 584.0,98.02 584.5,98.16 585.0,98.28 585.5,98.41 586.0,98.51 586.5,98.57 587.0,98.66 587.5,98.74 588.0,98.81 588.5,98.76 589.0,98.97 589.5,99.08 590.0,99.23 590.5,99.60 591.0,99.53 591.5,99.40 592.0,99.43 592.5,99.68 593.0,99.82 593.5,99.70 594.0,99.62 594.5,99.72 595.0,99.89 595.5,100.09 596.0,100.27 596.5,100.28 597.0,100.23 597.5,100.39 598.0,100.71 598.5,100.56 599.0,100.23 599.5,100.35 600.0,100.68 600.5,100.89 601.0,100.85 601.5,100.78 602.0,100.75 602.5,100.87 603.0,101.48 603.5,101.75 604.0,101.86 604.5,102.11 605.0,101.75 605.5,101.40 606.0,102.03 606.5,101.92 607.0,101.68 607.5,102.40 608.0,102.47 608.5,102.36 609.0,102.74 609.5,103.30 610.0,103.21 610.5,102.75 611.0,103.52 611.5,103.56 612.0,102.82 612.5,103.20 613.0,103.44 613.5,103.49 614.0,103.86 614.5,104.00 615.0,103.49 615.5,103.92 616.0,104.37 616.5,104.00 617.0,104.41 617.5,104.73 618.0,105.08 618.5,105.35 619.0,105.03 619.5,104.79 620.0,105.22 620.5,104.45 621.0,104.47 621.5,105.60 622.0,105.63 622.5,105.95 623.0,105.56 623.5,105.73 624.0,105.85 624.5,105.40 625.0,106.40 625.5,106.58 626.0,106.56 626.5,106.04 627.0,106.06 627.5,107.60 628.0,108.33 628.5,108.61 629.0,108.21 629.5,108.23 630.0,108.62 630.5,108.63 631.0,108.34 631.5,107.58 632.0,108.33 632.5,109.32 633.0,109.14 633.5,109.70 634.0,109.98 634.5,109.86 635.0,109.11 635.5,108.93 636.0,109.64 636.5,109.42 637.0,109.18 637.5,109.71 638.0,109.81 638.5,110.24 639.0,110.27 639.5,109.79 640.0,110.43 640.5,111.37 641.0,110.57 641.5,110.06 642.0,109.45 642.5,109.92 643.0,111.08 643.5,111.08 644.0,111.47 644.5,110.95 645.0,111.55 645.5,112.08 646.0,111.69 646.5,111.66 647.0,111.52 647.5,111.15 648.0,111.10 648.5,111.52 649.0,112.15 649.5,112.87 650.0,113.11 650.5,112.88 651.0,112.25 651.5,112.22 652.0,113.20 652.5,112.77 653.0,112.61 653.5,113.34 654.0,113.11 654.5,112.57 655.0,113.67 655.5,114.49 656.0,113.30 656.5,112.99 657.0,113.54 657.5,113.68 658.0,112.65 658.5,112.65 659.0,113.02 659.5,112.46 660.0,113.06 660.5,113.26 661.0,113.29 661.5,113.82 662.0,114.16 662.5,113.46 663.0,113.12 663.5,113.81 664.0,114.16 664.5,113.02 665.0,112.11 665.5,113.03 666.0,113.69 666.5,114.33 667.0,113.82 667.5,112.91 668.0,113.68 668.5,113.21 669.0,112.11 669.5,113.07 670.0,113.65 670.5,113.34 671.0,112.94 671.5,112.75 672.0,113.56 672.5,112.73 673.0,111.74 673.5,111.79 674.0,111.30 674.5,111.97 675.0,112.37 675.5,111.89 676.0,111.66 676.5,112.07 677.0,112.73 677.5,112.63 678.0,112.72 678.5,113.01 679.0,113.62 679.5,113.33 680.0,112.87 680.5,113.20 681.0,112.76 681.5,112.38 682.0,111.48 682.5,111.56 683.0,113.18 683.5,113.25 684.0,112.89 684.5,112.79 685.0,112.87 685.5,113.43 686.0,113.39 686.5,113.38 687.0,114.05 687.5,114.11 688.0,113.28 688.5,112.43 689.0,112.60 689.5,113.40 690.0,113.03 690.5,112.64 691.0,112.20 691.5,112.22 692.0,113.05" stroke="#8e9a0c"/>
<polyline points="406.0,115.60 406.5,115.60 407.0,115.60 407.5,115.60 408.0,115.60 408.5,115.60 409.0,115.60 409.5,115.60 410.0,115.60 410.5,115.60 411.0,115.60 411.5,115.60 412.0,115.60 412.5,115.60 413.0,115.60 413.5,115.60 414.0,115.60 414.5,115.60 415.0,115.60 415.5,115.60 416.0,115.60 416.5,115.60 417.0,115.60 417.5,115.60 418.0,115.60 418.5,115.60 419.0,115.60 419.5,115.60 420.0,115.60 420.5,115.60 421.0,115.60 421.5,115.60 422.0,115.60 422.5,115.60 423.0,115.60 423.5,115.60 424.0,115.60 424.5,115.60 425.0,115.60 425.5,115.60 426.0,115.60 426.5,115.60 427.0,115.60 427.5,115.60 428.0,115.60 428.5,115.60 429.0,115.60 429.5,115.60 430.0,115.60 430.5,115.60 431.0,115.60 431.5,115.60 432.0,115.60 432.5,115.60 433.0,115.60 433.5,115.60 434.0,115.60 434.5,115.60 435.0,115.60 435.5,115.59 436.0,115.57 436.5,115.55 437.0,115.52 437.5,115.49 438.0,115.46 438.5,115.42 439.0,115.38 439.5,115.35 440.0,115.31 440.5,115.28 441.0,115.25 441.5,115.22 442.0,115.20 442.5,115.18 443.0,115.16 443.5,115.15 444.0,115.14 444.5,115.13 445.0,115.12 445.5,115.12 446.0,115.11 446.5,115.11 447.0,115.10 447.5,115.10 448.0,115.09 448.5,115.08 449.0,115.07 449.5,115.06 450.0,115.05 450.5,115.04 451.0,115.02 451.5,115.00 452.0,114.98 452.5,114.96 453.0,114.94 453.5,114.91 454.0,114.88 454.5,114.85 455.0,114.82 455.5,114.79 456.0,114.75 456.5,114.71 457.0,114.67 457.5,114.62 458.0,114.57 458.5,114.52 459.0,114.46 459.5,114.39 460.0,114.33 460.5,114.26 461.0,114.20 461.5,114.13 462.0,114.06 462.5,113.99 463.0,113.92 463.5,113.84 464.0,113.76 464.5,113.67 465.0,113.59 465.5,113.50 466.0,113.40 466.5,113.31 467.0,113.21 467.5,113.11 468.0,113.01 468.5,112.91 469.0,112.81 469.5,112.70 470.0,112.58 470.5,112.45 471.0,112.32 471.5,112.18 472.0,112.02 472.5,111.84 473.0,111.64 473.5,111.43 474.0,111.18 474.5,110.93 475.0,110.65 475.5,110.36 476.0,110.05 476.5,109.72 477.0,109.38 477.5,109.02 478.0,108.65 478.5,108.27 479.0,107.88 479.5,107.48 480.0,107.08 480.5,106.68 481.0,106.28 481.5,105.88 482.0,105.48 482.5,105.08 483.0,104.69 483.5,104.31 484.0,103.93 484.5,103.55 485.0,103.17 485.5,102.79 486.0,102.40 486.5,102.02 487.0,101.64 487.5,101.26 488.0,100.90 488.5,100.54 489.0,100.19 489.5,99.85 490.0,99.53 490.5,99.21 491.0,98.90 491.5,98.59 492.0,98.28 492.5,97.96 493.0,97.64 493.5,97.32 494.0,97.00 494.5,96.68 495.0,96.36 495.5,96.04 496.0,95.72 496.5,95.40 497.0,95.10 497.5,94.81 498.0,94.52 498.5,94.25 499.0,93.98 499.5,93.72 500.0,93.46 500.5,93.21 501.0,92.96 501.5,92.70 502.0,92.44 502.5,92.18 503.0,91.91 503.5,91.64 504.0,91.36 504.5,91.08 505.0,90.80 505.5,90.53 506.0,90.25 506.5,89.98 507.0,89.72 507.5,89.45 508.0,89.18 508.5,88.91 509.0,88.63 509.5,88.35 510.0,88.05 510.5,87.74 511.0,87.41 511.5,87.06 512.0,86.69 512.5,86.29 513.0,85.88 513.5,85.44 514.0,84.97 514.5,84.48 515.0,83.96 515.5,83.39 516.0,82.79 516.5,82.14 517.0,81.45 517.5,80.72 518.0,79.94 518.5,79.11 519.0,78.23 519.5,77.29 520.0,76.30 520.5,75.25 521.0,74.12 521.5,72.91 522.0,71.62 522.5,70.24 523.0,68.78 523.5,67.23 524.0,65.58 524.5,63.84 525.0,62.00 525.5,60.06 526.0,58.02 526.5,55.89 527.0,53.70 527.5,51.49 528.0,49.26 528.5,47.02 529.0,44.75 529.5,42.55 530.0,40.68 530.5,39.33 531.0,38.59 531.5,38.33 532.0,38.40 532.5,39.02 533.0,40.12 533.5,41.54 534.0,43.16 534.5,44.87 535.0,46.49 535.5,48.00 536.0,49.35 536.5,50.53 537.0,51.55 537.5,52.43 538.0,53.20 538.5,53.89 539.0,54.52 539.5,55.11 540.0,55.66 540.5,56.19 541.0,56.70 541.5,57.21 542.0,57.71 542.5,58.23 543.0,58.74 543.5,59.25 544.0,59.75 544.5,60.24 545.0,60.71 545.5,61.18 546.0,61.62 546.5,62.04 547.0,62.44 547.5,62.81 548.0,63.14 548.5,63.43 549.0,63.68 549.5,63.88 550.0,64.04 550.5,64.15 551.0,64.23 551.5,64.28 552.0,64.32 552.5,64.35 553.0,64.39 553.5,64.46 554.0,64.56 554.5,64.69 555.0,64.88 555.5,65.12 556.0,65.41 556.5,65.77 557.0,66.19 557.5,66.67 558.0,67.21 558.5,67.81 559.0,68.46 559.5,69.17 560.0,69.93 560.5,70.72 561.0,71.56 561.5,72.44 562.0,73.34 562.5,74.27 563.0,75.22 563.5,76.18 564.0,77.15 564.5,78.09 565.0,79.03 565.5,79.95 566.0,80.84 566.5,81.70 567.0,82.53 567.5,83.32 568.0,84.07 568.5,84.77 569.0,85.43 569.5,86.05 570.0,86.64 570.5,87.21 571.0,87.77 571.5,88.31 572.0,88.85 572.5,89.36 573.0,89.84 573.5,90.29 574.0,90.70 574.5,91.08 575.0,91.43 575.5,91.76 576.0,92.06 576.5,92.35 577.0,92.62 577.5,92.87 578.0,93.10 578.5,93.33 579.0,93.54 579.5,93.74 580.0,93.92 580.5,94.08 581.0,94.27 581.5,94.45 582.0,94.56 582.5,94.75 583.0,94.86 583.5,94.89 584.0,95.01 584.5,95.18 585.0,95.32 585.5,95.49 586.0,95.62 586.5,95.70 587.0,95.81 587.5,95.91 588.0,96.00 588.5,95.97 589.0,96.21 589.5,96.34 590.0,96.52 590.5,96.96 591.0,96.89 591.5,96.76 592.0,96.80 592.5,97.10 593.0,97.27 593.5,97.14 594.0,97.06 594.5,97.19 595.0,97.39 595.5,97.62 596.0,97.84 596.5,97.86 597.0,97.81 597.5,98.00 598.0,98.37 598.5,98.21 599.0,97.85 599.5,97.99 600.0,98.37 600.5,98.62 601.0,98.58 601.5,98.51 602.0,98.48 602.5,98.63 603.0,99.32 603.5,99.64 604.0,99.78 604.5,100.06 605.0,99.66 605.5,99.29 606.0,100.00 606.5,99.88 607.0,99.62 607.5,100.43 608.0,100.52 608.5,100.40 609.0,100.83 609.5,101.47 610.0,101.38 610.5,100.87 611.0,101.73 611.5,101.78 612.0,100.96 612.5,101.39 613.0,101.66 613.5,101.73 614.0,102.15 614.5,102.31 615.0,101.74 615.5,102.23 616.0,102.75 616.5,102.34 617.0,102.81 617.5,103.18 618.0,103.58 618.5,103.88 619.0,103.54 619.5,103.27 620.0,103.76 620.5,102.90 621.0,102.93 621.5,104.20 622.0,104.23 622.5,104.60 623.0,104.17 623.5,104.36 624.0,104.50 624.5,103.99 625.0,105.12 625.5,105.32 626.0,105.30 626.5,104.72 627.0,104.74 627.5,106.48 628.0,107.30 628.5,107.62 629.0,107.17 629.5,107.19 630.0,107.64 630.5,107.65 631.0,107.33 631.5,106.47 632.0,107.32 632.5,108.44 633.0,108.23 633.5,108.86 634.0,109.18 634.5,109.05 635.0,108.21 635.5,108.01 636.0,108.81 636.5,108.56 637.0,108.30 637.5,108.90 638.0,109.01 638.5,109.49 639.0,109.53 639.5,108.99 640.0,109.71 640.5,110.77 641.0,109.87 641.5,109.30 642.0,108.61 642.5,109.14 643.0,110.45 643.5,110.45 644.0,110.88 644.5,110.30 645.0,110.97 645.5,111.57 646.0,111.14 646.5,111.11 647.0,110.95 647.5,110.53 648.0,110.48 648.5,110.95 649.0,111.66 649.5,112.47 650.0,112.74 650.5,112.48 651.0,111.77 651.5,111.74 652.0,112.84 652.5,112.37 653.0,112.19 653.5,113.00 654.0,112.75 654.5,112.14 655.0,113.38 655.5,114.30 656.0,112.97 656.5,112.62 657.0,113.24 657.5,113.39 658.0,112.23 658.5,112.24 659.0,112.65 659.5,112.02 660.0,112.69 660.5,112.92 661.0,112.95 661.5,113.55 662.0,113.93 662.5,113.15 663.0,112.77 663.5,113.54 664.0,113.93 664.5,112.65 665.0,111.63 665.5,112.66 666.0,113.40 666.5,114.13 667.0,113.55 667.5,112.52 668.0,113.39 668.5,112.86 669.0,111.62 669.5,112.71 670.0,113.36 670.5,113.01 671.0,112.56 671.5,112.34 672.0,113.25 672.5,112.32 673.0,111.21 673.5,111.27 674.0,110.72 674.5,111.47 675.0,111.92 675.5,111.38 676.0,111.12 676.5,111.59 677.0,112.33 677.5,112.21 678.0,112.32 678.5,112.65 679.0,113.32 679.5,113.00 680.0,112.48 680.5,112.86 681.0,112.37 681.5,111.93 682.0,110.92 682.5,111.01 683.0,112.83 683.5,112.91 684.0,112.51 684.5,112.40 685.0,112.49 685.5,113.12 686.0,113.07 686.5,113.06 687.0,113.82 687.5,113.88 688.0,112.95 688.5,111.99 689.0,112.19 689.5,113.09 690.0,112.67 690.5,112.23 691.0,111.73 691.5,111.76 692.0,112.69" stroke="#ff6010"/>
<polyline points="406.0,115.60 406.5,115.60 407.0,115.60 407.5,115.60 408.0,115.60 408.5,115.60 409.0,115.60 409.5,115.60 410.0,115.60 410.5,115.60 411.0,115.60 411.5,115.60 412.0,115.60 412.5,115.60 413.0,115.60 413.5,115.60 414.0,115.60 414.5,115.60 415.0,115.60 415.5,115.60 416.0,115.60 416.5,115.60 417.0,115.60 417.5,115.60 418.0,115.60 418.5,115.60 419.0,115.60 419.5,115.60 420.0,115.60 420.5,115.60 421.0,115.60 421.5,115.60 422.0,115.60 422.5,115.60 423.0,115.60 423.5,115.60 424.0,115.60 424.5,115.60 425.0,115.60 425.5,115.60 426.0,115.60 426.5,115.60 427.0,115.60 427.5,115.60 428.0,115.60 428.5,115.60 429.0,115.60 429.5,115.60 430.0,115.60 430.5,115.60 431.0,115.60 431.5,115.60 432.0,115.60 432.5,115.60 433.0,115.60 433.5,115.60 434.0,115.60 434.5,115.60 435.0,115.59 435.5,115.58 436.0,115.56 436.5,115.53 437.0,115.49 437.5,115.45 438.0,115.40 438.5,115.35 439.0,115.30 439.5,115.24 440.0,115.19 440.5,115.14 441.0,115.10 441.5,115.06 442.0,115.03 442.5,115.00 443.0,114.97 443.5,114.94 444.0,114.92 444.5,114.90 445.0,114.88 445.5,114.86 446.0,114.84 446.5,114.82 447.0,114.80 447.5,114.78 448.0,114.75 448.5,114.73 449.0,114.70 449.5,114.67 450.0,114.64 450.5,114.60 451.0,114.56 451.5,114.51 452.0,114.46 452.5,114.41 453.0,114.35 453.5,114.29 454.0,114.23 454.5,114.16 455.0,114.09 455.5,114.02 456.0,113.94 456.5,113.85 457.0,113.76 457.5,113.67 458.0,113.56 458.5,113.45 459.0,113.33 459.5,113.21 460.0,113.08 460.5,112.95 461.0,112.81 461.5,112.68 462.0,112.54 462.5,112.40 463.0,112.24 463.5,112.08 464.0,111.92 464.5,111.75 465.0,111.58 465.5,111.40 466.0,111.22 466.5,111.03 467.0,110.84 467.5,110.65 468.0,110.45 468.5,110.25 469.0,110.05 469.5,109.83 470.0,109.61 470.5,109.38 471.0,109.13 471.5,108.87 472.0,108.60 472.5,108.30 473.0,107.97 473.5,107.62 474.0,107.24 474.5,106.84 475.0,106.42 475.5,105.98 476.0,105.52 476.5,105.03 477.0,104.53 477.5,104.01 478.0,103.48 478.5,102.93 479.0,102.38 479.5,101.82 480.0,101.25 480.5,100.69 481.0,100.13 481.5,99.57 482.0,99.01 482.5,98.47 483.0,97.93 483.5,97.41 484.0,96.89 484.5,96.37 485.0,95.85 485.5,95.34 486.0,94.83 486.5,94.32 487.0,93.82 487.5,93.32 488.0,92.85 488.5,92.38 489.0,91.93 489.5,91.50 490.0,91.09 490.5,90.69 491.0,90.29 491.5,89.91 492.0,89.52 492.5,89.13 493.0,88.75 493.5,88.36 494.0,87.97 494.5,87.59 495.0,87.21 495.5,86.83 496.0,86.46 496.5,86.10 497.0,85.75 497.5,85.42 498.0,85.10 498.5,84.79 499.0,84.50 499.5,84.22 500.0,83.95 500.5,83.68 501.0,83.42 501.5,83.15 502.0,82.89 502.5,82.61 503.0,82.34 503.5,82.06 504.0,81.77 504.5,81.49 505.0,81.21 505.5,80.93 506.0,80.65 506.5,80.38 507.0,80.12 507.5,79.85 508.0,79.58 508.5,79.31 509.0,79.03 509.5,78.74 510.0,78.43 510.5,78.11 511.0,77.76 511.5,77.38 512.0,76.98 512.5,76.54 513.0,76.08 513.5,75.59 514.0,75.07 514.5,74.51 515.0,73.91 515.5,73.26 516.0,72.56 516.5,71.81 517.0,71.01 517.5,70.14 518.0,69.22 518.5,68.24 519.0,67.20 519.5,66.09 520.0,64.91 520.5,63.65 521.0,62.30 521.5,60.85 522.0,59.30 522.5,57.65 523.0,55.89 523.5,54.02 524.0,52.04 524.5,49.93 525.0,47.70 525.5,45.35 526.0,42.88 526.5,40.31 527.0,37.65 527.5,34.97 528.0,32.28 528.5,29.56 529.0,26.81 529.5,24.15 530.0,21.90 530.5,20.30 531.0,19.47 531.5,19.23 532.0,19.40 532.5,20.26 533.0,21.73 533.5,23.59 534.0,25.70 534.5,27.92 535.0,30.03 535.5,31.99 536.0,33.76 536.5,35.31 537.0,36.66 537.5,37.84 538.0,38.88 538.5,39.82 539.0,40.68 539.5,41.48 540.0,42.24 540.5,42.97 541.0,43.68 541.5,44.38 542.0,45.07 542.5,45.78 543.0,46.48 543.5,47.17 544.0,47.85 544.5,48.52 545.0,49.17 545.5,49.80 546.0,50.41 546.5,50.99 547.0,51.53 547.5,52.04 548.0,52.50 548.5,52.91 549.0,53.27 549.5,53.56 550.0,53.80 550.5,53.98 551.0,54.11 551.5,54.21 552.0,54.29 552.5,54.36 553.0,54.44 553.5,54.55 554.0,54.69 554.5,54.89 555.0,55.14 555.5,55.45 556.0,55.84 556.5,56.30 557.0,56.83 557.5,57.43 558.0,58.11 558.5,58.86 559.0,59.68 559.5,60.55 560.0,61.49 560.5,62.48 561.0,63.51 561.5,64.59 562.0,65.70 562.5,66.84 563.0,68.01 563.5,69.19 564.0,70.36 564.5,71.52 565.0,72.66 565.5,73.78 566.0,74.86 566.5,75.91 567.0,76.92 567.5,77.88 568.0,78.78 568.5,79.63 569.0,80.42 569.5,81.16 570.0,81.88 570.5,82.56 571.0,83.23 571.5,83.89 572.0,84.53 572.5,85.15 573.0,85.73 573.5,86.26 574.0,86.76 574.5,87.22 575.0,87.65 575.5,88.04 576.0,88.41 576.5,88.75 577.0,89.08 577.5,89.38 578.0,89.67 578.5,89.94 579.0,90.20 579.5,90.44 580.0,90.65 580.5,90.85 581.0,91.09 581.5,91.30 582.0,91.44 582.5,91.66 583.0,91.81 583.5,91.85 584.0,92.00 584.5,92.20 585.0,92.37 585.5,92.56 586.0,92.72 586.5,92.82 587.0,92.96 587.5,93.08 588.0,93.20 588.5,93.17 589.0,93.45 589.5,93.61 590.0,93.82 590.5,94.32 591.0,94.25 591.5,94.12 592.0,94.18 592.5,94.52 593.0,94.71 593.5,94.58 594.0,94.50 594.5,94.65 595.0,94.89 595.5,95.16 596.0,95.40 596.5,95.43 597.0,95.39 597.5,95.61 598.0,96.03 598.5,95.86 599.0,95.47 599.5,95.63 600.0,96.06 600.5,96.35 601.0,96.31 601.5,96.24 602.0,96.22 602.5,96.40 603.0,97.17 603.5,97.53 604.0,97.69 604.5,98.01 605.0,97.58 605.5,97.17 606.0,97.97 606.5,97.84 607.0,97.55 607.5,98.46 608.0,98.56 608.5,98.44 609.0,98.93 609.5,99.64 610.0,99.54 610.5,98.98 611.0,99.95 611.5,100.01 612.0,99.10 612.5,99.57 613.0,99.89 613.5,99.96 614.0,100.44 614.5,100.63 615.0,100.00 615.5,100.55 616.0,101.12 616.5,100.68 617.0,101.21 617.5,101.62 618.0,102.07 618.5,102.42 619.0,102.04 619.5,101.74 620.0,102.29 620.5,101.34 621.0,101.38 621.5,102.80 622.0,102.84 622.5,103.25 623.0,102.77 623.5,102.98 624.0,103.15 624.5,102.58 625.0,103.84 625.5,104.06 626.0,104.04 626.5,103.40 627.0,103.43 627.5,105.36 628.0,106.27 628.5,106.62 629.0,106.14 629.5,106.16 630.0,106.66 630.5,106.67 631.0,106.32 631.5,105.36 632.0,106.31 632.5,107.55 633.0,107.33 633.5,108.03 634.0,108.39 634.5,108.24 635.0,107.31 635.5,107.09 636.0,107.98 636.5,107.71 637.0,107.41 637.5,108.08 638.0,108.21 638.5,108.75 639.0,108.79 639.5,108.19 640.0,108.99 640.5,110.17 641.0,109.17 641.5,108.54 642.0,107.77 642.5,108.36 643.0,109.82 643.5,109.82 644.0,110.30 644.5,109.66 645.0,110.40 645.5,111.07 646.0,110.59 646.5,110.55 647.0,110.38 647.5,109.92 648.0,109.85 648.5,110.39 649.0,111.17 649.5,112.07 650.0,112.37 650.5,112.08 651.0,111.30 651.5,111.26 652.0,112.49 652.5,111.96 653.0,111.76 653.5,112.66 654.0,112.38 654.5,111.71 655.0,113.09 655.5,114.11 656.0,112.63 656.5,112.24 657.0,112.93 657.5,113.10 658.0,111.81 658.5,111.82 659.0,112.28 659.5,111.58 660.0,112.32 660.5,112.58 661.0,112.61 661.5,113.28 662.0,113.71 662.5,112.83 663.0,112.41 663.5,113.27 664.0,113.71 664.5,112.28 665.0,111.14 665.5,112.29 666.0,113.12 666.5,113.92 667.0,113.28 667.5,112.14 668.0,113.10 668.5,112.52 669.0,111.14 669.5,112.35 670.0,113.07 670.5,112.68 671.0,112.18 671.5,111.94 672.0,112.95 672.5,111.92 673.0,110.68 673.5,110.75 674.0,110.13 674.5,110.97 675.0,111.47 675.5,110.87 676.0,110.59 676.5,111.10 677.0,111.92 677.5,111.80 678.0,111.91 678.5,112.28 679.0,113.03 679.5,112.67 680.0,112.10 680.5,112.52 681.0,111.97 681.5,111.49 682.0,110.36 682.5,110.47 683.0,112.49 683.5,112.58 684.0,112.13 684.5,112.01 685.0,112.10 685.5,112.81 686.0,112.75 686.5,112.75 687.0,113.58 687.5,113.66 688.0,112.62 688.5,111.55 689.0,111.77 689.5,112.77 690.0,112.31 690.5,111.82 691.0,111.27 691.5,111.30 692.0,112.33" stroke="#6496d2"/>
</g>
<rect x="406.5" y="15.5" width="286" height="201" fill="none" stroke="#999999" stroke-width="1"/>
<path d="M402.0 216.50H406.0M404.0 203.94H406.0M402.0 191.38H406.0M404.0 178.81H406.0M402.0 166.25H406.0M404.0 153.69H406.0M402.0 141.12H406.0M404.0 128.56H406.0M402.0 116.00H406.0M404.0 103.44H406.0M402.0 90.88H406.0M404.0 78.31H406.0M402.0 65.75H406.0M404.0 53.19H406.0M402.0 40.62H406.0M404.0 28.06H406.0M402.0 15.50H406.0M406.50 216.5V220.5M430.33 216.5V218.5M454.17 216.5V220.5M478.00 216.5V218.5M501.83 216.5V220.5M525.67 216.5V218.5M549.50 216.5V220.5M573.33 216.5V218.5M597.17 216.5V220.5M621.00 216.5V218.5M644.83 216.5V220.5M668.67 216.5V218.5M692.50 216.5V220.5" stroke="#999999" stroke-width="1" fill="none"/>
<text x="399.8" y="220.60" text-anchor="end" class="tl">-8</text>
<text x="399.8" y="195.47" text-anchor="end" class="tl">-6</text>
<text x="399.8" y="170.35" text-anchor="end" class="tl">-4</text>
<text x="399.8" y="145.22" text-anchor="end" class="tl">-2</text>
<text x="399.8" y="120.10" text-anchor="end" class="tl">0</text>
<text x="399.8" y="94.97" text-anchor="end" class="tl">2</text>
<text x="399.8" y="69.85" text-anchor="end" class="tl">4</text>
<text x="399.8" y="44.73" text-anchor="end" class="tl">6</text>
<text x="399.8" y="19.60" text-anchor="end" class="tl">8</text>
<text x="406.50" y="234.8" text-anchor="middle" class="tl">1400</text>
<text x="454.17" y="234.8" text-anchor="middle" class="tl">1450</text>
<text x="501.83" y="234.8" text-anchor="middle" class="tl">1500</text>
<text x="549.50" y="234.8" text-anchor="middle" class="tl">1550</text>
<text x="597.17" y="234.8" text-anchor="middle" class="tl">1600</text>
<text x="644.83" y="234.8" text-anchor="middle" class="tl">1650</text>
<text x="692.50" y="234.8" text-anchor="middle" class="tl">1700</text>
<text x="519.0" y="10.5" class="tl">10W</text>
<text x="412.3" y="32.6" class="tl">b)</text>
<text x="444.6" y="65.6" class="tl">p=1</text>
<text x="439.1" y="173.2" class="tl">p=0</text>
<text x="571.8" y="61.9" class="tl">L-band</text>
<rect x="568.5" y="68.5" width="51.5" height="74.8" fill="none" stroke="#3a3a3a" stroke-width="1"/>
<path d="M458.3 153.7 C463 147 467 139 468.9 129 C470 120 469.5 105 466.6 91.5" fill="none" stroke="#1a1a1a" stroke-width="1.3"/><path d="M461.5 71.5 L459.9 92.2 L470 90.5 Z" fill="#000"/>
<text x="549.6" y="261.2" text-anchor="middle" class="at">Wavelength (nm)</text>
<text transform="translate(381.3,193.0) rotate(-90)" class="at" style="font-size:18.9px">Gain (x10<tspan class="sup" dx="1.3" dy="-6.3">-21</tspan><tspan dy="6.3">) (cm</tspan><tspan class="sup" dy="-6.5">2</tspan><tspan dy="6.5">)</tspan></text>
</svg>
</body></html>
